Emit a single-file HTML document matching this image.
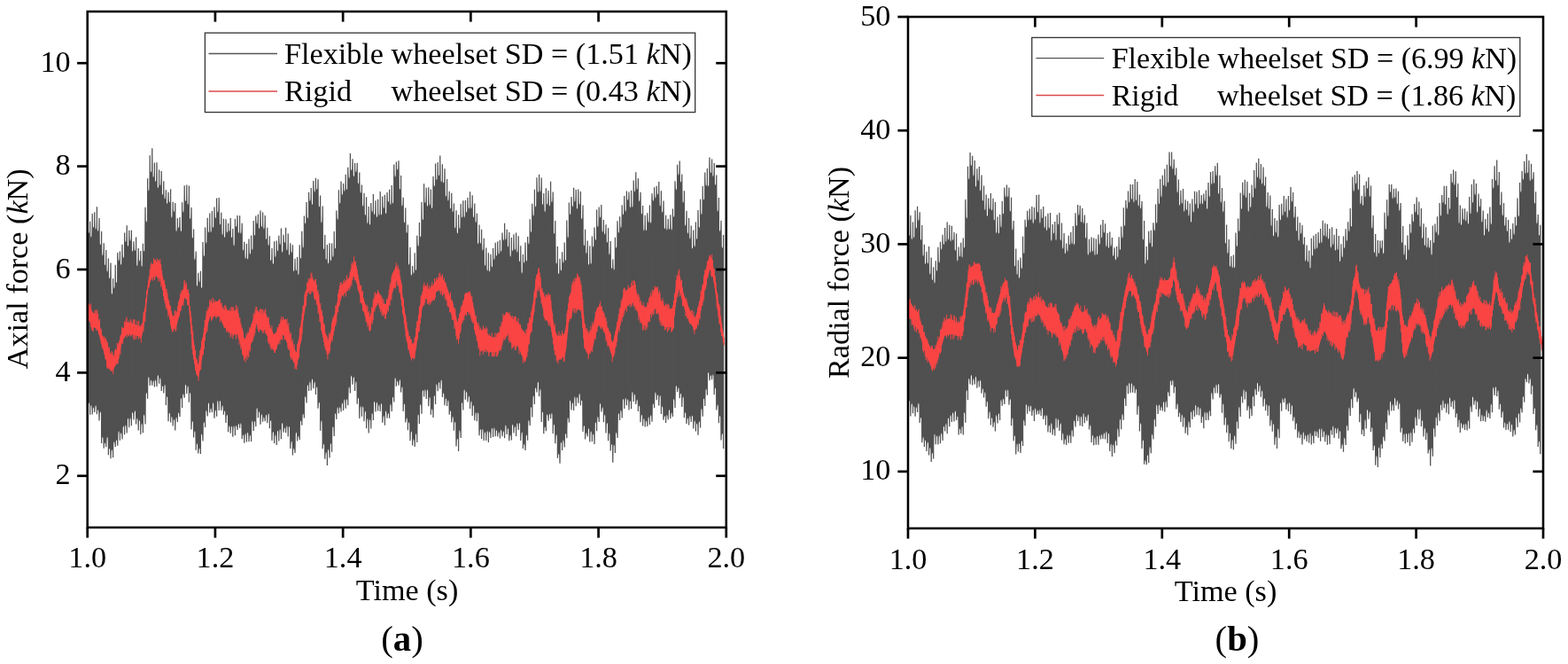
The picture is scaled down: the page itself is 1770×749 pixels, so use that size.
<!DOCTYPE html>
<html><head><meta charset="utf-8"><title>Axial and radial force</title>
<style>html,body{margin:0;padding:0;background:#fff;overflow:hidden;}svg{display:block;}
svg text{font-family:"Liberation Serif", "Times New Roman", serif;font-size:34.2px;}</style></head>
<body><svg width="1770" height="749" viewBox="0 0 1770 749">
<rect width="1770" height="749" fill="#fff"/>
<path d="M99.0,250.4 L99.5,261.3 L100.3,263.3 L101.0,261.3 L101.6,250.3 L102.1,265.9 L102.9,267.9 L103.6,265.9 L104.2,241.5 L104.7,255.0 L105.5,257.0 L106.2,255.0 L106.8,239.8 L107.3,257.1 L108.1,259.1 L108.8,257.1 L109.4,233.8 L109.9,259.0 L110.7,261.0 L111.4,259.0 L112.0,246.5 L112.5,274.6 L113.3,276.6 L114.0,274.6 L114.6,261.6 L115.1,286.7 L115.9,288.7 L116.6,286.7 L117.2,274.8 L117.7,297.6 L118.5,299.6 L119.2,297.6 L119.8,282.6 L120.3,304.9 L121.1,306.9 L121.8,304.9 L122.4,291.9 L122.9,312.4 L123.7,314.4 L124.4,312.4 L125.0,297.0 L125.5,330.2 L126.3,332.2 L127.0,330.2 L127.6,314.8 L128.1,323.8 L128.9,325.8 L129.6,323.8 L130.2,299.3 L130.7,317.3 L131.5,319.3 L132.2,317.3 L132.8,285.5 L133.3,292.8 L134.1,294.8 L134.8,292.8 L135.4,283.9 L135.9,297.1 L136.7,299.1 L137.4,297.1 L138.0,276.3 L138.5,289.3 L139.3,291.3 L140.0,289.3 L140.6,263.1 L141.1,271.6 L141.9,273.6 L142.6,271.6 L143.2,254.8 L143.7,275.9 L144.5,277.9 L145.2,275.9 L145.8,260.2 L146.3,270.2 L147.1,272.2 L147.8,270.2 L148.4,260.3 L148.9,282.0 L149.7,284.0 L150.4,282.0 L151.0,272.7 L151.5,281.2 L152.3,283.2 L153.0,281.2 L153.6,268.0 L154.1,298.4 L154.9,300.4 L155.6,298.4 L156.2,280.6 L156.7,292.8 L157.5,294.8 L158.2,292.8 L158.8,283.6 L159.3,299.2 L160.1,301.2 L160.8,299.2 L161.4,275.3 L161.9,282.0 L162.7,284.0 L163.4,282.0 L164.0,234.2 L164.5,248.7 L165.3,250.7 L166.0,248.7 L166.6,201.7 L167.1,213.7 L167.9,215.7 L168.6,213.7 L169.2,175.8 L169.7,192.5 L170.5,194.5 L171.2,192.5 L171.8,167.8 L172.3,198.6 L173.1,200.6 L173.8,198.6 L174.4,184.0 L174.9,203.2 L175.7,205.2 L176.4,203.2 L177.0,183.8 L177.5,210.4 L178.3,212.4 L179.0,210.4 L179.6,192.0 L180.1,207.7 L180.9,209.7 L181.6,207.7 L182.2,193.4 L182.7,218.1 L183.5,220.1 L184.2,218.1 L184.8,204.8 L185.3,222.9 L186.1,224.9 L186.8,222.9 L187.4,214.8 L187.9,228.2 L188.7,230.2 L189.4,228.2 L190.0,217.2 L190.5,226.7 L191.3,228.7 L192.0,226.7 L192.6,213.8 L193.1,244.0 L193.9,246.0 L194.6,244.0 L195.2,228.2 L195.7,237.3 L196.5,239.3 L197.2,237.3 L197.8,229.6 L198.3,259.6 L199.1,261.6 L199.8,259.6 L200.4,246.8 L200.9,255.6 L201.7,257.6 L202.4,255.6 L203.0,245.4 L203.5,259.6 L204.3,261.6 L205.0,259.6 L205.6,228.7 L206.1,237.9 L206.9,239.9 L207.6,237.9 L208.2,209.7 L208.7,225.3 L209.5,227.3 L210.2,225.3 L210.8,209.0 L211.3,229.2 L212.1,231.2 L212.8,229.2 L213.4,210.1 L213.9,245.2 L214.7,247.2 L215.4,245.2 L216.0,234.4 L216.5,266.9 L217.3,268.9 L218.0,266.9 L218.6,259.0 L219.1,291.6 L219.9,293.6 L220.6,291.6 L221.2,284.1 L221.7,321.0 L222.5,323.0 L223.2,321.0 L223.8,308.2 L224.3,316.7 L225.1,318.7 L225.8,316.7 L226.4,306.2 L226.9,323.3 L227.7,325.3 L228.4,323.3 L229.0,273.6 L229.5,287.6 L230.3,289.6 L231.0,287.6 L231.6,257.1 L232.1,272.9 L232.9,274.9 L233.6,272.9 L234.2,246.3 L234.7,260.5 L235.5,262.5 L236.2,260.5 L236.8,241.0 L237.3,260.5 L238.1,262.5 L238.8,260.5 L239.4,238.5 L239.9,255.3 L240.7,257.3 L241.4,255.3 L242.0,234.0 L242.5,244.5 L243.3,246.5 L244.0,244.5 L244.6,223.9 L245.1,237.9 L245.9,239.9 L246.6,237.9 L247.2,223.6 L247.7,251.8 L248.5,253.8 L249.2,251.8 L249.8,240.2 L250.3,263.6 L251.1,265.6 L251.8,263.6 L252.4,247.2 L252.9,266.2 L253.7,268.2 L254.4,266.2 L255.0,247.8 L255.5,260.7 L256.3,262.7 L257.0,260.7 L257.6,252.5 L258.1,259.6 L258.9,261.6 L259.6,259.6 L260.2,246.5 L260.7,266.4 L261.5,268.4 L262.2,266.4 L262.8,258.4 L263.3,275.8 L264.1,277.8 L264.8,275.8 L265.4,247.5 L265.9,254.3 L266.7,256.3 L267.4,254.3 L268.0,243.5 L268.5,261.2 L269.3,263.2 L270.0,261.2 L270.6,243.8 L271.1,262.1 L271.9,264.1 L272.6,262.1 L273.2,252.2 L273.7,280.8 L274.5,282.8 L275.2,280.8 L275.8,273.3 L276.3,290.2 L277.1,292.2 L277.8,290.2 L278.4,275.5 L278.9,290.8 L279.7,292.8 L280.4,290.8 L281.0,269.9 L281.5,284.9 L282.3,286.9 L283.0,284.9 L283.6,265.9 L284.1,280.5 L284.9,282.5 L285.6,280.5 L286.2,249.4 L286.7,264.1 L287.5,266.1 L288.2,264.1 L288.8,244.0 L289.3,251.1 L290.1,253.1 L290.8,251.1 L291.4,242.2 L291.9,256.3 L292.7,258.3 L293.4,256.3 L294.0,238.0 L294.6,254.3 L295.3,256.3 L296.1,254.3 L296.6,240.0 L297.2,256.7 L297.9,258.7 L298.7,256.7 L299.2,243.5 L299.8,268.2 L300.5,270.2 L301.3,268.2 L301.8,257.3 L302.4,275.6 L303.1,277.6 L303.9,275.6 L304.4,266.7 L305.0,292.5 L305.7,294.5 L306.5,292.5 L307.0,280.6 L307.6,296.3 L308.3,298.3 L309.1,296.3 L309.6,272.7 L310.2,288.5 L310.9,290.5 L311.7,288.5 L312.2,272.0 L312.8,281.6 L313.5,283.6 L314.3,281.6 L314.8,266.3 L315.4,274.6 L316.1,276.6 L316.9,274.6 L317.4,258.0 L318.0,282.9 L318.7,284.9 L319.5,282.9 L320.0,265.3 L320.6,272.3 L321.3,274.3 L322.1,272.3 L322.6,257.2 L323.2,280.9 L323.9,282.9 L324.7,280.9 L325.2,263.9 L325.8,286.0 L326.5,288.0 L327.3,286.0 L327.8,274.8 L328.4,283.6 L329.1,285.6 L329.9,283.6 L330.4,276.8 L331.0,304.4 L331.7,306.4 L332.5,304.4 L333.0,292.2 L333.6,303.8 L334.3,305.8 L335.1,303.8 L335.6,290.4 L336.2,308.4 L336.9,310.4 L337.7,308.4 L338.2,276.8 L338.8,290.0 L339.5,292.0 L340.3,290.0 L340.8,261.3 L341.4,278.1 L342.1,280.1 L342.9,278.1 L343.4,243.9 L344.0,250.7 L344.7,252.7 L345.5,250.7 L346.0,228.4 L346.6,244.4 L347.3,246.4 L348.1,244.4 L348.6,217.4 L349.2,225.4 L349.9,227.4 L350.7,225.4 L351.2,212.4 L351.8,229.3 L352.5,231.3 L353.3,229.3 L353.8,204.6 L354.4,214.9 L355.1,216.9 L355.9,214.9 L356.4,201.3 L357.0,212.3 L357.7,214.3 L358.5,212.3 L359.0,202.8 L359.6,231.7 L360.3,233.7 L361.1,231.7 L361.6,221.0 L362.2,249.7 L362.9,251.7 L363.7,249.7 L364.2,233.0 L364.8,279.5 L365.5,281.5 L366.3,279.5 L366.8,265.5 L367.4,291.4 L368.1,293.4 L368.9,291.4 L369.4,276.5 L370.0,295.8 L370.7,297.8 L371.5,295.8 L372.0,274.7 L372.6,292.4 L373.3,294.4 L374.1,292.4 L374.6,275.1 L375.2,288.4 L375.9,290.4 L376.7,288.4 L377.2,261.5 L377.8,278.8 L378.5,280.8 L379.3,278.8 L379.8,237.9 L380.4,246.2 L381.1,248.2 L381.9,246.2 L382.4,214.8 L383.0,228.0 L383.7,230.0 L384.5,228.0 L385.0,205.1 L385.6,218.3 L386.3,220.3 L387.1,218.3 L387.6,207.4 L388.2,214.3 L388.9,216.3 L389.7,214.3 L390.2,197.3 L390.8,212.2 L391.5,214.2 L392.3,212.2 L392.8,189.2 L393.4,199.5 L394.1,201.5 L394.9,199.5 L395.4,173.6 L396.0,190.4 L396.7,192.4 L397.5,190.4 L398.0,179.8 L398.6,197.4 L399.3,199.4 L400.1,197.4 L400.6,184.5 L401.2,192.8 L401.9,194.8 L402.7,192.8 L403.2,184.3 L403.8,205.5 L404.5,207.5 L405.3,205.5 L405.8,194.9 L406.4,216.2 L407.1,218.2 L407.9,216.2 L408.4,208.9 L409.0,230.9 L409.7,232.9 L410.5,230.9 L411.0,218.2 L411.6,241.2 L412.3,243.2 L413.1,241.2 L413.6,222.7 L414.2,250.5 L414.9,252.5 L415.7,250.5 L416.2,233.4 L416.8,251.9 L417.5,253.9 L418.3,251.9 L418.8,229.6 L419.4,237.7 L420.1,239.7 L420.9,237.7 L421.4,219.4 L422.0,240.6 L422.7,242.6 L423.5,240.6 L424.0,226.7 L424.6,243.4 L425.3,245.4 L426.1,243.4 L426.6,225.3 L427.2,241.5 L427.9,243.5 L428.7,241.5 L429.2,216.6 L429.8,240.8 L430.5,242.8 L431.3,240.8 L431.8,222.0 L432.4,233.6 L433.1,235.6 L433.9,233.6 L434.4,220.2 L435.0,239.5 L435.7,241.5 L436.5,239.5 L437.0,217.6 L437.6,226.2 L438.3,228.2 L439.1,226.2 L439.6,214.2 L440.2,229.5 L440.9,231.5 L441.7,229.5 L442.2,209.6 L442.8,227.8 L443.5,229.8 L444.3,227.8 L444.8,186.1 L445.4,197.9 L446.1,199.9 L446.9,197.9 L447.4,182.9 L448.0,189.9 L448.7,191.9 L449.5,189.9 L450.0,181.8 L450.6,212.0 L451.3,214.0 L452.1,212.0 L452.6,198.5 L453.2,230.9 L453.9,232.9 L454.7,230.9 L455.2,223.2 L455.8,249.5 L456.5,251.5 L457.3,249.5 L457.8,234.9 L458.4,261.4 L459.1,263.4 L459.9,261.4 L460.4,254.1 L461.0,297.1 L461.7,299.1 L462.5,297.1 L463.0,279.6 L463.6,309.1 L464.3,311.1 L465.1,309.1 L465.6,300.5 L466.2,307.1 L466.9,309.1 L467.7,307.1 L468.2,285.8 L468.8,303.3 L469.5,305.3 L470.3,303.3 L470.8,266.3 L471.4,276.3 L472.1,278.3 L472.9,276.3 L473.4,251.6 L474.0,265.8 L474.7,267.8 L475.5,265.8 L476.0,228.6 L476.6,246.6 L477.3,248.6 L478.1,246.6 L478.6,207.7 L479.2,227.4 L479.9,229.4 L480.7,227.4 L481.2,212.2 L481.8,231.0 L482.5,233.0 L483.3,231.0 L483.8,211.7 L484.4,229.9 L485.1,231.9 L485.9,229.9 L486.4,214.0 L487.0,233.5 L487.7,235.5 L488.5,233.5 L489.0,199.4 L489.6,208.4 L490.3,210.4 L491.1,208.4 L491.6,185.0 L492.2,201.5 L492.9,203.5 L493.7,201.5 L494.2,183.6 L494.8,196.4 L495.5,198.4 L496.3,196.4 L496.8,176.1 L497.4,203.8 L498.1,205.8 L498.9,203.8 L499.4,185.8 L500.0,204.7 L500.7,206.7 L501.5,204.7 L502.0,190.7 L502.6,219.9 L503.3,221.9 L504.1,219.9 L504.6,202.4 L505.2,225.1 L505.9,227.1 L506.7,225.1 L507.2,216.3 L507.8,233.7 L508.5,235.7 L509.3,233.7 L509.8,218.3 L510.4,237.8 L511.1,239.8 L511.9,237.8 L512.4,229.9 L513.0,255.7 L513.7,257.7 L514.5,255.7 L515.0,237.7 L515.6,261.8 L516.3,263.8 L517.1,261.8 L517.6,242.7 L518.2,256.6 L518.9,258.6 L519.7,256.6 L520.2,230.6 L520.8,243.8 L521.5,245.8 L522.3,243.8 L522.8,226.7 L523.4,243.8 L524.1,245.8 L524.9,243.8 L525.4,226.4 L526.0,238.1 L526.7,240.1 L527.5,238.1 L528.0,223.5 L528.6,233.8 L529.3,235.8 L530.1,233.8 L530.6,216.7 L531.2,233.7 L531.9,235.7 L532.7,233.7 L533.2,220.7 L533.8,243.5 L534.5,245.5 L535.3,243.5 L535.8,229.9 L536.4,249.6 L537.1,251.6 L537.9,249.6 L538.4,241.2 L539.0,273.4 L539.7,275.4 L540.5,273.4 L541.0,253.9 L541.6,273.0 L542.3,275.0 L543.1,273.0 L543.6,259.2 L544.2,280.9 L544.9,282.9 L545.7,280.9 L546.2,269.3 L546.8,298.1 L547.5,300.1 L548.3,298.1 L548.8,279.9 L549.4,303.9 L550.1,305.9 L550.9,303.9 L551.4,285.7 L552.0,304.7 L552.7,306.7 L553.5,304.7 L554.0,287.3 L554.6,299.7 L555.3,301.7 L556.1,299.7 L556.6,280.4 L557.2,291.6 L557.9,293.6 L558.7,291.6 L559.2,274.2 L559.8,286.9 L560.5,288.9 L561.3,286.9 L561.8,272.8 L562.4,285.1 L563.1,287.1 L563.9,285.1 L564.4,271.2 L565.0,282.2 L565.7,284.2 L566.5,282.2 L567.0,263.0 L567.6,269.5 L568.3,271.5 L569.1,269.5 L569.6,252.3 L570.2,269.0 L570.9,271.0 L571.7,269.0 L572.2,259.3 L572.8,276.7 L573.5,278.7 L574.3,276.7 L574.8,262.6 L575.4,287.9 L576.1,289.9 L576.9,287.9 L577.4,268.5 L578.0,281.6 L578.7,283.6 L579.5,281.6 L580.0,264.7 L580.6,280.2 L581.3,282.2 L582.1,280.2 L582.6,263.1 L583.2,283.3 L583.9,285.3 L584.7,283.3 L585.2,266.7 L585.8,293.5 L586.5,295.5 L587.3,293.5 L587.8,277.7 L588.4,306.7 L589.1,308.7 L589.9,306.7 L590.4,287.6 L591.0,295.1 L591.7,297.1 L592.5,295.1 L593.0,274.1 L593.6,293.1 L594.3,295.1 L595.1,293.1 L595.6,267.4 L596.2,274.1 L596.9,276.1 L597.7,274.1 L598.2,247.7 L598.8,260.3 L599.5,262.3 L600.3,260.3 L600.8,230.3 L601.4,241.9 L602.1,243.9 L602.9,241.9 L603.4,214.3 L604.0,231.7 L604.7,233.7 L605.5,231.7 L606.0,200.8 L606.6,215.2 L607.3,217.2 L608.1,215.2 L608.6,197.2 L609.2,214.7 L609.9,216.7 L610.7,214.7 L611.2,201.1 L611.8,229.3 L612.5,231.3 L613.3,229.3 L613.8,218.5 L614.4,237.6 L615.1,239.6 L615.9,237.6 L616.4,212.8 L617.0,229.1 L617.7,231.1 L618.5,229.1 L619.0,215.5 L619.6,230.7 L620.3,232.7 L621.1,230.7 L621.6,205.2 L622.2,226.8 L622.9,228.8 L623.7,226.8 L624.2,217.0 L624.8,262.0 L625.5,264.0 L626.3,262.0 L626.8,249.4 L627.4,296.0 L628.1,298.0 L628.9,296.0 L629.4,278.4 L630.0,307.5 L630.7,309.5 L631.5,307.5 L632.0,292.3 L632.6,303.7 L633.3,305.7 L634.1,303.7 L634.6,284.8 L635.2,294.9 L635.9,296.9 L636.7,294.9 L637.2,274.1 L637.8,292.3 L638.5,294.3 L639.3,292.3 L639.8,249.1 L640.4,266.7 L641.1,268.7 L641.9,266.7 L642.4,229.0 L643.0,240.4 L643.7,242.4 L644.5,240.4 L645.0,222.4 L645.6,231.4 L646.3,233.4 L647.1,231.4 L647.6,212.2 L648.2,226.3 L648.9,228.3 L649.7,226.3 L650.2,214.5 L650.8,233.9 L651.5,235.9 L652.3,233.9 L652.8,214.1 L653.4,229.3 L654.1,231.3 L654.9,229.3 L655.4,216.5 L656.0,245.4 L656.7,247.4 L657.5,245.4 L658.0,231.9 L658.6,275.5 L659.3,277.5 L660.1,275.5 L660.6,259.2 L661.2,284.6 L661.9,286.6 L662.7,284.6 L663.2,271.9 L663.8,297.1 L664.5,299.1 L665.3,297.1 L665.8,277.8 L666.4,296.3 L667.1,298.3 L667.9,296.3 L668.4,267.1 L669.0,276.9 L669.7,278.9 L670.5,276.9 L671.0,257.1 L671.6,269.3 L672.3,271.3 L673.1,269.3 L673.6,237.1 L674.2,254.5 L674.9,256.5 L675.7,254.5 L676.2,233.9 L676.8,243.8 L677.5,245.8 L678.3,243.8 L678.8,231.5 L679.4,260.3 L680.1,262.3 L680.9,260.3 L681.4,248.6 L682.0,262.7 L682.7,264.7 L683.5,262.7 L684.0,253.8 L684.6,271.9 L685.3,273.9 L686.1,271.9 L686.6,257.7 L687.2,285.8 L687.9,287.8 L688.7,285.8 L689.2,272.4 L689.8,301.2 L690.5,303.2 L691.3,301.2 L691.8,293.0 L692.4,303.0 L693.1,305.0 L693.9,303.0 L694.4,268.2 L695.0,278.0 L695.7,280.0 L696.5,278.0 L697.0,249.8 L697.6,261.0 L698.3,263.0 L699.1,261.0 L699.6,244.7 L700.2,255.5 L700.9,257.5 L701.7,255.5 L702.2,231.8 L702.8,240.5 L703.5,242.5 L704.3,240.5 L704.8,221.4 L705.4,236.9 L706.1,238.9 L706.9,236.9 L707.4,216.0 L708.0,224.2 L708.7,226.2 L709.5,224.2 L710.0,217.1 L710.6,232.5 L711.3,234.5 L712.1,232.5 L712.6,215.2 L713.2,232.2 L713.9,234.2 L714.7,232.2 L715.2,203.9 L715.8,214.4 L716.5,216.4 L717.3,214.4 L717.8,194.8 L718.4,212.3 L719.1,214.3 L719.9,212.3 L720.4,201.7 L721.0,225.4 L721.7,227.4 L722.5,225.4 L723.0,217.2 L723.6,239.9 L724.3,241.9 L725.1,239.9 L725.6,232.4 L726.2,258.8 L726.9,260.8 L727.7,258.8 L728.2,243.2 L728.8,258.6 L729.5,260.6 L730.3,258.6 L730.8,240.7 L731.4,249.6 L732.1,251.6 L732.9,249.6 L733.4,231.9 L734.0,249.9 L734.7,251.9 L735.5,249.9 L736.0,218.7 L736.6,225.0 L737.3,227.0 L738.1,225.0 L738.6,211.8 L739.2,222.1 L739.9,224.1 L740.7,222.1 L741.2,210.3 L741.8,217.7 L742.5,219.7 L743.3,217.7 L743.8,205.4 L744.4,231.1 L745.1,233.1 L745.9,231.1 L746.4,215.8 L747.0,237.9 L747.7,239.9 L748.5,237.9 L749.0,227.1 L749.6,256.5 L750.3,258.5 L751.1,256.5 L751.6,243.3 L752.2,258.1 L752.9,260.1 L753.7,258.1 L754.2,247.4 L754.8,257.1 L755.5,259.1 L756.3,257.1 L756.8,242.8 L757.4,258.1 L758.1,260.1 L758.9,258.1 L759.4,235.9 L760.0,243.3 L760.7,245.3 L761.5,243.3 L762.0,204.8 L762.6,212.5 L763.3,214.5 L764.1,212.5 L764.6,186.3 L765.2,196.1 L765.9,198.1 L766.7,196.1 L767.2,182.0 L767.8,203.7 L768.5,205.7 L769.3,203.7 L769.8,197.0 L770.4,227.3 L771.1,229.3 L771.9,227.3 L772.4,215.8 L773.0,252.9 L773.7,254.9 L774.5,252.9 L775.0,238.2 L775.6,261.7 L776.3,263.7 L777.1,261.7 L777.6,246.5 L778.2,268.0 L778.9,270.0 L779.7,268.0 L780.2,254.9 L780.8,278.7 L781.5,280.7 L782.3,278.7 L782.8,259.9 L783.4,276.8 L784.1,278.8 L784.9,276.8 L785.4,250.9 L786.0,268.3 L786.7,270.3 L787.5,268.3 L788.0,237.4 L788.6,255.2 L789.3,257.2 L790.1,255.2 L790.6,225.2 L791.2,240.4 L791.9,242.4 L792.7,240.4 L793.2,210.6 L793.8,223.8 L794.5,225.8 L795.3,223.8 L795.8,195.0 L796.4,208.3 L797.1,210.3 L797.9,208.3 L798.4,190.4 L799.0,208.5 L799.7,210.5 L800.5,208.5 L801.0,178.0 L801.6,193.5 L802.3,195.5 L803.1,193.5 L803.6,180.0 L804.2,197.5 L804.9,199.5 L805.7,197.5 L806.2,184.5 L806.8,207.1 L807.5,209.1 L808.3,207.1 L808.8,198.0 L809.4,236.9 L810.1,238.9 L810.9,236.9 L811.4,223.4 L812.0,259.2 L812.7,261.2 L813.5,259.2 L814.0,249.3 L814.6,277.9 L815.3,279.9 L816.1,277.9 L816.6,265.4 L816.6,505.6 L816.1,490.8 L815.3,488.8 L814.6,490.8 L814.0,496.0 L813.5,470.6 L812.7,468.6 L812.0,470.6 L811.4,476.7 L810.9,457.9 L810.1,455.9 L809.4,457.9 L808.8,462.0 L808.3,439.3 L807.5,437.3 L806.8,439.3 L806.2,444.8 L805.7,424.0 L804.9,422.0 L804.2,424.0 L803.6,427.6 L803.1,424.9 L802.3,422.9 L801.6,424.9 L801.0,428.7 L800.5,421.8 L799.7,419.8 L799.0,421.8 L798.4,445.3 L797.9,440.2 L797.1,438.2 L796.4,440.2 L795.8,457.6 L795.3,451.2 L794.5,449.2 L793.8,451.2 L793.2,469.2 L792.7,462.5 L791.9,460.5 L791.2,462.5 L790.6,482.1 L790.1,476.9 L789.3,474.9 L788.6,476.9 L788.0,490.2 L787.5,479.3 L786.7,477.3 L786.0,479.3 L785.4,485.9 L784.9,476.1 L784.1,474.1 L783.4,476.1 L782.8,483.0 L782.3,470.5 L781.5,468.5 L780.8,470.5 L780.2,475.4 L779.7,470.8 L778.9,468.8 L778.2,470.8 L777.6,479.0 L777.1,473.2 L776.3,471.2 L775.6,473.2 L775.0,477.4 L774.5,466.7 L773.7,464.7 L773.0,466.7 L772.4,470.7 L771.9,449.3 L771.1,447.3 L770.4,449.3 L769.8,458.4 L769.3,445.5 L768.5,443.5 L767.8,445.5 L767.2,448.8 L766.7,438.7 L765.9,436.7 L765.2,438.7 L764.6,441.4 L764.1,436.8 L763.3,434.8 L762.6,436.8 L762.0,459.4 L761.5,451.8 L760.7,449.8 L760.0,451.8 L759.4,469.5 L758.9,466.9 L758.1,464.9 L757.4,466.9 L756.8,471.7 L756.3,463.9 L755.5,461.9 L754.8,463.9 L754.2,472.9 L753.7,469.6 L752.9,467.6 L752.2,469.6 L751.6,476.5 L751.1,470.8 L750.3,468.8 L749.6,470.8 L749.0,473.3 L748.5,460.0 L747.7,458.0 L747.0,460.0 L746.4,466.6 L745.9,447.6 L745.1,445.6 L744.4,447.6 L743.8,457.0 L743.3,446.9 L742.5,444.9 L741.8,446.9 L741.2,450.8 L740.7,444.0 L739.9,442.0 L739.2,444.0 L738.6,459.4 L738.1,456.9 L737.3,454.9 L736.6,456.9 L736.0,475.2 L735.5,469.9 L734.7,467.9 L734.0,469.9 L733.4,478.4 L732.9,472.0 L732.1,470.0 L731.4,472.0 L730.8,480.4 L730.3,476.5 L729.5,474.5 L728.8,476.5 L728.2,481.0 L727.7,473.6 L726.9,471.6 L726.2,473.6 L725.6,480.0 L725.1,469.5 L724.3,467.5 L723.6,469.5 L723.0,475.7 L722.5,459.3 L721.7,457.3 L721.0,459.3 L720.4,463.4 L719.9,452.3 L719.1,450.3 L718.4,452.3 L717.8,455.5 L717.3,446.5 L716.5,444.5 L715.8,446.5 L715.2,452.4 L714.7,443.6 L713.9,441.6 L713.2,443.6 L712.6,460.7 L712.1,453.8 L711.3,451.8 L710.6,453.8 L710.0,462.1 L709.5,452.1 L708.7,450.1 L708.0,452.1 L707.4,456.7 L706.9,450.6 L706.1,448.6 L705.4,450.6 L704.8,460.5 L704.3,451.8 L703.5,449.8 L702.8,451.8 L702.2,470.9 L701.7,464.3 L700.9,462.3 L700.2,464.3 L699.6,473.6 L699.1,467.9 L698.3,465.9 L697.6,467.9 L697.0,493.4 L696.5,489.5 L695.7,487.5 L695.0,489.5 L694.4,510.5 L693.9,503.2 L693.1,501.2 L692.4,503.2 L691.8,521.2 L691.3,502.7 L690.5,500.7 L689.8,502.7 L689.2,507.9 L688.7,490.0 L687.9,488.0 L687.2,490.0 L686.6,496.7 L686.1,478.8 L685.3,476.8 L684.6,478.8 L684.0,488.0 L683.5,469.5 L682.7,467.5 L682.0,469.5 L681.4,475.8 L680.9,460.9 L680.1,458.9 L679.4,460.9 L678.8,464.1 L678.3,456.7 L677.5,454.7 L676.8,456.7 L676.2,475.4 L675.7,471.5 L674.9,469.5 L674.2,471.5 L673.6,485.8 L673.1,478.0 L672.3,476.0 L671.6,478.0 L671.0,500.6 L670.5,491.2 L669.7,489.2 L669.0,491.2 L668.4,497.4 L667.9,488.1 L667.1,486.1 L666.4,488.1 L665.8,498.0 L665.3,485.0 L664.5,483.0 L663.8,485.0 L663.2,492.0 L662.7,489.7 L661.9,487.7 L661.2,489.7 L660.6,495.1 L660.1,481.7 L659.3,479.7 L658.6,481.7 L658.0,486.4 L657.5,453.0 L656.7,451.0 L656.0,453.0 L655.4,456.8 L654.9,445.4 L654.1,443.4 L653.4,445.4 L652.8,454.2 L652.3,449.8 L651.5,447.8 L650.8,449.8 L650.2,457.8 L649.7,449.1 L648.9,447.1 L648.2,449.1 L647.6,462.6 L647.1,456.1 L646.3,454.1 L645.6,456.1 L645.0,462.1 L644.5,453.3 L643.7,451.3 L643.0,453.3 L642.4,475.9 L641.9,472.8 L641.1,470.8 L640.4,472.8 L639.8,493.8 L639.3,490.7 L638.5,488.7 L637.8,490.7 L637.2,504.1 L636.7,498.1 L635.9,496.1 L635.2,498.1 L634.6,507.5 L634.1,500.4 L633.3,498.4 L632.6,500.4 L632.0,522.3 L631.5,513.4 L630.7,511.4 L630.0,513.4 L629.4,516.3 L628.9,491.8 L628.1,489.8 L627.4,491.8 L626.8,499.7 L626.3,480.4 L625.5,478.4 L624.8,480.4 L624.2,488.4 L623.7,467.4 L622.9,465.4 L622.2,467.4 L621.6,471.7 L621.1,468.5 L620.3,466.5 L619.6,468.5 L619.0,474.2 L618.5,468.9 L617.7,466.9 L617.0,468.9 L616.4,485.7 L615.9,482.7 L615.1,480.7 L614.4,482.7 L613.8,488.8 L613.3,466.3 L612.5,464.3 L611.8,466.3 L611.2,475.4 L610.7,440.6 L609.9,438.6 L609.2,440.6 L608.6,446.7 L608.1,432.4 L607.3,430.4 L606.6,432.4 L606.0,441.9 L605.5,438.9 L604.7,436.9 L604.0,438.9 L603.4,455.6 L602.9,448.1 L602.1,446.1 L601.4,448.1 L600.8,470.0 L600.3,460.8 L599.5,458.8 L598.8,460.8 L598.2,479.5 L597.7,475.4 L596.9,473.4 L596.2,475.4 L595.6,496.2 L595.1,492.3 L594.3,490.3 L593.6,492.3 L593.0,507.6 L592.5,502.4 L591.7,500.4 L591.0,502.4 L590.4,505.6 L589.9,488.9 L589.1,486.9 L588.4,488.9 L587.8,496.4 L587.3,478.8 L586.5,476.8 L585.8,478.8 L585.2,484.6 L584.7,478.8 L583.9,476.8 L583.2,478.8 L582.6,491.5 L582.1,482.7 L581.3,480.7 L580.6,482.7 L580.0,488.1 L579.5,480.5 L578.7,478.5 L578.0,480.5 L577.4,496.0 L576.9,491.9 L576.1,489.9 L575.4,491.9 L574.8,496.7 L574.3,485.0 L573.5,483.0 L572.8,485.0 L572.2,489.4 L571.7,480.9 L570.9,478.9 L570.2,480.9 L569.6,493.7 L569.1,488.1 L568.3,486.1 L567.6,488.1 L567.0,491.7 L566.5,486.4 L565.7,484.4 L565.0,486.4 L564.4,494.1 L563.9,488.8 L563.1,486.8 L562.4,488.8 L561.8,492.0 L561.3,486.9 L560.5,484.9 L559.8,486.9 L559.2,491.7 L558.7,484.0 L557.9,482.0 L557.2,484.0 L556.6,492.5 L556.1,484.4 L555.3,482.4 L554.6,484.4 L554.0,493.5 L553.5,488.4 L552.7,486.4 L552.0,488.4 L551.4,498.5 L550.9,487.5 L550.1,485.5 L549.4,487.5 L548.8,496.5 L548.3,489.3 L547.5,487.3 L546.8,489.3 L546.2,496.4 L545.7,485.4 L544.9,483.4 L544.2,485.4 L543.6,494.4 L543.1,485.8 L542.3,483.8 L541.6,485.8 L541.0,490.7 L540.5,467.1 L539.7,465.1 L539.0,467.1 L538.4,474.7 L537.9,466.8 L537.1,464.8 L536.4,466.8 L535.8,473.7 L535.3,459.0 L534.5,457.0 L533.8,459.0 L533.2,468.4 L532.7,454.0 L531.9,452.0 L531.2,454.0 L530.6,460.5 L530.1,448.4 L529.3,446.4 L528.6,448.4 L528.0,452.9 L527.5,443.4 L526.7,441.4 L526.0,443.4 L525.4,450.2 L524.9,441.1 L524.1,439.1 L523.4,441.1 L522.8,462.0 L522.3,455.8 L521.5,453.8 L520.8,455.8 L520.2,493.4 L519.7,487.1 L518.9,485.1 L518.2,487.1 L517.6,508.4 L517.1,496.6 L516.3,494.6 L515.6,496.6 L515.0,502.9 L514.5,477.6 L513.7,475.6 L513.0,477.6 L512.4,485.3 L511.9,471.5 L511.1,469.5 L510.4,471.5 L509.8,476.0 L509.3,465.0 L508.5,463.0 L507.8,465.0 L507.2,467.3 L506.7,453.1 L505.9,451.1 L505.2,453.1 L504.6,457.5 L504.1,451.1 L503.3,449.1 L502.6,451.1 L502.0,456.7 L501.5,444.9 L500.7,442.9 L500.0,444.9 L499.4,447.5 L498.9,429.9 L498.1,427.9 L497.4,429.9 L496.8,437.9 L496.3,432.7 L495.5,430.7 L494.8,432.7 L494.2,440.7 L493.7,434.7 L492.9,432.7 L492.2,434.7 L491.6,455.5 L491.1,447.8 L490.3,445.8 L489.6,447.8 L489.0,470.6 L488.5,463.1 L487.7,461.1 L487.0,463.1 L486.4,467.2 L485.9,449.6 L485.1,447.6 L484.4,449.6 L483.8,457.7 L483.3,441.3 L482.5,439.3 L481.8,441.3 L481.2,449.4 L480.7,440.9 L479.9,438.9 L479.2,440.9 L478.6,447.1 L478.1,441.7 L477.3,439.7 L476.6,441.7 L476.0,466.2 L475.5,457.7 L474.7,455.7 L474.0,457.7 L473.4,477.6 L472.9,468.9 L472.1,466.9 L471.4,468.9 L470.8,498.4 L470.3,491.0 L469.5,489.0 L468.8,491.0 L468.2,503.4 L467.7,496.9 L466.9,494.9 L466.2,496.9 L465.6,501.9 L465.1,488.3 L464.3,486.3 L463.6,488.3 L463.0,496.8 L462.5,477.9 L461.7,475.9 L461.0,477.9 L460.4,484.8 L459.9,473.0 L459.1,471.0 L458.4,473.0 L457.8,475.9 L457.3,457.3 L456.5,455.3 L455.8,457.3 L455.2,463.4 L454.7,437.8 L453.9,435.8 L453.2,437.8 L452.6,442.0 L452.1,430.0 L451.3,428.0 L450.6,430.0 L450.0,434.2 L449.5,431.2 L448.7,429.2 L448.0,431.2 L447.4,435.2 L446.9,427.7 L446.1,425.7 L445.4,427.7 L444.8,453.0 L444.3,449.4 L443.5,447.4 L442.8,449.4 L442.2,463.6 L441.7,457.2 L440.9,455.2 L440.2,457.2 L439.6,471.2 L439.1,467.8 L438.3,465.8 L437.6,467.8 L437.0,471.3 L436.5,465.2 L435.7,463.2 L435.0,465.2 L434.4,479.3 L433.9,470.5 L433.1,468.5 L432.4,470.5 L431.8,476.2 L431.3,456.7 L430.5,454.7 L429.8,456.7 L429.2,463.6 L428.7,458.1 L427.9,456.1 L427.2,458.1 L426.6,463.0 L426.1,455.6 L425.3,453.6 L424.6,455.6 L424.0,464.0 L423.5,454.6 L422.7,452.6 L422.0,454.6 L421.4,473.5 L420.9,467.5 L420.1,465.5 L419.4,467.5 L418.8,482.9 L418.3,474.9 L417.5,472.9 L416.8,474.9 L416.2,487.9 L415.7,473.8 L414.9,471.8 L414.2,473.8 L413.6,482.8 L413.1,465.4 L412.3,463.4 L411.6,465.4 L411.0,474.7 L410.5,460.3 L409.7,458.3 L409.0,460.3 L408.4,469.2 L407.9,459.8 L407.1,457.8 L406.4,459.8 L405.8,471.4 L405.3,450.6 L404.5,448.6 L403.8,450.6 L403.2,455.3 L402.7,431.8 L401.9,429.8 L401.2,431.8 L400.6,440.6 L400.1,427.1 L399.3,425.1 L398.6,427.1 L398.0,433.2 L397.5,425.5 L396.7,423.5 L396.0,425.5 L395.4,442.9 L394.9,438.1 L394.1,436.1 L393.4,438.1 L392.8,456.4 L392.3,451.9 L391.5,449.9 L390.8,451.9 L390.2,460.2 L389.7,452.1 L388.9,450.1 L388.2,452.1 L387.6,462.6 L387.1,456.2 L386.3,454.2 L385.6,456.2 L385.0,464.0 L384.5,461.0 L383.7,459.0 L383.0,461.0 L382.4,465.8 L381.9,460.9 L381.1,458.9 L380.4,460.9 L379.8,472.4 L379.3,468.0 L378.5,466.0 L377.8,468.0 L377.2,491.5 L376.7,482.8 L375.9,480.8 L375.2,482.8 L374.6,509.2 L374.1,501.8 L373.3,499.8 L372.6,501.8 L372.0,516.0 L371.5,508.5 L370.7,506.5 L370.0,508.5 L369.4,524.5 L368.9,511.6 L368.1,509.6 L367.4,511.6 L366.8,517.2 L366.3,502.6 L365.5,500.6 L364.8,502.6 L364.2,505.7 L363.7,476.1 L362.9,474.1 L362.2,476.1 L361.6,485.3 L361.1,455.6 L360.3,453.6 L359.6,455.6 L359.0,460.3 L358.5,438.0 L357.7,436.0 L357.0,438.0 L356.4,444.4 L355.9,432.3 L355.1,430.3 L354.4,432.3 L353.8,437.7 L353.3,429.2 L352.5,427.2 L351.8,429.2 L351.2,439.9 L350.7,431.9 L349.9,429.9 L349.2,431.9 L348.6,440.5 L348.1,435.9 L347.3,433.9 L346.6,435.9 L346.0,453.9 L345.5,448.8 L344.7,446.8 L344.0,448.8 L343.4,471.1 L342.9,468.2 L342.1,466.2 L341.4,468.2 L340.8,479.3 L340.3,476.3 L339.5,474.3 L338.8,476.3 L338.2,495.7 L337.7,493.2 L336.9,491.2 L336.2,493.2 L335.6,496.9 L335.1,489.5 L334.3,487.5 L333.6,489.5 L333.0,510.6 L332.5,507.4 L331.7,505.4 L331.0,507.4 L330.4,513.1 L329.9,499.3 L329.1,497.3 L328.4,499.3 L327.8,505.4 L327.3,482.7 L326.5,480.7 L325.8,482.7 L325.2,492.1 L324.7,482.1 L323.9,480.1 L323.2,482.1 L322.6,487.8 L322.1,484.3 L321.3,482.3 L320.6,484.3 L320.0,487.3 L319.5,478.8 L318.7,476.8 L318.0,478.8 L317.4,494.7 L316.9,485.8 L316.1,483.8 L315.4,485.8 L314.8,496.9 L314.3,487.6 L313.5,485.6 L312.8,487.6 L312.2,501.4 L311.7,491.9 L310.9,489.9 L310.2,491.9 L309.6,499.6 L309.1,488.7 L308.3,486.7 L307.6,488.7 L307.0,496.4 L306.5,475.7 L305.7,473.7 L305.0,475.7 L304.4,482.8 L303.9,468.0 L303.1,466.0 L302.4,468.0 L301.8,476.7 L301.3,469.4 L300.5,467.4 L299.8,469.4 L299.2,474.7 L298.7,472.0 L297.9,470.0 L297.2,472.0 L296.6,475.2 L296.1,468.9 L295.3,466.9 L294.6,468.9 L294.0,478.3 L293.4,466.0 L292.7,464.0 L291.9,466.0 L291.4,470.8 L290.8,461.8 L290.1,459.8 L289.3,461.8 L288.8,480.8 L288.2,476.8 L287.5,474.8 L286.7,476.8 L286.2,485.5 L285.6,476.2 L284.9,474.2 L284.1,476.2 L283.6,497.6 L283.0,492.5 L282.3,490.5 L281.5,492.5 L281.0,497.8 L280.4,489.4 L279.7,487.4 L278.9,489.4 L278.4,498.1 L277.8,490.4 L277.1,488.4 L276.3,490.4 L275.8,499.3 L275.2,492.3 L274.5,490.3 L273.7,492.3 L273.2,494.8 L272.6,479.1 L271.9,477.1 L271.1,479.1 L270.6,482.2 L270.0,479.6 L269.3,477.6 L268.5,479.6 L268.0,484.5 L267.4,481.8 L266.7,479.8 L265.9,481.8 L265.4,490.8 L264.8,482.0 L264.1,480.0 L263.3,482.0 L262.8,492.2 L262.2,482.6 L261.5,480.6 L260.7,482.6 L260.2,488.2 L259.6,481.8 L258.9,479.8 L258.1,481.8 L257.6,486.8 L257.0,469.5 L256.3,467.5 L255.5,469.5 L255.0,476.6 L254.4,464.9 L253.7,462.9 L252.9,464.9 L252.4,467.3 L251.8,459.1 L251.1,457.1 L250.3,459.1 L249.8,462.5 L249.2,453.7 L248.5,451.7 L247.7,453.7 L247.2,462.4 L246.6,453.5 L245.9,451.5 L245.1,453.5 L244.6,469.2 L244.0,464.2 L243.3,462.2 L242.5,464.2 L242.0,471.3 L241.4,456.1 L240.7,454.1 L239.9,456.1 L239.4,464.6 L238.8,461.9 L238.1,459.9 L237.3,461.9 L236.8,465.1 L236.2,456.2 L235.5,454.2 L234.7,456.2 L234.2,469.1 L233.6,464.5 L232.9,462.5 L232.1,464.5 L231.6,481.6 L231.0,477.8 L230.3,475.8 L229.5,477.8 L229.0,497.0 L228.4,491.3 L227.7,489.3 L226.9,491.3 L226.4,511.6 L225.8,506.9 L225.1,504.9 L224.3,506.9 L223.8,510.9 L223.2,502.1 L222.5,500.1 L221.7,502.1 L221.2,507.2 L220.6,487.8 L219.9,485.8 L219.1,487.8 L218.6,493.0 L218.0,476.8 L217.3,474.8 L216.5,476.8 L216.0,484.1 L215.4,444.8 L214.7,442.8 L213.9,444.8 L213.4,453.2 L212.8,436.9 L212.1,434.9 L211.3,436.9 L210.8,443.7 L210.2,435.5 L209.5,433.5 L208.7,435.5 L208.2,448.3 L207.6,445.8 L206.9,443.8 L206.1,445.8 L205.6,459.4 L205.0,450.7 L204.3,448.7 L203.5,450.7 L203.0,469.7 L202.4,467.0 L201.7,465.0 L200.9,467.0 L200.4,475.4 L199.8,472.3 L199.1,470.3 L198.3,472.3 L197.8,485.0 L197.2,474.8 L196.5,472.8 L195.7,474.8 L195.2,480.0 L194.6,471.6 L193.9,469.6 L193.1,471.6 L192.6,476.1 L192.0,467.2 L191.3,465.2 L190.5,467.2 L190.0,474.7 L189.4,448.9 L188.7,446.9 L187.9,448.9 L187.4,456.6 L186.8,435.5 L186.1,433.5 L185.3,435.5 L184.8,442.9 L184.2,437.1 L183.5,435.1 L182.7,437.1 L182.2,440.4 L181.6,428.1 L180.9,426.1 L180.1,428.1 L179.6,432.3 L179.0,424.7 L178.3,422.7 L177.5,424.7 L177.0,435.7 L176.4,430.2 L175.7,428.2 L174.9,430.2 L174.4,436.1 L173.8,430.7 L173.1,428.7 L172.3,430.7 L171.8,434.2 L171.2,430.5 L170.5,428.5 L169.7,430.5 L169.2,434.5 L168.6,426.7 L167.9,424.7 L167.1,426.7 L166.6,449.3 L166.0,444.7 L165.3,442.7 L164.5,444.7 L164.0,478.1 L163.4,469.4 L162.7,467.4 L161.9,469.4 L161.4,487.7 L160.8,479.3 L160.1,477.3 L159.3,479.3 L158.8,489.6 L158.2,475.8 L157.5,473.8 L156.7,475.8 L156.2,485.1 L155.6,473.2 L154.9,471.2 L154.1,473.2 L153.6,477.9 L153.0,465.1 L152.3,463.1 L151.5,465.1 L151.0,473.1 L150.4,466.7 L149.7,464.7 L148.9,466.7 L148.4,479.8 L147.8,473.1 L147.1,471.1 L146.3,473.1 L145.8,481.8 L145.2,473.6 L144.5,471.6 L143.7,473.6 L143.2,488.1 L142.6,481.1 L141.9,479.1 L141.1,481.1 L140.6,489.8 L140.0,482.2 L139.3,480.2 L138.5,482.2 L138.0,495.0 L137.4,490.0 L136.7,488.0 L135.9,490.0 L135.4,496.3 L134.8,488.0 L134.1,486.0 L133.3,488.0 L132.8,502.3 L132.2,498.0 L131.5,496.0 L130.7,498.0 L130.2,503.6 L129.6,499.8 L128.9,497.8 L128.1,499.8 L127.6,515.5 L127.0,508.9 L126.3,506.9 L125.5,508.9 L125.0,516.7 L124.4,507.6 L123.7,505.6 L122.9,507.6 L122.4,512.8 L121.8,494.6 L121.1,492.6 L120.3,494.6 L119.8,503.7 L119.2,501.3 L118.5,499.3 L117.7,501.3 L117.2,505.2 L116.6,494.6 L115.9,492.6 L115.1,494.6 L114.6,499.5 L114.0,466.3 L113.3,464.3 L112.5,466.3 L112.0,474.0 L111.4,464.1 L110.7,462.1 L109.9,464.1 L109.4,466.7 L108.8,458.8 L108.1,456.8 L107.3,458.8 L106.8,464.6 L106.2,461.2 L105.5,459.2 L104.7,461.2 L104.2,467.0 L103.6,458.4 L102.9,456.4 L102.1,458.4 L101.6,467.3 L101.0,456.1 L100.3,454.1 L99.5,456.1 L99.0,460.3Z" fill="#505050"/>
<path d="M99.0,249.9V460.8M101.6,249.8V467.8M104.2,241.0V467.5M106.8,239.3V465.1M109.4,233.3V467.2M112.0,246.0V474.5M114.6,261.1V500.0M117.2,274.3V505.7M119.8,282.1V504.2M122.4,291.4V513.3M125.0,296.5V517.2M127.6,314.3V516.0M130.2,298.8V504.1M132.8,285.0V502.8M135.4,283.4V496.8M138.0,275.8V495.5M140.6,262.6V490.3M143.2,254.3V488.6M145.8,259.7V482.3M148.4,259.8V480.3M151.0,272.2V473.6M153.6,267.5V478.4M156.2,280.1V485.6M158.8,283.1V490.1M161.4,274.8V488.2M164.0,233.7V478.6M166.6,201.2V449.8M169.2,175.3V435.0M171.8,167.3V434.7M174.4,183.5V436.6M177.0,183.3V436.2M179.6,191.5V432.8M182.2,192.9V440.9M184.8,204.3V443.4M187.4,214.3V457.1M190.0,216.7V475.2M192.6,213.3V476.6M195.2,227.7V480.5M197.8,229.1V485.5M200.4,246.3V475.9M203.0,244.9V470.2M205.6,228.2V459.9M208.2,209.2V448.8M210.8,208.5V444.2M213.4,209.6V453.7M216.0,233.9V484.6M218.6,258.5V493.5M221.2,283.6V507.7M223.8,307.7V511.4M226.4,305.7V512.1M229.0,273.1V497.5M231.6,256.6V482.1M234.2,245.8V469.6M236.8,240.5V465.6M239.4,238.0V465.1M242.0,233.5V471.8M244.6,223.4V469.7M247.2,223.1V462.9M249.8,239.7V463.0M252.4,246.7V467.8M255.0,247.3V477.1M257.6,252.0V487.3M260.2,246.0V488.7M262.8,257.9V492.7M265.4,247.0V491.3M268.0,243.0V485.0M270.6,243.3V482.7M273.2,251.7V495.3M275.8,272.8V499.8M278.4,275.0V498.6M281.0,269.4V498.3M283.6,265.4V498.1M286.2,248.9V486.0M288.8,243.5V481.3M291.4,241.7V471.3M294.0,237.5V478.8M296.6,239.5V475.7M299.2,243.0V475.2M301.8,256.8V477.2M304.4,266.2V483.3M307.0,280.1V496.9M309.6,272.2V500.1M312.2,271.5V501.9M314.8,265.8V497.4M317.4,257.5V495.2M320.0,264.8V487.8M322.6,256.7V488.3M325.2,263.4V492.6M327.8,274.3V505.9M330.4,276.3V513.6M333.0,291.7V511.1M335.6,289.9V497.4M338.2,276.3V496.2M340.8,260.8V479.8M343.4,243.4V471.6M346.0,227.9V454.4M348.6,216.9V441.0M351.2,211.9V440.4M353.8,204.1V438.2M356.4,200.8V444.9M359.0,202.3V460.8M361.6,220.5V485.8M364.2,232.5V506.2M366.8,265.0V517.7M369.4,276.0V525.0M372.0,274.2V516.5M374.6,274.6V509.7M377.2,261.0V492.0M379.8,237.4V472.9M382.4,214.3V466.3M385.0,204.6V464.5M387.6,206.9V463.1M390.2,196.8V460.7M392.8,188.7V456.9M395.4,173.1V443.4M398.0,179.3V433.7M400.6,184.0V441.1M403.2,183.8V455.8M405.8,194.4V471.9M408.4,208.4V469.7M411.0,217.7V475.2M413.6,222.2V483.3M416.2,232.9V488.4M418.8,229.1V483.4M421.4,218.9V474.0M424.0,226.2V464.5M426.6,224.8V463.5M429.2,216.1V464.1M431.8,221.5V476.7M434.4,219.7V479.8M437.0,217.1V471.8M439.6,213.7V471.7M442.2,209.1V464.1M444.8,185.6V453.5M447.4,182.4V435.7M450.0,181.3V434.7M452.6,198.0V442.5M455.2,222.7V463.9M457.8,234.4V476.4M460.4,253.6V485.3M463.0,279.1V497.3M465.6,300.0V502.4M468.2,285.3V503.9M470.8,265.8V498.9M473.4,251.1V478.1M476.0,228.1V466.7M478.6,207.2V447.6M481.2,211.7V449.9M483.8,211.2V458.2M486.4,213.5V467.7M489.0,198.9V471.1M491.6,184.5V456.0M494.2,183.1V441.2M496.8,175.6V438.4M499.4,185.3V448.0M502.0,190.2V457.2M504.6,201.9V458.0M507.2,215.8V467.8M509.8,217.8V476.5M512.4,229.4V485.8M515.0,237.2V503.4M517.6,242.2V508.9M520.2,230.1V493.9M522.8,226.2V462.5M525.4,225.9V450.7M528.0,223.0V453.4M530.6,216.2V461.0M533.2,220.2V468.9M535.8,229.4V474.2M538.4,240.7V475.2M541.0,253.4V491.2M543.6,258.7V494.9M546.2,268.8V496.9M548.8,279.4V497.0M551.4,285.2V499.0M554.0,286.8V494.0M556.6,279.9V493.0M559.2,273.7V492.2M561.8,272.3V492.5M564.4,270.7V494.6M567.0,262.5V492.2M569.6,251.8V494.2M572.2,258.8V489.9M574.8,262.1V497.2M577.4,268.0V496.5M580.0,264.2V488.6M582.6,262.6V492.0M585.2,266.2V485.1M587.8,277.2V496.9M590.4,287.1V506.1M593.0,273.6V508.1M595.6,266.9V496.7M598.2,247.2V480.0M600.8,229.8V470.5M603.4,213.8V456.1M606.0,200.3V442.4M608.6,196.7V447.2M611.2,200.6V475.9M613.8,218.0V489.3M616.4,212.3V486.2M619.0,215.0V474.7M621.6,204.7V472.2M624.2,216.5V488.9M626.8,248.9V500.2M629.4,277.9V516.8M632.0,291.8V522.8M634.6,284.3V508.0M637.2,273.6V504.6M639.8,248.6V494.3M642.4,228.5V476.4M645.0,221.9V462.6M647.6,211.7V463.1M650.2,214.0V458.3M652.8,213.6V454.7M655.4,216.0V457.3M658.0,231.4V486.9M660.6,258.7V495.6M663.2,271.4V492.5M665.8,277.3V498.5M668.4,266.6V497.9M671.0,256.6V501.1M673.6,236.6V486.3M676.2,233.4V475.9M678.8,231.0V464.6M681.4,248.1V476.3M684.0,253.3V488.5M686.6,257.2V497.2M689.2,271.9V508.4M691.8,292.5V521.7M694.4,267.7V511.0M697.0,249.3V493.9M699.6,244.2V474.1M702.2,231.3V471.4M704.8,220.9V461.0M707.4,215.5V457.2M710.0,216.6V462.6M712.6,214.7V461.2M715.2,203.4V452.9M717.8,194.3V456.0M720.4,201.2V463.9M723.0,216.7V476.2M725.6,231.9V480.5M728.2,242.7V481.5M730.8,240.2V480.9M733.4,231.4V478.9M736.0,218.2V475.7M738.6,211.3V459.9M741.2,209.8V451.3M743.8,204.9V457.5M746.4,215.3V467.1M749.0,226.6V473.8M751.6,242.8V477.0M754.2,246.9V473.4M756.8,242.3V472.2M759.4,235.4V470.0M762.0,204.3V459.9M764.6,185.8V441.9M767.2,181.5V449.3M769.8,196.5V458.9M772.4,215.3V471.2M775.0,237.7V477.9M777.6,246.0V479.5M780.2,254.4V475.9M782.8,259.4V483.5M785.4,250.4V486.4M788.0,236.9V490.7M790.6,224.7V482.6M793.2,210.1V469.7M795.8,194.5V458.1M798.4,189.9V445.8M801.0,177.5V429.2M803.6,179.5V428.1M806.2,184.0V445.3M808.8,197.5V462.5M811.4,222.9V477.2M814.0,248.8V496.5M816.6,264.9V506.1" stroke="#505050" stroke-width="1.25" fill="none"/>
<path d="M99.0,341.0 L99.9,342.8 L100.8,344.6 L101.7,346.4 L102.6,348.2 L103.5,350.0 L104.4,351.8 L105.3,353.1 L106.2,353.5 L107.1,353.8 L108.0,354.2 L108.9,354.6 L109.8,354.9 L110.7,358.1 L111.6,362.0 L112.5,366.0 L113.4,370.0 L114.3,373.9 L115.2,377.5 L116.1,379.6 L117.0,381.8 L117.9,384.0 L118.8,386.1 L119.7,388.3 L120.6,390.2 L121.5,392.0 L122.4,393.8 L123.3,395.6 L124.2,397.4 L125.1,399.1 L126.0,400.3 L126.9,401.5 L127.8,402.7 L128.7,401.3 L129.6,399.2 L130.5,397.0 L131.4,394.8 L132.3,392.7 L133.2,390.3 L134.1,387.0 L135.0,383.8 L135.9,380.6 L136.8,377.3 L137.7,374.1 L138.6,371.8 L139.5,370.0 L140.4,368.2 L141.3,366.4 L142.2,364.6 L143.1,363.0 L144.0,363.3 L144.9,363.6 L145.8,363.9 L146.7,364.2 L147.6,364.5 L148.5,364.8 L149.4,365.1 L150.3,365.4 L151.2,365.7 L152.1,366.0 L153.0,366.3 L153.9,366.6 L154.8,366.9 L155.7,367.3 L156.6,367.6 L157.5,368.0 L158.4,368.4 L159.3,368.7 L160.2,367.7 L161.1,361.8 L162.0,356.0 L162.9,350.1 L163.8,344.3 L164.7,337.4 L165.6,330.2 L166.5,323.0 L167.4,317.0 L168.3,312.5 L169.2,308.0 L170.1,303.5 L171.0,299.0 L171.9,298.4 L172.8,297.8 L173.7,297.2 L174.6,296.6 L175.5,296.0 L176.4,295.4 L177.3,295.2 L178.2,295.6 L179.1,296.1 L180.0,296.5 L180.9,297.0 L181.8,301.4 L182.7,306.4 L183.6,311.3 L184.5,316.3 L185.4,320.6 L186.3,324.2 L187.2,327.8 L188.1,331.4 L189.0,335.0 L189.9,338.6 L190.8,341.9 L191.7,345.1 L192.6,348.4 L193.5,351.6 L194.4,354.8 L195.3,356.8 L196.2,356.4 L197.1,355.9 L198.0,355.5 L198.9,355.0 L199.8,351.8 L200.7,348.2 L201.6,344.6 L202.5,341.0 L203.4,337.4 L204.3,334.0 L205.2,331.2 L206.1,328.3 L207.0,325.4 L207.9,322.5 L208.8,319.6 L209.7,321.5 L210.6,324.6 L211.5,327.8 L212.4,330.9 L213.3,336.0 L214.2,345.0 L215.1,354.0 L216.0,363.0 L216.9,372.0 L217.8,379.0 L218.7,385.8 L219.6,392.5 L220.5,399.3 L221.4,404.3 L222.3,407.3 L223.2,410.3 L224.1,412.3 L225.0,406.5 L225.9,400.6 L226.8,394.8 L227.7,388.9 L228.6,382.8 L229.5,376.5 L230.4,370.2 L231.3,363.9 L232.2,358.4 L233.1,355.5 L234.0,352.6 L234.9,349.7 L235.8,346.8 L236.7,344.0 L237.6,342.8 L238.5,342.4 L239.4,342.0 L240.3,341.7 L241.2,341.3 L242.1,341.0 L243.0,340.6 L243.9,340.2 L244.8,339.9 L245.7,339.5 L246.6,339.2 L247.5,340.0 L248.4,341.8 L249.3,343.6 L250.2,345.4 L251.1,347.2 L252.0,349.0 L252.9,349.4 L253.8,349.7 L254.7,350.1 L255.6,350.4 L256.5,350.8 L257.4,351.0 L258.3,351.0 L259.2,351.0 L260.1,351.0 L261.0,351.0 L261.9,351.0 L262.8,351.0 L263.7,350.7 L264.6,350.4 L265.5,350.0 L266.4,349.6 L267.3,349.3 L268.2,350.0 L269.1,354.5 L270.0,359.0 L270.9,363.5 L271.8,368.0 L272.7,371.5 L273.6,374.6 L274.5,377.8 L275.4,380.9 L276.3,382.5 L277.2,381.1 L278.1,379.6 L279.0,378.2 L279.9,376.8 L280.8,375.3 L281.7,372.8 L282.6,369.9 L283.5,367.0 L284.4,364.1 L285.3,361.2 L286.2,358.5 L287.1,356.2 L288.0,354.0 L288.9,351.7 L289.8,349.5 L290.7,349.8 L291.6,350.9 L292.5,352.0 L293.4,353.1 L294.3,354.2 L295.2,354.9 L296.1,354.6 L297.0,354.2 L297.9,353.8 L298.8,353.5 L299.7,353.1 L300.6,354.9 L301.5,357.8 L302.4,360.7 L303.3,363.6 L304.2,366.4 L305.1,369.2 L306.0,371.0 L306.9,372.8 L307.8,374.6 L308.7,376.4 L309.6,378.2 L310.5,377.8 L311.4,375.6 L312.3,373.5 L313.2,371.3 L314.1,369.2 L315.0,367.0 L315.9,365.6 L316.8,364.1 L317.7,362.7 L318.6,361.2 L319.5,359.8 L320.4,359.6 L321.3,361.1 L322.2,362.5 L323.1,364.0 L324.0,365.4 L324.9,366.8 L325.8,370.2 L326.7,373.8 L327.6,377.4 L328.5,381.0 L329.4,384.6 L330.3,387.8 L331.2,390.1 L332.1,392.5 L333.0,394.8 L333.9,397.2 L334.8,397.7 L335.7,392.0 L336.6,386.3 L337.5,380.5 L338.4,374.8 L339.3,368.9 L340.2,362.6 L341.1,356.3 L342.0,350.0 L342.9,343.7 L343.8,338.2 L344.7,332.8 L345.6,327.4 L346.5,322.0 L347.4,318.5 L348.3,317.4 L349.2,316.4 L350.1,315.3 L351.0,314.2 L351.9,313.1 L352.8,314.3 L353.7,315.7 L354.6,317.2 L355.5,318.6 L356.4,320.0 L357.3,322.7 L358.2,327.7 L359.1,332.8 L360.0,337.8 L360.9,342.8 L361.8,347.9 L362.7,352.5 L363.6,357.0 L364.5,361.5 L365.4,366.0 L366.3,370.4 L367.2,374.4 L368.1,378.5 L369.0,382.5 L369.9,386.6 L370.8,383.8 L371.7,380.2 L372.6,376.6 L373.5,373.0 L374.4,369.2 L375.3,365.3 L376.2,361.3 L377.1,357.4 L378.0,353.4 L378.9,349.4 L379.8,344.8 L380.7,340.2 L381.6,335.5 L382.5,330.8 L383.4,326.1 L384.3,322.8 L385.2,322.0 L386.1,321.3 L387.0,320.6 L387.9,319.9 L388.8,319.2 L389.7,318.2 L390.6,317.1 L391.5,316.0 L392.4,314.9 L393.3,313.8 L394.2,312.3 L395.1,309.3 L396.0,306.3 L396.9,303.3 L397.8,300.3 L398.7,297.3 L399.6,294.3 L400.5,295.5 L401.4,300.0 L402.3,304.5 L403.2,309.0 L404.1,313.4 L405.0,316.6 L405.9,319.8 L406.8,323.1 L407.7,326.3 L408.6,329.6 L409.5,332.8 L410.4,336.0 L411.3,339.3 L412.2,342.5 L413.1,345.8 L414.0,349.0 L414.9,351.3 L415.8,353.5 L416.7,355.8 L417.6,358.0 L418.5,356.6 L419.4,352.3 L420.3,348.0 L421.2,343.6 L422.1,339.3 L423.0,335.0 L423.9,333.6 L424.8,332.3 L425.7,330.9 L426.6,329.6 L427.5,330.4 L428.4,332.9 L429.3,335.4 L430.2,338.0 L431.1,340.5 L432.0,343.0 L432.9,343.0 L433.8,343.0 L434.7,343.0 L435.6,343.0 L436.5,341.0 L437.4,337.4 L438.3,333.8 L439.2,330.2 L440.1,326.5 L441.0,322.0 L441.9,317.5 L442.8,313.0 L443.7,308.5 L444.6,306.1 L445.5,304.7 L446.4,303.4 L447.3,302.0 L448.2,301.5 L449.1,303.9 L450.0,306.3 L450.9,308.7 L451.8,314.3 L452.7,320.3 L453.6,326.3 L454.5,333.0 L455.4,340.2 L456.3,347.4 L457.2,354.3 L458.1,360.3 L459.0,366.3 L459.9,372.3 L460.8,376.2 L461.7,379.8 L462.6,383.4 L463.5,387.0 L464.4,388.8 L465.3,388.3 L466.2,387.9 L467.1,387.4 L468.0,387.0 L468.9,380.7 L469.8,374.4 L470.7,368.1 L471.6,361.8 L472.5,355.7 L473.4,349.9 L474.3,344.0 L475.2,338.2 L476.1,332.7 L477.0,330.0 L477.9,327.3 L478.8,324.6 L479.7,321.9 L480.6,321.9 L481.5,323.3 L482.4,324.6 L483.3,326.0 L484.2,326.8 L485.1,325.9 L486.0,325.0 L486.9,324.1 L487.8,323.2 L488.7,321.9 L489.6,320.6 L490.5,319.2 L491.4,317.9 L492.3,316.8 L493.2,316.0 L494.1,315.3 L495.0,314.6 L495.9,313.9 L496.8,313.2 L497.7,313.6 L498.6,314.3 L499.5,315.0 L500.4,315.7 L501.3,316.4 L502.2,317.6 L503.1,320.1 L504.0,322.6 L504.9,325.1 L505.8,327.6 L506.7,330.2 L507.6,332.7 L508.5,335.2 L509.4,337.7 L510.3,340.2 L511.2,342.8 L512.1,345.4 L513.0,349.4 L513.9,353.4 L514.8,357.3 L515.7,361.3 L516.6,365.2 L517.5,364.5 L518.4,360.0 L519.3,355.5 L520.2,351.0 L521.1,346.6 L522.0,343.5 L522.9,340.3 L523.8,337.2 L524.7,334.0 L525.6,332.5 L526.5,331.8 L527.4,331.1 L528.3,330.4 L529.2,329.6 L530.1,329.4 L531.0,332.5 L531.9,335.7 L532.8,338.8 L533.7,342.0 L534.6,346.0 L535.5,350.5 L536.4,355.0 L537.3,359.5 L538.2,363.5 L539.1,365.8 L540.0,368.0 L540.9,370.3 L541.8,372.5 L542.7,372.7 L543.6,372.4 L544.5,372.0 L545.4,371.6 L546.3,371.3 L547.2,371.3 L548.1,372.8 L549.0,374.2 L549.9,375.6 L550.8,377.1 L551.7,378.5 L552.6,379.2 L553.5,379.5 L554.4,379.8 L555.3,380.1 L556.2,380.4 L557.1,380.7 L558.0,381.0 L558.9,380.6 L559.8,380.3 L560.7,379.9 L561.6,379.6 L562.5,379.2 L563.4,377.4 L564.3,373.8 L565.2,370.2 L566.1,366.6 L567.0,363.0 L567.9,359.4 L568.8,357.4 L569.7,355.6 L570.6,353.8 L571.5,352.0 L572.4,351.5 L573.3,352.7 L574.2,353.9 L575.1,355.1 L576.0,356.3 L576.9,357.5 L577.8,358.7 L578.7,359.5 L579.6,360.1 L580.5,360.7 L581.4,361.3 L582.3,361.9 L583.2,362.5 L584.1,363.2 L585.0,364.6 L585.9,366.0 L586.8,367.5 L587.7,368.9 L588.6,370.4 L589.5,372.0 L590.4,373.8 L591.3,375.6 L592.2,377.4 L593.1,378.7 L594.0,376.0 L594.9,373.3 L595.8,370.6 L596.7,367.9 L597.6,364.0 L598.5,359.5 L599.4,355.0 L600.3,350.5 L601.2,345.4 L602.1,338.2 L603.0,331.0 L603.9,323.8 L604.8,316.6 L605.7,312.7 L606.6,309.7 L607.5,306.7 L608.4,307.4 L609.3,312.8 L610.2,318.2 L611.1,323.6 L612.0,329.0 L612.9,330.8 L613.8,332.6 L614.7,334.4 L615.6,336.2 L616.5,336.6 L617.4,335.9 L618.3,335.2 L619.2,334.4 L620.1,333.7 L621.0,333.0 L621.9,340.7 L622.8,348.3 L623.7,356.0 L624.6,363.6 L625.5,368.5 L626.4,371.2 L627.3,373.9 L628.2,376.6 L629.1,379.0 L630.0,379.0 L630.9,379.0 L631.8,379.0 L632.7,379.0 L633.6,378.8 L634.5,378.4 L635.4,378.0 L636.3,377.7 L637.2,377.3 L638.1,376.0 L639.0,367.5 L639.9,358.9 L640.8,350.4 L641.7,341.8 L642.6,336.8 L643.5,333.6 L644.4,330.4 L645.3,327.1 L646.2,323.9 L647.1,320.8 L648.0,319.4 L648.9,318.0 L649.8,316.5 L650.7,315.1 L651.6,313.6 L652.5,314.3 L653.4,316.5 L654.3,318.8 L655.2,321.0 L656.1,324.1 L657.0,334.0 L657.9,343.9 L658.8,353.8 L659.7,363.7 L660.6,368.8 L661.5,371.5 L662.4,374.2 L663.3,376.9 L664.2,378.6 L665.1,376.8 L666.0,375.0 L666.9,373.2 L667.8,371.4 L668.7,369.6 L669.6,366.4 L670.5,362.4 L671.4,358.4 L672.3,354.5 L673.2,350.5 L674.1,346.9 L675.0,346.5 L675.9,346.0 L676.8,345.6 L677.7,345.1 L678.6,346.7 L679.5,349.2 L680.4,351.7 L681.3,354.2 L682.2,356.8 L683.1,359.4 L684.0,363.0 L684.9,366.6 L685.8,370.2 L686.7,373.8 L687.6,377.4 L688.5,380.0 L689.4,381.8 L690.3,383.6 L691.2,385.4 L692.1,386.5 L693.0,382.0 L693.9,377.5 L694.8,373.0 L695.7,368.5 L696.6,364.3 L697.5,360.2 L698.4,356.2 L699.3,352.1 L700.2,348.1 L701.1,344.0 L702.0,340.0 L702.9,335.9 L703.8,331.9 L704.7,330.3 L705.6,329.4 L706.5,328.5 L707.4,327.6 L708.3,326.7 L709.2,325.8 L710.1,324.9 L711.0,324.3 L711.9,323.7 L712.8,323.1 L713.7,322.5 L714.6,321.9 L715.5,321.3 L716.4,322.4 L717.3,325.6 L718.2,328.7 L719.1,331.9 L720.0,335.0 L720.9,337.2 L721.8,339.3 L722.7,341.5 L723.6,343.6 L724.5,345.8 L725.4,347.0 L726.3,347.0 L727.2,347.0 L728.1,347.0 L729.0,347.0 L729.9,347.0 L730.8,345.1 L731.7,342.9 L732.6,340.8 L733.5,338.6 L734.4,336.4 L735.3,334.4 L736.2,332.6 L737.1,330.8 L738.0,329.0 L738.9,327.2 L739.8,325.4 L740.7,323.6 L741.6,324.9 L742.5,327.8 L743.4,330.7 L744.3,333.6 L745.2,336.4 L746.1,339.2 L747.0,340.6 L747.9,342.0 L748.8,343.5 L749.7,344.9 L750.6,346.4 L751.5,347.2 L752.4,347.6 L753.3,347.9 L754.2,348.3 L755.1,348.6 L756.0,349.0 L756.9,348.5 L757.8,348.1 L758.7,347.6 L759.6,347.2 L760.5,343.0 L761.4,335.8 L762.3,328.6 L763.2,321.4 L764.1,314.8 L765.0,313.0 L765.9,311.2 L766.8,309.4 L767.7,312.5 L768.6,317.0 L769.5,321.5 L770.4,326.0 L771.3,329.8 L772.2,332.4 L773.1,334.9 L774.0,337.4 L774.9,339.9 L775.8,342.4 L776.7,344.7 L777.6,346.8 L778.5,349.0 L779.4,351.2 L780.3,353.3 L781.2,355.2 L782.1,356.1 L783.0,357.0 L783.9,357.9 L784.8,358.8 L785.7,356.2 L786.6,352.6 L787.5,349.0 L788.4,345.4 L789.3,341.5 L790.2,337.0 L791.1,332.5 L792.0,328.0 L792.9,323.5 L793.8,319.0 L794.7,314.5 L795.6,310.0 L796.5,305.5 L797.4,301.5 L798.3,298.1 L799.2,294.7 L800.1,291.4 L801.0,288.0 L801.9,289.5 L802.8,291.0 L803.7,292.5 L804.6,297.2 L805.5,303.5 L806.4,309.8 L807.3,316.1 L808.2,322.3 L809.1,328.2 L810.0,334.0 L810.9,339.9 L811.8,345.7 L812.7,351.7 L813.6,357.7 L814.5,363.7 L815.4,369.1 L816.3,373.9 L817.2,378.7 L817.2,388.7 L816.3,383.9 L815.4,379.1 L814.5,374.3 L813.6,369.5 L812.7,364.7 L811.8,359.6 L810.9,353.3 L810.0,347.0 L809.1,340.7 L808.2,334.4 L807.3,328.5 L806.4,322.6 L805.5,316.8 L804.6,310.9 L803.7,306.6 L802.8,305.4 L801.9,304.2 L801.0,303.0 L800.1,306.6 L799.2,310.2 L798.3,313.8 L797.4,317.4 L796.5,321.7 L795.6,326.7 L794.7,331.6 L793.8,336.6 L792.9,341.5 L792.0,346.0 L791.1,350.5 L790.2,355.0 L789.3,359.5 L788.4,362.8 L787.5,365.5 L786.6,368.2 L785.7,370.9 L784.8,372.7 L783.9,371.4 L783.0,370.0 L782.1,368.7 L781.2,367.3 L780.3,365.6 L779.4,363.8 L778.5,362.0 L777.6,360.2 L776.7,358.4 L775.8,356.4 L774.9,353.9 L774.0,351.4 L773.1,348.9 L772.2,346.4 L771.3,343.8 L770.4,340.3 L769.5,336.3 L768.6,332.2 L767.7,328.2 L766.8,325.5 L765.9,327.9 L765.0,330.3 L764.1,332.7 L763.2,340.2 L762.3,348.3 L761.4,356.4 L760.5,364.5 L759.6,369.0 L758.7,369.0 L757.8,369.0 L756.9,369.0 L756.0,369.0 L755.1,369.0 L754.2,369.0 L753.3,369.0 L752.4,369.0 L751.5,369.0 L750.6,368.4 L749.7,366.9 L748.8,365.5 L747.9,364.0 L747.0,362.6 L746.1,361.2 L745.2,358.8 L744.3,356.2 L743.4,353.7 L742.5,351.2 L741.6,348.7 L740.7,347.3 L739.8,348.2 L738.9,349.1 L738.0,350.0 L737.1,350.9 L736.2,351.8 L735.3,352.7 L734.4,354.7 L733.5,357.2 L732.6,359.7 L731.7,362.2 L730.8,364.8 L729.9,367.0 L729.0,367.0 L728.1,367.0 L727.2,367.0 L726.3,367.0 L725.4,367.0 L724.5,365.6 L723.6,363.1 L722.7,360.6 L721.8,358.0 L720.9,355.5 L720.0,353.0 L719.1,350.3 L718.2,347.6 L717.3,344.9 L716.4,342.2 L715.5,341.2 L714.6,341.5 L713.7,341.8 L712.8,342.1 L711.9,342.4 L711.0,342.7 L710.1,343.0 L709.2,344.1 L708.3,345.3 L707.4,346.5 L706.5,347.7 L705.6,348.9 L704.7,350.1 L703.8,351.7 L702.9,354.8 L702.0,358.0 L701.1,361.1 L700.2,364.3 L699.3,368.1 L698.4,372.2 L697.5,376.2 L696.6,380.3 L695.7,384.6 L694.8,389.6 L693.9,394.5 L693.0,399.5 L692.1,404.4 L691.2,402.6 L690.3,399.9 L689.4,397.2 L688.5,394.5 L687.6,391.7 L686.7,388.8 L685.8,386.0 L684.9,383.1 L684.0,380.2 L683.1,377.3 L682.2,375.1 L681.3,372.9 L680.4,370.8 L679.5,368.6 L678.6,366.4 L677.7,365.3 L676.8,366.2 L675.9,367.1 L675.0,368.0 L674.1,368.9 L673.2,372.8 L672.3,377.2 L671.4,381.5 L670.5,385.8 L669.6,390.1 L668.7,393.5 L667.8,394.9 L666.9,396.4 L666.0,397.8 L665.1,399.2 L664.2,400.7 L663.3,399.6 L662.4,397.8 L661.5,396.0 L660.6,394.2 L659.7,389.7 L658.8,379.8 L657.9,369.9 L657.0,360.0 L656.1,350.1 L655.2,349.0 L654.3,349.0 L653.4,349.0 L652.5,349.0 L651.6,348.8 L650.7,348.5 L649.8,348.1 L648.9,347.8 L648.0,347.4 L647.1,347.0 L646.2,349.6 L645.3,352.4 L644.4,355.3 L643.5,358.2 L642.6,361.1 L641.7,365.8 L640.8,374.4 L639.9,382.9 L639.0,391.5 L638.1,400.0 L637.2,401.6 L636.3,402.4 L635.4,403.1 L634.5,403.8 L633.6,404.5 L632.7,405.1 L631.8,405.6 L630.9,406.0 L630.0,406.5 L629.1,406.9 L628.2,403.4 L627.3,399.4 L626.4,395.3 L625.5,391.3 L624.6,386.4 L623.7,380.6 L622.8,374.7 L621.9,368.9 L621.0,363.0 L620.1,362.6 L619.2,362.3 L618.3,361.9 L617.4,361.6 L616.5,361.2 L615.6,359.2 L614.7,355.2 L613.8,351.1 L612.9,347.1 L612.0,343.0 L611.1,338.1 L610.2,333.1 L609.3,328.2 L608.4,323.2 L607.5,323.0 L606.6,326.6 L605.7,330.2 L604.8,334.6 L603.9,341.8 L603.0,349.0 L602.1,356.2 L601.2,363.4 L600.3,368.5 L599.4,373.0 L598.5,377.5 L597.6,382.0 L596.7,386.8 L595.8,392.2 L594.9,397.6 L594.0,403.0 L593.1,408.4 L592.2,407.4 L591.3,405.6 L590.4,403.8 L589.5,402.0 L588.6,400.0 L587.7,397.9 L586.8,395.7 L585.9,393.6 L585.0,391.4 L584.1,389.2 L583.2,389.0 L582.3,389.0 L581.4,389.0 L580.5,389.0 L579.6,389.0 L578.7,389.0 L577.8,388.5 L576.9,386.1 L576.0,383.7 L575.1,381.3 L574.2,378.9 L573.3,376.5 L572.4,374.1 L571.5,374.2 L570.6,376.5 L569.7,378.7 L568.8,381.0 L567.9,383.3 L567.0,385.8 L566.1,388.3 L565.2,390.8 L564.3,393.4 L563.4,395.9 L562.5,397.0 L561.6,397.0 L560.7,397.0 L559.8,397.0 L558.9,397.0 L558.0,397.0 L557.1,397.0 L556.2,397.0 L555.3,397.0 L554.4,397.0 L553.5,397.0 L552.6,397.0 L551.7,396.8 L550.8,396.0 L549.9,395.3 L549.0,394.6 L548.1,393.9 L547.2,393.2 L546.3,393.6 L545.4,394.3 L544.5,395.0 L543.6,395.7 L542.7,396.4 L541.8,396.2 L540.9,392.6 L540.0,389.0 L539.1,385.4 L538.2,381.8 L537.3,377.5 L536.4,373.0 L535.5,368.5 L534.6,364.0 L533.7,360.3 L532.8,358.0 L531.9,355.8 L531.0,353.5 L530.1,351.3 L529.2,351.3 L528.3,351.7 L527.4,352.0 L526.5,352.4 L525.6,352.8 L524.7,353.7 L523.8,356.0 L522.9,358.2 L522.0,360.5 L521.1,362.7 L520.2,367.4 L519.3,372.3 L518.4,377.3 L517.5,382.2 L516.6,383.1 L515.7,378.8 L514.8,374.4 L513.9,370.1 L513.0,365.8 L512.1,361.5 L511.2,358.4 L510.3,355.6 L509.4,352.7 L508.5,349.8 L507.6,346.9 L506.7,344.2 L505.8,341.6 L504.9,339.1 L504.0,336.6 L503.1,334.1 L502.2,331.6 L501.3,330.4 L500.4,329.7 L499.5,329.0 L498.6,328.3 L497.7,327.6 L496.8,327.1 L495.9,327.4 L495.0,327.8 L494.1,328.2 L493.2,328.5 L492.3,328.9 L491.4,330.5 L490.5,332.7 L489.6,335.0 L488.7,337.2 L487.8,339.1 L486.9,339.5 L486.0,340.0 L485.1,340.4 L484.2,340.9 L483.3,340.0 L482.4,338.6 L481.5,337.3 L480.6,335.9 L479.7,336.2 L478.8,339.8 L477.9,343.4 L477.0,347.0 L476.1,350.6 L475.2,356.2 L474.3,362.0 L473.4,367.9 L472.5,373.7 L471.6,379.6 L470.7,385.4 L469.8,391.3 L468.9,397.1 L468.0,403.0 L467.1,403.4 L466.2,403.9 L465.3,404.3 L464.4,404.8 L463.5,403.0 L462.6,399.4 L461.7,395.8 L460.8,392.2 L459.9,388.3 L459.0,382.3 L458.1,376.3 L457.2,370.3 L456.3,363.4 L455.4,356.2 L454.5,349.0 L453.6,342.6 L452.7,337.2 L451.8,331.8 L450.9,326.6 L450.0,323.0 L449.1,319.4 L448.2,315.8 L447.3,317.1 L446.4,319.8 L445.5,322.5 L444.6,325.2 L443.7,327.9 L442.8,330.6 L441.9,333.3 L441.0,336.0 L440.1,338.7 L439.2,342.2 L438.3,345.8 L437.4,349.4 L436.5,353.0 L435.6,354.8 L434.7,354.4 L433.8,353.9 L432.9,353.5 L432.0,353.0 L431.1,350.8 L430.2,348.7 L429.3,346.5 L428.4,344.4 L427.5,342.2 L426.6,341.6 L425.7,342.9 L424.8,344.3 L423.9,345.6 L423.0,347.0 L422.1,351.3 L421.2,355.6 L420.3,360.0 L419.4,364.3 L418.5,368.6 L417.6,370.2 L416.7,368.4 L415.8,366.6 L414.9,364.8 L414.0,363.0 L413.1,359.8 L412.2,356.5 L411.3,353.3 L410.4,350.0 L409.5,346.8 L408.6,343.4 L407.7,339.8 L406.8,336.2 L405.9,332.6 L405.0,329.0 L404.1,325.4 L403.2,321.8 L402.3,318.2 L401.4,314.6 L400.5,311.0 L399.6,310.1 L398.7,312.5 L397.8,314.9 L396.9,317.3 L396.0,319.7 L395.1,322.1 L394.2,324.5 L393.3,325.8 L392.4,326.9 L391.5,328.0 L390.6,329.1 L389.7,330.2 L388.8,331.2 L387.9,331.9 L387.0,332.6 L386.1,333.3 L385.2,334.0 L384.3,334.8 L383.4,338.4 L382.5,343.4 L381.6,348.4 L380.7,353.5 L379.8,358.5 L378.9,363.4 L378.0,367.4 L377.1,371.4 L376.2,375.3 L375.3,379.3 L374.4,383.2 L373.5,387.0 L372.6,390.6 L371.7,394.2 L370.8,397.8 L369.9,400.6 L369.0,397.0 L368.1,393.4 L367.2,389.8 L366.3,386.2 L365.4,381.7 L364.5,376.8 L363.6,371.8 L362.7,366.9 L361.8,362.0 L360.9,357.3 L360.0,352.6 L359.1,347.9 L358.2,343.2 L357.3,338.6 L356.4,335.8 L355.5,334.0 L354.6,332.2 L353.7,330.4 L352.8,328.6 L351.9,327.0 L351.0,327.4 L350.1,327.8 L349.2,328.1 L348.3,328.5 L347.4,328.8 L346.5,332.5 L345.6,338.8 L344.7,345.1 L343.8,351.4 L342.9,357.8 L342.0,365.0 L341.1,372.2 L340.2,379.4 L339.3,386.6 L338.4,392.5 L337.5,397.9 L336.6,403.2 L335.7,408.5 L334.8,413.8 L333.9,413.5 L333.0,411.5 L332.1,409.6 L331.2,407.6 L330.3,405.7 L329.4,403.1 L328.5,400.2 L327.6,397.3 L326.7,394.4 L325.8,391.6 L324.9,388.8 L324.0,386.6 L323.1,384.4 L322.2,382.3 L321.3,380.1 L320.4,378.0 L319.5,377.8 L318.6,379.2 L317.7,380.7 L316.8,382.1 L315.9,383.6 L315.0,385.0 L314.1,387.2 L313.2,389.3 L312.3,391.5 L311.4,393.6 L310.5,395.8 L309.6,396.4 L308.7,394.9 L307.8,393.5 L306.9,392.0 L306.0,390.6 L305.1,389.2 L304.2,386.1 L303.3,382.9 L302.4,379.6 L301.5,376.4 L300.6,373.2 L299.7,371.1 L298.8,371.5 L297.9,371.8 L297.0,372.2 L296.1,372.6 L295.2,372.9 L294.3,371.9 L293.4,370.4 L292.5,369.0 L291.6,367.6 L290.7,366.1 L289.8,365.6 L288.9,368.3 L288.0,371.0 L287.1,373.7 L286.2,376.4 L285.3,379.8 L284.4,383.4 L283.5,387.0 L282.6,390.6 L281.7,394.2 L280.8,397.3 L279.9,398.8 L279.0,400.2 L278.1,401.6 L277.2,403.1 L276.3,404.5 L275.4,402.6 L274.5,399.0 L273.6,395.4 L272.7,391.8 L271.8,388.4 L270.9,385.7 L270.0,383.0 L269.1,380.3 L268.2,377.6 L267.3,377.0 L266.4,377.0 L265.5,377.0 L264.6,377.0 L263.7,377.0 L262.8,376.9 L261.9,376.3 L261.0,375.7 L260.1,375.1 L259.2,374.5 L258.3,373.9 L257.4,373.3 L256.5,372.4 L255.6,371.3 L254.7,370.2 L253.8,369.2 L252.9,368.1 L252.0,367.0 L251.1,364.8 L250.2,362.7 L249.3,360.5 L248.4,358.4 L247.5,356.2 L246.6,355.2 L245.7,355.5 L244.8,355.9 L243.9,356.2 L243.0,356.6 L242.1,357.0 L241.2,357.0 L240.3,357.0 L239.4,357.0 L238.5,357.0 L237.6,357.0 L236.7,358.2 L235.8,361.8 L234.9,365.4 L234.0,369.0 L233.1,372.6 L232.2,376.2 L231.3,381.9 L230.4,388.2 L229.5,394.5 L228.6,400.8 L227.7,406.6 L226.8,411.3 L225.9,416.0 L225.0,420.7 L224.1,425.5 L223.2,424.7 L222.3,423.2 L221.4,421.7 L220.5,417.0 L219.6,409.8 L218.7,402.6 L217.8,395.4 L216.9,387.9 L216.0,377.5 L215.1,367.2 L214.2,356.8 L213.3,346.5 L212.4,341.8 L211.5,340.0 L210.6,338.2 L209.7,336.4 L208.8,335.6 L207.9,338.1 L207.0,340.6 L206.1,343.1 L205.2,345.6 L204.3,348.2 L203.4,351.4 L202.5,355.0 L201.6,358.6 L200.7,362.2 L199.8,365.8 L198.9,369.0 L198.0,369.5 L197.1,369.9 L196.2,370.4 L195.3,370.8 L194.4,368.8 L193.5,365.6 L192.6,362.4 L191.7,359.1 L190.8,355.9 L189.9,352.6 L189.0,349.0 L188.1,345.4 L187.2,341.8 L186.3,338.2 L185.4,334.6 L184.5,330.8 L183.6,326.7 L182.7,322.7 L181.8,318.6 L180.9,314.9 L180.0,314.0 L179.1,313.1 L178.2,312.2 L177.3,311.3 L176.4,311.2 L175.5,311.5 L174.6,311.8 L173.7,312.1 L172.8,312.4 L171.9,312.7 L171.0,313.0 L170.1,316.1 L169.2,319.3 L168.3,322.4 L167.4,325.6 L166.5,332.0 L165.6,341.0 L164.7,350.0 L163.8,358.2 L162.9,363.6 L162.0,369.0 L161.1,374.4 L160.2,379.8 L159.3,380.7 L158.4,380.4 L157.5,380.0 L156.6,379.6 L155.7,379.3 L154.8,378.9 L153.9,378.6 L153.0,378.3 L152.1,378.0 L151.2,377.7 L150.3,377.4 L149.4,377.1 L148.5,377.0 L147.6,377.0 L146.7,377.0 L145.8,377.0 L144.9,377.0 L144.0,377.0 L143.1,377.0 L142.2,378.3 L141.3,379.7 L140.4,381.2 L139.5,382.6 L138.6,384.0 L137.7,386.3 L136.8,390.3 L135.9,394.2 L135.0,398.2 L134.1,402.2 L133.2,406.1 L132.3,408.4 L131.4,410.2 L130.5,412.0 L129.6,413.8 L128.7,415.6 L127.8,417.1 L126.9,417.7 L126.0,418.3 L125.1,418.9 L124.2,417.1 L123.3,414.9 L122.4,412.8 L121.5,410.6 L120.6,408.4 L119.7,405.9 L118.8,402.7 L117.9,399.4 L117.0,396.2 L116.1,393.0 L115.2,389.7 L114.3,386.5 L113.4,383.2 L112.5,380.0 L111.6,376.8 L110.7,373.5 L109.8,370.9 L108.9,370.6 L108.0,370.2 L107.1,369.8 L106.2,369.5 L105.3,369.1 L104.4,368.0 L103.5,366.6 L102.6,365.2 L101.7,363.7 L100.8,362.3 L99.9,360.8 L99.0,359.0Z" fill="#fa4545"/>
<path d="M99.0,335.5V362.2M99.9,342.6V362.3M100.8,343.1V360.3M101.7,347.0V363.6M102.6,342.3V369.0M103.5,350.1V371.7M104.4,354.7V373.2M105.3,355.6V373.8M106.2,355.5V367.4M107.1,350.3V367.3M108.0,349.1V368.1M108.9,351.4V373.1M109.8,349.5V371.8M110.7,353.9V373.6M111.6,363.5V377.6M112.5,360.0V376.6M113.4,372.9V383.6M114.3,370.8V387.8M115.2,380.0V392.1M116.1,380.9V393.8M117.0,379.1V393.1M117.9,381.1V400.2M118.8,380.3V404.9M119.7,382.4V405.6M120.6,384.2V414.3M121.5,386.6V415.8M122.4,391.9V416.1M123.3,391.4V411.1M124.2,400.2V417.3M125.1,400.6V417.2M126.0,395.9V416.8M126.9,397.1V419.0M127.8,399.4V422.2M128.7,402.5V412.7M129.6,395.4V411.3M130.5,393.5V412.2M131.4,398.8V409.1M132.3,386.9V411.0M133.2,387.1V410.1M134.1,388.7V404.7M135.0,384.1V398.7M135.9,378.8V400.0M136.8,377.3V387.7M137.7,369.1V386.7M138.6,369.7V387.6M139.5,370.4V378.9M140.4,362.3V378.5M141.3,363.3V377.8M142.2,359.6V377.8M143.1,357.5V380.6M144.0,366.9V377.2M144.9,364.9V379.3M145.8,361.7V379.0M146.7,365.4V376.4M147.6,359.7V379.6M148.5,363.3V378.2M149.4,368.2V375.2M150.3,360.3V380.6M151.2,360.3V383.6M152.1,360.4V382.9M153.0,367.4V378.4M153.9,368.1V382.6M154.8,361.8V375.3M155.7,369.1V376.0M156.6,361.7V382.6M157.5,367.5V379.3M158.4,371.2V381.9M159.3,365.7V386.7M160.2,369.2V376.0M161.1,364.7V374.5M162.0,352.5V373.4M162.9,351.3V360.4M163.8,347.8V363.2M164.7,336.4V351.8M165.6,327.5V339.6M166.5,326.2V331.4M167.4,317.3V325.4M168.3,312.3V324.0M169.2,303.6V318.1M170.1,298.1V316.5M171.0,295.9V314.3M171.9,298.0V314.9M172.8,301.5V316.8M173.7,291.2V308.7M174.6,292.8V315.9M175.5,293.2V312.4M176.4,299.2V310.8M177.3,291.4V312.9M178.2,293.1V314.1M179.1,293.3V318.1M180.0,293.5V317.1M180.9,292.2V313.2M181.8,298.0V323.7M182.7,305.1V320.6M183.6,312.5V327.3M184.5,316.9V334.3M185.4,315.4V338.9M186.3,320.7V342.3M187.2,325.5V347.0M188.1,326.1V349.7M189.0,330.2V347.5M189.9,337.1V357.4M190.8,339.2V353.5M191.7,344.0V360.5M192.6,345.3V367.2M193.5,351.0V371.2M194.4,356.2V374.6M195.3,357.7V374.0M196.2,356.5V371.4M197.1,350.6V371.5M198.0,349.8V373.9M198.9,351.9V373.1M199.8,351.6V362.0M200.7,344.8V360.2M201.6,340.0V358.2M202.5,337.5V356.6M203.4,331.8V349.6M204.3,329.3V350.5M205.2,327.2V344.0M206.1,327.3V343.8M207.0,326.3V344.9M207.9,316.8V336.2M208.8,315.9V333.9M209.7,324.9V336.9M210.6,319.1V336.1M211.5,327.3V344.4M212.4,326.2V343.7M213.3,330.6V343.7M214.2,345.4V355.1M215.1,350.9V364.1M216.0,357.7V377.0M216.9,367.7V393.8M217.8,373.6V400.2M218.7,386.8V405.8M219.6,390.4V410.5M220.5,395.1V417.4M221.4,404.3V418.7M222.3,405.4V421.0M223.2,413.9V423.6M224.1,409.6V429.6M225.0,401.0V418.9M225.9,395.4V417.3M226.8,392.4V417.1M227.7,384.3V404.8M228.6,381.3V397.8M229.5,379.3V400.0M230.4,370.2V394.0M231.3,361.2V384.4M232.2,361.8V377.1M233.1,350.6V374.4M234.0,350.9V373.8M234.9,346.4V363.0M235.8,350.6V360.6M236.7,338.2V355.4M237.6,340.4V355.1M238.5,337.5V362.2M239.4,344.8V361.0M240.3,335.8V358.9M241.2,345.2V355.1M242.1,338.0V353.0M243.0,342.0V354.6M243.9,339.9V359.3M244.8,342.7V358.1M245.7,342.7V356.9M246.6,342.0V357.3M247.5,337.3V357.2M248.4,338.0V363.5M249.3,342.6V358.4M250.2,341.3V360.4M251.1,348.5V363.7M252.0,346.2V363.0M252.9,350.7V369.2M253.8,344.3V370.3M254.7,344.1V367.5M255.6,346.9V374.6M256.5,349.4V372.8M257.4,350.0V375.4M258.3,350.5V371.8M259.2,348.5V376.4M260.1,352.6V381.1M261.0,345.9V379.3M261.9,346.3V373.6M262.8,345.8V382.3M263.7,347.0V378.8M264.6,352.1V373.1M265.5,352.1V377.8M266.4,343.8V382.7M267.3,348.8V375.3M268.2,345.8V374.0M269.1,353.1V381.4M270.0,358.4V388.7M270.9,358.5V382.5M271.8,363.8V394.0M272.7,367.4V391.2M273.6,370.4V400.1M274.5,373.6V401.1M275.4,381.6V406.5M276.3,384.9V400.8M277.2,382.8V408.7M278.1,375.9V398.6M279.0,380.4V405.5M279.9,374.2V402.1M280.8,376.2V403.2M281.7,369.0V393.3M282.6,372.4V396.4M283.5,366.0V387.1M284.4,366.5V386.1M285.3,364.9V384.6M286.2,353.1V381.7M287.1,355.2V379.0M288.0,349.8V375.8M288.9,346.0V364.8M289.8,345.9V362.1M290.7,350.4V370.7M291.6,354.1V373.5M292.5,355.8V374.9M293.4,348.8V371.8M294.3,348.2V370.8M295.2,349.3V371.2M296.1,348.7V374.2M297.0,349.5V376.2M297.9,351.8V375.1M298.8,350.4V371.7M299.7,348.3V376.0M300.6,355.0V377.1M301.5,360.9V379.1M302.4,358.5V385.6M303.3,357.6V388.3M304.2,365.9V386.2M305.1,372.6V391.8M306.0,371.4V394.1M306.9,367.1V394.8M307.8,374.9V391.9M308.7,379.8V393.0M309.6,376.9V397.8M310.5,375.9V398.0M311.4,375.7V394.8M312.3,375.7V393.9M313.2,369.1V387.4M314.1,369.2V388.8M315.0,365.7V383.4M315.9,364.8V387.8M316.8,360.3V382.9M317.7,356.9V383.1M318.6,363.9V383.7M319.5,357.3V377.5M320.4,362.7V377.7M321.3,360.5V383.2M322.2,359.9V382.7M323.1,360.6V383.1M324.0,359.4V385.7M324.9,367.6V392.6M325.8,364.2V395.1M326.7,372.8V393.1M327.6,379.7V402.0M328.5,375.4V405.6M329.4,388.5V403.4M330.3,382.5V405.5M331.2,393.6V408.4M332.1,388.0V406.1M333.0,395.1V416.4M333.9,398.2V415.4M334.8,396.6V417.1M335.7,388.0V411.3M336.6,384.6V405.5M337.5,382.8V403.5M338.4,370.0V389.4M339.3,368.1V387.3M340.2,362.1V383.8M341.1,353.3V376.9M342.0,344.9V361.1M342.9,344.5V355.3M343.8,332.2V351.1M344.7,329.0V347.1M345.6,327.4V344.7M346.5,318.8V333.9M347.4,320.9V330.6M348.3,313.7V329.3M349.2,315.3V332.1M350.1,313.9V331.9M351.0,308.2V331.2M351.9,307.5V329.1M352.8,312.4V326.3M353.7,316.6V329.5M354.6,321.0V336.4M355.5,315.4V338.5M356.4,314.6V337.6M357.3,320.9V343.9M358.2,330.7V339.5M359.1,327.1V353.9M360.0,332.1V351.9M360.9,345.0V363.0M361.8,341.9V363.5M362.7,348.9V372.8M363.6,351.0V376.5M364.5,356.7V380.7M365.4,364.6V386.0M366.3,365.9V390.9M367.2,377.0V394.2M368.1,377.1V395.8M369.0,378.9V399.9M369.9,380.6V405.5M370.8,383.4V396.8M371.7,375.6V399.2M372.6,379.4V396.1M373.5,374.4V384.6M374.4,364.1V381.4M375.3,360.1V385.1M376.2,357.3V378.8M377.1,356.4V373.9M378.0,354.8V367.5M378.9,344.1V368.2M379.8,345.7V363.9M380.7,343.5V351.9M381.6,330.9V352.5M382.5,326.5V346.1M383.4,321.8V344.2M384.3,318.4V339.6M385.2,318.6V336.5M386.1,323.7V333.5M387.0,319.9V330.3M387.9,316.8V334.6M388.8,314.8V329.3M389.7,320.6V327.3M390.6,316.3V334.5M391.5,310.3V326.5M392.4,317.5V328.5M393.3,316.8V322.7M394.2,313.3V327.7M395.1,306.9V325.5M396.0,303.3V321.9M396.9,297.4V322.6M397.8,295.3V316.1M398.7,299.7V312.0M399.6,289.2V312.4M400.5,295.0V316.3M401.4,294.4V315.3M402.3,300.0V318.5M403.2,304.0V319.6M404.1,309.5V328.1M405.0,315.2V326.5M405.9,322.8V330.6M406.8,323.2V341.9M407.7,321.4V341.4M408.6,333.4V342.8M409.5,328.0V350.2M410.4,339.6V351.9M411.3,341.6V351.1M412.2,343.8V357.1M413.1,345.7V363.3M414.0,343.6V359.7M414.9,345.4V369.0M415.8,352.8V363.1M416.7,351.1V372.8M417.6,360.1V373.9M418.5,353.7V372.0M419.4,346.5V361.0M420.3,348.2V365.9M421.2,338.1V360.9M422.1,336.1V348.7M423.0,329.8V351.5M423.9,329.8V347.5M424.8,335.0V345.8M425.7,333.7V344.4M426.6,327.0V339.2M427.5,329.3V344.4M428.4,331.1V347.8M429.3,332.8V352.2M430.2,333.2V347.6M431.1,335.2V355.5M432.0,338.0V356.3M432.9,337.2V356.8M433.8,342.3V353.9M434.7,345.3V359.9M435.6,342.6V359.6M436.5,337.5V354.1M437.4,339.3V349.5M438.3,337.6V351.7M439.2,326.4V344.3M440.1,320.6V344.5M441.0,318.7V337.3M441.9,312.2V339.0M442.8,309.3V329.8M443.7,307.3V323.9M444.6,305.3V322.6M445.5,303.6V324.6M446.4,300.6V325.5M447.3,296.3V317.3M448.2,303.7V321.7M449.1,299.0V323.1M450.0,302.5V321.1M450.9,304.4V330.5M451.8,312.3V328.4M452.7,316.4V337.7M453.6,320.5V345.2M454.5,336.1V353.6M455.4,336.8V356.4M456.3,346.2V364.5M457.2,353.6V370.3M458.1,356.6V379.8M459.0,363.3V384.0M459.9,371.1V385.9M460.8,373.2V394.7M461.7,381.7V392.2M462.6,379.0V398.8M463.5,382.6V402.2M464.4,382.9V406.7M465.3,387.2V404.1M466.2,390.8V402.5M467.1,386.2V405.4M468.0,381.0V404.4M468.9,379.4V396.4M469.8,369.4V392.3M470.7,362.3V384.9M471.6,363.5V382.2M472.5,355.9V373.9M473.4,346.0V373.5M474.3,345.0V365.4M475.2,333.1V358.7M476.1,334.6V347.2M477.0,328.8V343.4M477.9,322.3V345.4M478.8,318.6V344.3M479.7,324.3V341.9M480.6,321.7V337.7M481.5,327.1V333.3M482.4,319.3V342.8M483.3,329.8V343.6M484.2,321.9V338.0M485.1,325.2V344.3M486.0,323.6V342.7M486.9,321.7V340.9M487.8,318.2V339.8M488.7,325.4V338.2M489.6,321.9V339.1M490.5,314.1V338.7M491.4,321.7V335.9M492.3,313.6V329.1M493.2,316.7V329.2M494.1,312.8V326.5M495.0,312.1V325.9M495.9,308.1V326.9M496.8,307.6V330.2M497.7,311.0V332.5M498.6,311.8V326.1M499.5,309.1V333.8M500.4,319.4V332.2M501.3,313.4V327.6M502.2,318.7V336.5M503.1,319.2V339.0M504.0,323.8V337.9M504.9,326.6V344.8M505.8,330.7V346.2M506.7,332.3V346.7M507.6,335.3V352.4M508.5,329.4V352.1M509.4,340.8V355.0M510.3,338.4V360.6M511.2,341.3V361.1M512.1,348.0V360.7M513.0,347.2V371.0M513.9,348.2V366.5M514.8,356.6V379.0M515.7,362.9V383.4M516.6,362.8V380.6M517.5,359.0V387.7M518.4,354.2V382.4M519.3,352.3V376.1M520.2,346.9V373.4M521.1,344.6V365.3M522.0,344.3V364.4M522.9,339.3V362.0M523.8,338.1V361.0M524.7,332.0V356.3M525.6,330.2V354.3M526.5,330.2V356.2M527.4,332.9V348.7M528.3,329.1V352.1M529.2,330.2V355.0M530.1,328.4V353.6M531.0,330.4V356.5M531.9,334.1V360.4M532.8,334.4V362.8M533.7,341.0V364.6M534.6,347.2V361.2M535.5,351.5V372.1M536.4,358.3V376.5M537.3,356.2V378.4M538.2,363.3V384.7M539.1,367.1V383.3M540.0,364.0V393.6M540.9,367.3V392.3M541.8,372.4V401.2M542.7,369.6V393.7M543.6,375.8V396.5M544.5,373.2V393.0M545.4,367.1V400.0M546.3,370.6V396.7M547.2,371.7V397.1M548.1,370.1V392.3M549.0,368.7V397.5M549.9,370.5V396.9M550.8,377.8V392.2M551.7,379.4V402.0M552.6,376.6V398.5M553.5,379.1V396.7M554.4,383.5V393.7M555.3,375.4V402.1M556.2,384.0V402.1M557.1,384.3V402.4M558.0,380.0V402.3M558.9,375.4V400.6M559.8,381.7V396.7M560.7,376.2V402.2M561.6,376.2V402.0M562.5,374.7V399.0M563.4,375.3V392.9M564.3,368.2V394.9M565.2,369.0V396.0M566.1,363.3V393.6M567.0,365.6V389.3M567.9,353.7V385.5M568.8,355.8V378.4M569.7,356.1V383.5M570.6,356.6V382.5M571.5,352.3V380.1M572.4,353.3V378.9M573.3,354.2V374.8M574.2,355.1V384.3M575.1,352.2V386.7M576.0,356.8V379.7M576.9,355.8V386.3M577.8,358.6V393.7M578.7,356.2V392.5M579.6,361.0V391.8M580.5,357.4V390.4M581.4,356.5V394.7M582.3,357.4V394.9M583.2,362.4V391.4M584.1,362.5V390.4M585.0,358.8V389.7M585.9,367.8V399.5M586.8,364.8V394.4M587.7,366.1V395.7M588.6,370.6V400.2M589.5,374.8V400.8M590.4,372.8V409.6M591.3,373.2V405.4M592.2,375.7V408.4M593.1,375.2V406.4M594.0,371.6V403.4M594.9,370.7V402.8M595.8,364.7V397.5M596.7,363.9V389.0M597.6,358.1V387.7M598.5,360.9V373.8M599.4,352.3V375.3M600.3,349.7V374.0M601.2,343.9V363.4M602.1,341.5V356.6M603.0,329.5V351.9M603.9,326.7V343.5M604.8,314.4V333.9M605.7,310.1V335.9M606.6,308.7V324.3M607.5,303.4V328.5M608.4,301.9V320.4M609.3,307.4V328.4M610.2,312.6V334.9M611.1,326.5V342.5M612.0,325.2V343.7M612.9,329.7V348.3M613.8,329.6V356.9M614.7,333.5V359.3M615.6,335.6V361.8M616.5,332.4V357.3M617.4,332.2V357.9M618.3,333.0V363.5M619.2,330.3V367.3M620.1,334.1V365.0M621.0,332.0V367.9M621.9,338.8V369.0M622.8,349.3V374.8M623.7,353.1V380.4M624.6,362.7V388.6M625.5,368.0V395.1M626.4,365.5V400.5M627.3,377.5V396.7M628.2,378.4V407.7M629.1,381.0V405.6M630.0,377.5V410.4M630.9,373.5V402.1M631.8,383.0V403.5M632.7,376.5V404.5M633.6,381.6V406.0M634.5,373.1V400.1M635.4,376.5V402.0M636.3,377.1V408.1M637.2,375.0V407.6M638.1,371.8V396.5M639.0,367.7V392.7M639.9,353.5V382.8M640.8,349.6V374.8M641.7,342.0V362.8M642.6,334.4V361.8M643.5,332.0V359.2M644.4,330.4V360.2M645.3,321.4V357.8M646.2,318.0V350.9M647.1,317.0V345.7M648.0,314.3V352.5M648.9,320.2V353.3M649.8,313.1V347.9M650.7,313.8V352.7M651.6,308.4V349.9M652.5,309.9V346.8M653.4,312.3V345.9M654.3,312.8V349.7M655.2,316.9V351.2M656.1,321.5V348.5M657.0,329.1V358.9M657.9,338.0V370.3M658.8,355.6V382.5M659.7,365.8V393.1M660.6,365.4V391.3M661.5,375.4V394.6M662.4,369.7V394.5M663.3,373.6V397.3M664.2,374.9V405.3M665.1,372.5V399.1M666.0,378.7V399.5M666.9,367.7V396.2M667.8,374.1V393.7M668.7,363.6V397.3M669.6,367.6V389.8M670.5,366.3V383.1M671.4,359.9V381.3M672.3,351.3V383.0M673.2,351.6V375.2M674.1,349.2V374.2M675.0,348.7V368.3M675.9,348.6V366.8M676.8,343.0V368.0M677.7,339.6V369.7M678.6,345.5V371.4M679.5,345.8V369.0M680.4,350.8V368.1M681.3,351.6V374.3M682.2,354.0V374.1M683.1,358.8V374.0M684.0,357.8V385.5M684.9,362.6V383.8M685.8,369.8V390.7M686.7,369.6V389.7M687.6,373.2V389.9M688.5,374.5V393.2M689.4,376.7V396.7M690.3,384.9V396.6M691.2,388.1V408.5M692.1,386.3V401.6M693.0,383.1V401.9M693.9,378.4V398.6M694.8,374.5V392.5M695.7,372.1V390.6M696.6,363.3V385.6M697.5,361.3V372.6M698.4,354.2V370.2M699.3,347.7V374.1M700.2,349.6V367.2M701.1,338.4V361.2M702.0,342.7V363.6M702.9,335.2V358.3M703.8,326.1V357.4M704.7,324.5V353.9M705.6,325.6V350.4M706.5,327.9V345.6M707.4,329.8V351.5M708.3,326.2V342.8M709.2,321.4V344.9M710.1,328.8V343.4M711.0,324.6V346.5M711.9,327.6V340.5M712.8,319.4V346.0M713.7,316.5V343.9M714.6,324.3V340.2M715.5,316.2V345.6M716.4,317.3V346.5M717.3,320.8V349.9M718.2,327.3V344.7M719.1,334.0V350.9M720.0,331.2V350.2M720.9,332.5V361.4M721.8,334.7V356.7M722.7,341.8V364.4M723.6,339.0V363.5M724.5,344.0V364.2M725.4,344.5V372.6M726.3,341.3V371.5M727.2,345.3V366.5M728.1,345.7V373.0M729.0,350.4V369.4M729.9,345.5V371.8M730.8,340.7V369.4M731.7,342.1V359.4M732.6,336.5V363.2M733.5,334.6V363.1M734.4,330.5V353.4M735.3,338.1V358.5M736.2,327.0V354.2M737.1,326.9V355.3M738.0,331.3V354.8M738.9,322.4V346.3M739.8,324.8V348.1M740.7,323.5V353.2M741.6,328.6V354.6M742.5,323.3V353.4M743.4,332.6V350.4M744.3,327.6V361.5M745.2,330.5V364.0M746.1,342.1V366.8M747.0,339.1V367.4M747.9,336.1V368.1M748.8,339.2V367.0M749.7,347.3V368.5M750.6,344.8V372.5M751.5,342.3V371.2M752.4,344.5V366.3M753.3,343.2V374.9M754.2,342.5V372.8M755.1,344.0V372.0M756.0,351.5V368.4M756.9,347.6V367.1M757.8,350.6V374.7M758.7,347.8V374.3M759.6,344.3V372.1M760.5,338.8V370.3M761.4,331.0V356.0M762.3,332.0V345.5M763.2,315.5V341.4M764.1,310.0V334.5M765.0,311.4V335.4M765.9,305.6V330.1M766.8,303.6V323.5M767.7,315.1V334.1M768.6,318.5V330.2M769.5,315.7V337.2M770.4,323.8V345.3M771.3,331.6V345.1M772.2,334.0V343.2M773.1,338.5V349.0M774.0,339.8V357.1M774.9,336.4V356.1M775.8,340.6V359.7M776.7,346.4V359.4M777.6,348.9V362.7M778.5,352.2V365.4M779.4,355.1V365.0M780.3,350.1V366.2M781.2,349.7V367.2M782.1,355.2V367.1M783.0,351.3V372.8M783.9,356.9V377.1M784.8,359.8V370.0M785.7,355.6V369.9M786.6,355.9V370.6M787.5,347.2V362.9M788.4,345.4V366.9M789.3,340.5V358.4M790.2,339.0V360.3M791.1,327.5V350.4M792.0,328.5V345.4M792.9,321.4V344.6M793.8,322.5V340.9M794.7,310.5V337.6M795.6,304.4V327.3M796.5,305.4V326.4M797.4,302.3V322.4M798.3,294.9V314.2M799.2,296.0V312.6M800.1,293.0V308.8M801.0,287.9V301.1M801.9,288.2V305.5M802.8,294.1V311.3M803.7,286.6V312.5M804.6,293.4V312.4M805.5,302.8V316.7M806.4,303.9V320.2M807.3,311.6V324.9M808.2,318.8V332.4M809.1,328.6V346.6M810.0,332.2V350.0M810.9,343.8V357.8M811.8,342.7V364.6M812.7,345.7V366.3M813.6,357.0V374.6M814.5,365.6V378.9M815.4,372.3V379.2M816.3,377.6V386.5M817.2,380.7V389.5" stroke="#fa4545" stroke-width="1.0" fill="none"/>
<path d="M1025.3,252.8 L1025.8,264.2 L1026.6,266.2 L1027.3,264.2 L1027.9,243.6 L1028.4,268.6 L1029.2,270.6 L1029.9,268.6 L1030.5,251.0 L1031.0,266.8 L1031.8,268.8 L1032.5,266.8 L1033.1,237.7 L1033.6,256.1 L1034.3,258.1 L1035.1,256.1 L1035.6,233.3 L1036.2,247.5 L1036.9,249.5 L1037.7,247.5 L1038.2,239.8 L1038.8,269.0 L1039.5,271.0 L1040.3,269.0 L1040.8,254.4 L1041.4,287.4 L1042.1,289.4 L1042.8,287.4 L1043.4,276.2 L1043.9,296.3 L1044.7,298.3 L1045.4,296.3 L1046.0,284.3 L1046.5,295.8 L1047.3,297.8 L1048.0,295.8 L1048.6,278.5 L1049.1,308.0 L1049.9,310.0 L1050.6,308.0 L1051.2,291.0 L1051.7,314.3 L1052.4,316.3 L1053.2,314.3 L1053.7,301.7 L1054.3,318.1 L1055.0,320.1 L1055.8,318.1 L1056.3,294.7 L1056.9,304.1 L1057.6,306.1 L1058.4,304.1 L1058.9,279.2 L1059.5,294.7 L1060.2,296.7 L1060.9,294.7 L1061.5,273.2 L1062.0,279.9 L1062.8,281.9 L1063.5,279.9 L1064.1,265.2 L1064.6,274.2 L1065.4,276.2 L1066.1,274.2 L1066.7,257.4 L1067.2,271.4 L1068.0,273.4 L1068.7,271.4 L1069.2,251.1 L1069.8,268.8 L1070.5,270.8 L1071.3,268.8 L1071.8,254.3 L1072.4,270.8 L1073.1,272.8 L1073.9,270.8 L1074.4,255.3 L1075.0,269.4 L1075.7,271.4 L1076.5,269.4 L1077.0,262.5 L1077.5,281.3 L1078.3,283.3 L1079.0,281.3 L1079.6,264.1 L1080.1,293.1 L1080.9,295.1 L1081.6,293.1 L1082.2,278.9 L1082.7,287.8 L1083.5,289.8 L1084.2,287.8 L1084.8,274.2 L1085.3,288.9 L1086.1,290.9 L1086.8,288.9 L1087.3,269.1 L1087.9,277.9 L1088.6,279.9 L1089.4,277.9 L1089.9,225.5 L1090.5,244.7 L1091.2,246.7 L1092.0,244.7 L1092.5,188.3 L1093.1,200.8 L1093.8,202.8 L1094.6,200.8 L1095.1,172.6 L1095.6,185.3 L1096.4,187.3 L1097.1,185.3 L1097.7,176.2 L1098.2,197.0 L1099.0,199.0 L1099.7,197.0 L1100.3,181.4 L1100.8,208.9 L1101.6,210.9 L1102.3,208.9 L1102.9,190.7 L1103.4,202.4 L1104.1,204.4 L1104.9,202.4 L1105.4,188.5 L1106.0,213.7 L1106.7,215.7 L1107.5,213.7 L1108.0,197.9 L1108.6,225.0 L1109.3,227.0 L1110.1,225.0 L1110.6,210.0 L1111.2,235.6 L1111.9,237.6 L1112.6,235.6 L1113.2,220.0 L1113.7,242.2 L1114.5,244.2 L1115.2,242.2 L1115.8,223.9 L1116.3,234.6 L1117.1,236.6 L1117.8,234.6 L1118.4,218.5 L1118.9,235.7 L1119.7,237.7 L1120.4,235.7 L1121.0,224.2 L1121.5,247.0 L1122.2,249.0 L1123.0,247.0 L1123.5,228.5 L1124.1,261.5 L1124.8,263.5 L1125.6,261.5 L1126.1,245.0 L1126.7,261.7 L1127.4,263.7 L1128.2,261.7 L1128.7,242.6 L1129.3,254.9 L1130.0,256.9 L1130.7,254.9 L1131.3,227.3 L1131.8,239.8 L1132.6,241.8 L1133.3,239.8 L1133.9,211.9 L1134.4,220.8 L1135.2,222.8 L1135.9,220.8 L1136.5,209.0 L1137.0,220.8 L1137.8,222.8 L1138.5,220.8 L1139.0,211.9 L1139.6,237.0 L1140.3,239.0 L1141.1,237.0 L1141.6,223.2 L1142.2,258.1 L1142.9,260.1 L1143.7,258.1 L1144.2,249.6 L1144.8,298.8 L1145.5,300.8 L1146.3,298.8 L1146.8,281.1 L1147.4,308.6 L1148.1,310.6 L1148.8,308.6 L1149.4,294.1 L1149.9,312.1 L1150.7,314.1 L1151.4,312.1 L1152.0,291.1 L1152.5,301.5 L1153.3,303.5 L1154.0,301.5 L1154.6,267.2 L1155.1,284.5 L1155.9,286.5 L1156.6,284.5 L1157.1,248.3 L1157.7,254.8 L1158.4,256.8 L1159.2,254.8 L1159.7,238.2 L1160.3,247.2 L1161.0,249.2 L1161.8,247.2 L1162.3,236.0 L1162.9,246.5 L1163.6,248.5 L1164.4,246.5 L1164.9,233.5 L1165.4,250.4 L1166.2,252.4 L1166.9,250.4 L1167.5,234.5 L1168.0,246.6 L1168.8,248.6 L1169.5,246.6 L1170.1,220.6 L1170.6,237.9 L1171.4,239.9 L1172.1,237.9 L1172.7,220.0 L1173.2,250.2 L1173.9,252.2 L1174.7,250.2 L1175.2,236.3 L1175.8,244.6 L1176.5,246.6 L1177.3,244.6 L1177.8,233.6 L1178.4,255.7 L1179.1,257.7 L1179.9,255.7 L1180.4,244.4 L1181.0,258.5 L1181.7,260.5 L1182.4,258.5 L1183.0,241.2 L1183.5,256.0 L1184.3,258.0 L1185.0,256.0 L1185.6,240.6 L1186.1,270.3 L1186.9,272.3 L1187.6,270.3 L1188.2,253.4 L1188.7,261.7 L1189.5,263.7 L1190.2,261.7 L1190.8,250.6 L1191.3,269.6 L1192.0,271.6 L1192.8,269.6 L1193.3,242.8 L1193.9,251.8 L1194.6,253.8 L1195.4,251.8 L1195.9,240.5 L1196.5,269.8 L1197.2,271.8 L1198.0,269.8 L1198.5,252.0 L1199.1,279.1 L1199.8,281.1 L1200.5,279.1 L1201.1,263.5 L1201.6,284.5 L1202.4,286.5 L1203.1,284.5 L1203.7,275.1 L1204.2,282.3 L1205.0,284.3 L1205.7,282.3 L1206.3,266.3 L1206.8,274.4 L1207.6,276.4 L1208.3,274.4 L1208.8,262.2 L1209.4,273.7 L1210.1,275.7 L1210.9,273.7 L1211.4,255.5 L1212.0,274.6 L1212.7,276.6 L1213.5,274.6 L1214.0,240.7 L1214.6,253.3 L1215.3,255.3 L1216.1,253.3 L1216.6,231.6 L1217.2,241.6 L1217.9,243.6 L1218.6,241.6 L1219.2,232.4 L1219.7,248.9 L1220.5,250.9 L1221.2,248.9 L1221.8,235.6 L1222.3,250.6 L1223.1,252.6 L1223.8,250.6 L1224.4,243.1 L1224.9,267.1 L1225.7,269.1 L1226.4,267.1 L1226.9,251.9 L1227.5,285.9 L1228.2,287.9 L1229.0,285.9 L1229.5,270.3 L1230.1,283.4 L1230.8,285.4 L1231.6,283.4 L1232.1,268.1 L1232.7,281.9 L1233.4,283.9 L1234.2,281.9 L1234.7,268.9 L1235.2,286.5 L1236.0,288.5 L1236.7,286.5 L1237.3,269.9 L1237.8,285.5 L1238.6,287.5 L1239.3,285.5 L1239.9,265.0 L1240.4,274.2 L1241.2,276.2 L1241.9,274.2 L1242.5,254.1 L1243.0,266.7 L1243.7,268.7 L1244.5,266.7 L1245.0,248.6 L1245.6,260.9 L1246.3,262.9 L1247.1,260.9 L1247.6,252.8 L1248.2,276.8 L1248.9,278.8 L1249.7,276.8 L1250.2,263.4 L1250.8,278.2 L1251.5,280.2 L1252.3,278.2 L1252.8,262.0 L1253.3,276.2 L1254.1,278.2 L1254.8,276.2 L1255.4,268.6 L1255.9,287.2 L1256.7,289.2 L1257.4,287.2 L1258.0,279.7 L1258.5,291.8 L1259.3,293.8 L1260.0,291.8 L1260.6,278.6 L1261.1,289.0 L1261.8,291.0 L1262.6,289.0 L1263.1,267.8 L1263.7,280.3 L1264.4,282.3 L1265.2,280.3 L1265.7,256.1 L1266.3,267.1 L1267.0,269.1 L1267.8,267.1 L1268.3,234.7 L1268.9,253.2 L1269.6,255.2 L1270.3,253.2 L1270.9,226.4 L1271.4,234.1 L1272.2,236.1 L1272.9,234.1 L1273.5,216.0 L1274.0,227.1 L1274.8,229.1 L1275.5,227.1 L1276.1,208.4 L1276.6,223.3 L1277.4,225.3 L1278.1,223.3 L1278.6,208.6 L1279.2,226.7 L1279.9,228.7 L1280.7,226.7 L1281.2,202.4 L1281.8,224.4 L1282.5,226.4 L1283.3,224.4 L1283.8,205.4 L1284.4,230.9 L1285.1,232.9 L1285.9,230.9 L1286.4,220.1 L1287.0,233.8 L1287.7,235.8 L1288.4,233.8 L1289.0,227.4 L1289.5,269.0 L1290.3,271.0 L1291.0,269.0 L1291.6,249.5 L1292.1,296.3 L1292.9,298.3 L1293.6,296.3 L1294.2,278.6 L1294.7,292.1 L1295.5,294.1 L1296.2,292.1 L1296.7,261.2 L1297.3,273.3 L1298.0,275.3 L1298.8,273.3 L1299.3,260.2 L1299.9,276.9 L1300.6,278.9 L1301.4,276.9 L1301.9,251.8 L1302.5,258.7 L1303.2,260.7 L1304.0,258.7 L1304.5,231.1 L1305.0,250.2 L1305.8,252.2 L1306.5,250.2 L1307.1,213.3 L1307.6,228.5 L1308.4,230.5 L1309.1,228.5 L1309.7,202.5 L1310.2,220.7 L1311.0,222.7 L1311.7,220.7 L1312.3,198.2 L1312.8,207.8 L1313.5,209.8 L1314.3,207.8 L1314.8,191.0 L1315.4,209.2 L1316.1,211.2 L1316.9,209.2 L1317.4,186.3 L1318.0,204.6 L1318.7,206.6 L1319.5,204.6 L1320.0,172.0 L1320.6,186.2 L1321.3,188.2 L1322.1,186.2 L1322.6,172.0 L1323.1,189.6 L1323.9,191.6 L1324.6,189.6 L1325.2,180.3 L1325.7,196.3 L1326.5,198.3 L1327.2,196.3 L1327.8,190.0 L1328.3,215.8 L1329.1,217.8 L1329.8,215.8 L1330.4,202.9 L1330.9,230.1 L1331.6,232.1 L1332.4,230.1 L1332.9,215.2 L1333.5,228.3 L1334.2,230.3 L1335.0,228.3 L1335.5,213.4 L1336.1,237.3 L1336.8,239.3 L1337.6,237.3 L1338.1,225.7 L1338.7,235.3 L1339.4,237.3 L1340.1,235.3 L1340.7,227.3 L1341.2,242.3 L1342.0,244.3 L1342.7,242.3 L1343.3,229.9 L1343.8,249.1 L1344.6,251.1 L1345.3,249.1 L1345.9,225.0 L1346.4,238.1 L1347.2,240.1 L1347.9,238.1 L1348.5,216.3 L1349.0,228.9 L1349.7,230.9 L1350.5,228.9 L1351.0,216.8 L1351.6,233.7 L1352.3,235.7 L1353.1,233.7 L1353.6,215.1 L1354.2,228.9 L1354.9,230.9 L1355.7,228.9 L1356.2,220.5 L1356.8,228.4 L1357.5,230.4 L1358.2,228.4 L1358.8,218.9 L1359.3,225.5 L1360.1,227.5 L1360.8,225.5 L1361.4,215.0 L1361.9,234.2 L1362.7,236.2 L1363.4,234.2 L1364.0,206.6 L1364.5,220.4 L1365.3,222.4 L1366.0,220.4 L1366.5,194.4 L1367.1,206.5 L1367.8,208.5 L1368.6,206.5 L1369.1,193.4 L1369.7,205.3 L1370.4,207.3 L1371.2,205.3 L1371.7,187.7 L1372.3,196.9 L1373.0,198.9 L1373.8,196.9 L1374.3,184.3 L1374.8,217.1 L1375.6,219.1 L1376.3,217.1 L1376.9,198.2 L1377.4,226.9 L1378.2,228.9 L1378.9,226.9 L1379.5,212.4 L1380.0,237.6 L1380.8,239.6 L1381.5,237.6 L1382.1,227.3 L1382.6,273.1 L1383.4,275.1 L1384.1,273.1 L1384.6,254.0 L1385.2,284.5 L1385.9,286.5 L1386.7,284.5 L1387.2,270.6 L1387.8,299.1 L1388.5,301.1 L1389.3,299.1 L1389.8,289.5 L1390.4,300.7 L1391.1,302.7 L1391.9,300.7 L1392.4,288.1 L1392.9,300.5 L1393.7,302.5 L1394.4,300.5 L1395.0,263.0 L1395.5,276.6 L1396.3,278.6 L1397.0,276.6 L1397.6,247.1 L1398.1,259.5 L1398.9,261.5 L1399.6,259.5 L1400.2,218.1 L1400.7,234.3 L1401.4,236.3 L1402.2,234.3 L1402.7,206.2 L1403.3,219.2 L1404.0,221.2 L1404.8,219.2 L1405.3,203.2 L1405.9,221.4 L1406.6,223.4 L1407.4,221.4 L1407.9,205.2 L1408.5,237.3 L1409.2,239.3 L1409.9,237.3 L1410.5,218.3 L1411.0,232.5 L1411.8,234.5 L1412.5,232.5 L1413.1,209.0 L1413.6,221.3 L1414.4,223.3 L1415.1,221.3 L1415.7,192.4 L1416.2,211.4 L1417.0,213.4 L1417.7,211.4 L1418.3,184.1 L1418.8,198.5 L1419.5,200.5 L1420.3,198.5 L1420.8,179.2 L1421.4,201.1 L1422.1,203.1 L1422.9,201.1 L1423.4,185.6 L1424.0,205.9 L1424.7,207.9 L1425.5,205.9 L1426.0,189.0 L1426.6,208.3 L1427.3,210.3 L1428.0,208.3 L1428.6,200.1 L1429.1,232.3 L1429.9,234.3 L1430.6,232.3 L1431.2,217.4 L1431.7,234.0 L1432.5,236.0 L1433.2,234.0 L1433.8,221.1 L1434.3,253.4 L1435.1,255.4 L1435.8,253.4 L1436.3,236.4 L1436.9,264.7 L1437.6,266.7 L1438.4,264.7 L1438.9,246.4 L1439.5,260.9 L1440.2,262.9 L1441.0,260.9 L1441.5,249.2 L1442.1,265.9 L1442.8,267.9 L1443.6,265.9 L1444.1,231.6 L1444.7,246.7 L1445.4,248.7 L1446.1,246.7 L1446.7,230.2 L1447.2,241.8 L1448.0,243.8 L1448.7,241.8 L1449.3,221.5 L1449.8,237.4 L1450.6,239.4 L1451.3,237.4 L1451.9,225.1 L1452.4,243.9 L1453.2,245.9 L1453.9,243.9 L1454.4,221.6 L1455.0,235.9 L1455.7,237.9 L1456.5,235.9 L1457.0,211.4 L1457.6,226.1 L1458.3,228.1 L1459.1,226.1 L1459.6,217.5 L1460.2,244.2 L1460.9,246.2 L1461.7,244.2 L1462.2,233.6 L1462.7,259.1 L1463.5,261.1 L1464.2,259.1 L1464.8,244.9 L1465.3,270.2 L1466.1,272.2 L1466.8,270.2 L1467.4,251.8 L1467.9,261.9 L1468.7,263.9 L1469.4,261.9 L1470.0,254.4 L1470.5,274.6 L1471.2,276.6 L1472.0,274.6 L1472.5,267.9 L1473.1,292.9 L1473.8,294.9 L1474.6,292.9 L1475.1,277.1 L1475.7,293.7 L1476.4,295.7 L1477.2,293.7 L1477.7,283.0 L1478.3,301.2 L1479.0,303.2 L1479.7,301.2 L1480.3,269.3 L1480.8,287.1 L1481.6,289.1 L1482.3,287.1 L1482.9,266.2 L1483.4,280.1 L1484.2,282.1 L1484.9,280.1 L1485.5,264.3 L1486.0,278.7 L1486.8,280.7 L1487.5,278.7 L1488.1,262.6 L1488.6,272.9 L1489.3,274.9 L1490.1,272.9 L1490.6,258.6 L1491.2,272.4 L1491.9,274.4 L1492.7,272.4 L1493.2,249.2 L1493.8,264.6 L1494.5,266.6 L1495.3,264.6 L1495.8,252.2 L1496.4,266.1 L1497.1,268.1 L1497.8,266.1 L1498.4,253.2 L1498.9,268.1 L1499.7,270.1 L1500.4,268.1 L1501.0,258.6 L1501.5,277.8 L1502.3,279.8 L1503.0,277.8 L1503.6,256.8 L1504.1,274.7 L1504.9,276.7 L1505.6,274.7 L1506.1,265.2 L1506.7,281.0 L1507.4,283.0 L1508.2,281.0 L1508.7,258.6 L1509.3,280.6 L1510.0,282.6 L1510.8,280.6 L1511.3,266.5 L1511.9,293.5 L1512.6,295.5 L1513.4,293.5 L1513.9,275.8 L1514.5,288.8 L1515.2,290.8 L1515.9,288.8 L1516.5,266.9 L1517.0,278.5 L1517.8,280.5 L1518.5,278.5 L1519.1,258.8 L1519.6,269.9 L1520.4,271.9 L1521.1,269.9 L1521.7,250.8 L1522.2,259.7 L1523.0,261.7 L1523.7,259.7 L1524.2,235.4 L1524.8,253.9 L1525.5,255.9 L1526.3,253.9 L1526.8,199.9 L1527.4,214.3 L1528.1,216.3 L1528.9,214.3 L1529.4,197.7 L1530.0,205.7 L1530.7,207.7 L1531.5,205.7 L1532.0,193.6 L1532.5,212.7 L1533.3,214.7 L1534.0,212.7 L1534.6,197.1 L1535.1,228.8 L1535.9,230.8 L1536.6,228.8 L1537.2,221.4 L1537.7,230.3 L1538.5,232.3 L1539.2,230.3 L1539.8,209.4 L1540.3,221.0 L1541.0,223.0 L1541.8,221.0 L1542.3,204.9 L1542.9,211.3 L1543.6,213.3 L1544.4,211.3 L1544.9,200.4 L1545.5,220.4 L1546.2,222.4 L1547.0,220.4 L1547.5,210.0 L1548.1,256.0 L1548.8,258.0 L1549.6,256.0 L1550.1,243.4 L1550.6,283.5 L1551.4,285.5 L1552.1,283.5 L1552.7,264.5 L1553.2,288.5 L1554.0,290.5 L1554.7,288.5 L1555.3,271.6 L1555.8,284.2 L1556.6,286.2 L1557.3,284.2 L1557.9,271.9 L1558.4,279.1 L1559.1,281.1 L1559.9,279.1 L1560.4,271.7 L1561.0,284.4 L1561.7,286.4 L1562.5,284.4 L1563.0,240.3 L1563.6,257.3 L1564.3,259.3 L1565.1,257.3 L1565.6,225.7 L1566.2,242.5 L1566.9,244.5 L1567.6,242.5 L1568.2,208.5 L1568.7,215.2 L1569.5,217.2 L1570.2,215.2 L1570.8,208.4 L1571.3,222.7 L1572.1,224.7 L1572.8,222.7 L1573.4,213.6 L1573.9,221.6 L1574.7,223.6 L1575.4,221.6 L1575.9,213.0 L1576.5,228.7 L1577.2,230.7 L1578.0,228.7 L1578.5,216.2 L1579.1,236.2 L1579.8,238.2 L1580.6,236.2 L1581.1,229.4 L1581.7,272.2 L1582.4,274.2 L1583.2,272.2 L1583.7,255.5 L1584.3,286.2 L1585.0,288.2 L1585.7,286.2 L1586.3,276.9 L1586.8,291.6 L1587.6,293.6 L1588.3,291.6 L1588.9,265.9 L1589.4,280.7 L1590.2,282.7 L1590.9,280.7 L1591.5,253.3 L1592.0,261.6 L1592.8,263.6 L1593.5,261.6 L1594.0,242.0 L1594.6,248.7 L1595.3,250.7 L1596.1,248.7 L1596.6,230.5 L1597.2,238.2 L1597.9,240.2 L1598.7,238.2 L1599.2,223.1 L1599.8,240.9 L1600.5,242.9 L1601.3,240.9 L1601.8,227.9 L1602.3,254.6 L1603.1,256.6 L1603.8,254.6 L1604.4,235.5 L1604.9,267.2 L1605.7,269.2 L1606.4,267.2 L1607.0,252.8 L1607.5,275.6 L1608.3,277.6 L1609.0,275.6 L1609.6,256.7 L1610.1,277.7 L1610.8,279.7 L1611.6,277.7 L1612.1,268.8 L1612.7,278.0 L1613.4,280.0 L1614.2,278.0 L1614.7,271.4 L1615.3,286.2 L1616.0,288.2 L1616.8,286.2 L1617.3,254.9 L1617.9,272.6 L1618.6,274.6 L1619.4,272.6 L1619.9,253.0 L1620.4,261.1 L1621.2,263.1 L1621.9,261.1 L1622.5,244.8 L1623.0,264.1 L1623.8,266.1 L1624.5,264.1 L1625.1,229.4 L1625.6,242.1 L1626.4,244.1 L1627.1,242.1 L1627.7,220.4 L1628.2,227.6 L1628.9,229.6 L1629.7,227.6 L1630.2,210.2 L1630.8,229.2 L1631.5,231.2 L1632.3,229.2 L1632.8,210.2 L1633.4,240.5 L1634.1,242.5 L1634.9,240.5 L1635.4,223.4 L1636.0,234.4 L1636.7,236.4 L1637.4,234.4 L1638.0,196.4 L1638.5,204.7 L1639.3,206.7 L1640.0,204.7 L1640.6,191.9 L1641.1,207.5 L1641.9,209.5 L1642.6,207.5 L1643.2,193.7 L1643.7,221.0 L1644.5,223.0 L1645.2,221.0 L1645.8,207.6 L1646.3,250.4 L1647.0,252.4 L1647.8,250.4 L1648.3,231.9 L1648.9,252.3 L1649.6,254.3 L1650.4,252.3 L1650.9,235.7 L1651.5,246.5 L1652.2,248.5 L1653.0,246.5 L1653.5,235.8 L1654.1,247.9 L1654.8,249.9 L1655.5,247.9 L1656.1,239.1 L1656.6,250.9 L1657.4,252.9 L1658.1,250.9 L1658.7,222.4 L1659.2,239.7 L1660.0,241.7 L1660.7,239.7 L1661.3,208.5 L1661.8,227.1 L1662.6,229.1 L1663.3,227.1 L1663.8,202.7 L1664.4,218.4 L1665.1,220.4 L1665.9,218.4 L1666.4,207.6 L1667.0,237.9 L1667.7,239.9 L1668.5,237.9 L1669.0,219.0 L1669.6,231.7 L1670.3,233.7 L1671.1,231.7 L1671.6,224.8 L1672.1,249.2 L1672.9,251.2 L1673.6,249.2 L1674.2,237.9 L1674.7,263.9 L1675.5,265.9 L1676.2,263.9 L1676.8,247.5 L1677.3,257.3 L1678.1,259.3 L1678.8,257.3 L1679.4,241.6 L1679.9,259.9 L1680.7,261.9 L1681.4,259.9 L1681.9,234.1 L1682.5,251.4 L1683.2,253.4 L1684.0,251.4 L1684.5,202.4 L1685.1,211.0 L1685.8,213.0 L1686.6,211.0 L1687.1,187.7 L1687.7,202.2 L1688.4,204.2 L1689.2,202.2 L1689.7,180.9 L1690.2,208.0 L1691.0,210.0 L1691.7,208.0 L1692.3,194.6 L1692.8,230.0 L1693.6,232.0 L1694.3,230.0 L1694.9,217.0 L1695.4,241.7 L1696.2,243.7 L1696.9,241.7 L1697.5,229.4 L1698.0,253.2 L1698.7,255.2 L1699.5,253.2 L1700.0,245.4 L1700.6,259.4 L1701.3,261.4 L1702.1,259.4 L1702.6,248.6 L1703.2,272.4 L1703.9,274.4 L1704.7,272.4 L1705.2,258.7 L1705.8,268.4 L1706.5,270.4 L1707.2,268.4 L1707.8,252.4 L1708.3,263.2 L1709.1,265.2 L1709.8,263.2 L1710.4,245.2 L1710.9,253.3 L1711.7,255.3 L1712.4,253.3 L1713.0,223.9 L1713.5,242.5 L1714.3,244.5 L1715.0,242.5 L1715.6,206.6 L1716.1,215.2 L1716.8,217.2 L1717.6,215.2 L1718.1,193.3 L1718.7,201.0 L1719.4,203.0 L1720.2,201.0 L1720.7,182.5 L1721.3,194.4 L1722.0,196.4 L1722.8,194.4 L1723.3,174.4 L1723.9,193.5 L1724.6,195.5 L1725.3,193.5 L1725.9,181.6 L1726.4,202.5 L1727.2,204.5 L1727.9,202.5 L1728.5,185.2 L1729.0,201.0 L1729.8,203.0 L1730.5,201.0 L1731.1,194.7 L1731.6,228.1 L1732.4,230.1 L1733.1,228.1 L1733.6,216.7 L1734.2,250.8 L1734.9,252.8 L1735.7,250.8 L1736.2,242.4 L1736.8,264.0 L1737.5,266.0 L1738.3,264.0 L1738.8,254.2 L1738.8,511.7 L1738.3,499.4 L1737.5,497.4 L1736.8,499.4 L1736.2,503.5 L1735.7,480.6 L1734.9,478.6 L1734.2,480.6 L1733.6,484.8 L1733.1,462.0 L1732.4,460.0 L1731.6,462.0 L1731.1,466.6 L1730.5,436.3 L1729.8,434.3 L1729.0,436.3 L1728.5,444.3 L1727.9,428.4 L1727.2,426.4 L1726.4,428.4 L1725.9,432.1 L1725.3,423.2 L1724.6,421.2 L1723.9,423.2 L1723.3,430.5 L1722.8,428.2 L1722.0,426.2 L1721.3,428.2 L1720.7,453.2 L1720.2,448.8 L1719.4,446.8 L1718.7,448.8 L1718.1,465.1 L1717.6,461.8 L1716.8,459.8 L1716.1,461.8 L1715.6,476.0 L1715.0,467.7 L1714.3,465.7 L1713.5,467.7 L1713.0,481.6 L1712.4,472.4 L1711.7,470.4 L1710.9,472.4 L1710.4,490.0 L1709.8,486.1 L1709.1,484.1 L1708.3,486.1 L1707.8,492.0 L1707.2,480.3 L1706.5,478.3 L1705.8,480.3 L1705.2,486.6 L1704.7,476.6 L1703.9,474.6 L1703.2,476.6 L1702.6,484.3 L1702.1,479.2 L1701.3,477.2 L1700.6,479.2 L1700.0,484.4 L1699.5,478.0 L1698.7,476.0 L1698.0,478.0 L1697.5,481.9 L1696.9,465.4 L1696.2,463.4 L1695.4,465.4 L1694.9,470.6 L1694.3,457.3 L1693.6,455.3 L1692.8,457.3 L1692.3,461.3 L1691.7,441.8 L1691.0,439.8 L1690.2,441.8 L1689.7,446.4 L1689.2,438.0 L1688.4,436.0 L1687.7,438.0 L1687.1,445.4 L1686.6,438.4 L1685.8,436.4 L1685.1,438.4 L1684.5,464.7 L1684.0,457.2 L1683.2,455.2 L1682.5,457.2 L1681.9,471.6 L1681.4,467.2 L1680.7,465.2 L1679.9,467.2 L1679.4,470.2 L1678.8,464.0 L1678.1,462.0 L1677.3,464.0 L1676.8,475.3 L1676.2,470.7 L1675.5,468.7 L1674.7,470.7 L1674.2,474.6 L1673.6,469.3 L1672.9,467.3 L1672.1,469.3 L1671.6,474.8 L1671.1,462.4 L1670.3,460.4 L1669.6,462.4 L1669.0,469.6 L1668.5,454.2 L1667.7,452.2 L1667.0,454.2 L1666.4,461.3 L1665.9,452.7 L1665.1,450.7 L1664.4,452.7 L1663.8,456.3 L1663.3,449.3 L1662.6,447.3 L1661.8,449.3 L1661.3,464.1 L1660.7,459.4 L1660.0,457.4 L1659.2,459.4 L1658.7,482.9 L1658.1,475.9 L1657.4,473.9 L1656.6,475.9 L1656.1,485.0 L1655.5,479.2 L1654.8,477.2 L1654.1,479.2 L1653.5,484.6 L1653.0,479.8 L1652.2,477.8 L1651.5,479.8 L1650.9,482.8 L1650.4,478.8 L1649.6,476.8 L1648.9,478.8 L1648.3,487.6 L1647.8,474.8 L1647.0,472.8 L1646.3,474.8 L1645.8,481.2 L1645.2,467.7 L1644.5,465.7 L1643.7,467.7 L1643.2,470.6 L1642.6,452.5 L1641.9,450.5 L1641.1,452.5 L1640.6,461.1 L1640.0,453.9 L1639.3,451.9 L1638.5,453.9 L1638.0,458.4 L1637.4,450.0 L1636.7,448.0 L1636.0,450.0 L1635.4,466.8 L1634.9,456.2 L1634.1,454.2 L1633.4,456.2 L1632.8,465.0 L1632.3,456.8 L1631.5,454.8 L1630.8,456.8 L1630.2,459.9 L1629.7,453.1 L1628.9,451.1 L1628.2,453.1 L1627.7,462.3 L1627.1,457.9 L1626.4,455.9 L1625.6,457.9 L1625.1,474.2 L1624.5,467.0 L1623.8,465.0 L1623.0,467.0 L1622.5,479.6 L1621.9,472.0 L1621.2,470.0 L1620.4,472.0 L1619.9,492.2 L1619.4,484.5 L1618.6,482.5 L1617.9,484.5 L1617.3,514.3 L1616.8,506.8 L1616.0,504.8 L1615.3,506.8 L1614.7,525.0 L1614.2,508.5 L1613.4,506.5 L1612.7,508.5 L1612.1,510.9 L1611.6,489.3 L1610.8,487.3 L1610.1,489.3 L1609.6,495.6 L1609.0,484.5 L1608.3,482.5 L1607.5,484.5 L1607.0,492.0 L1606.4,475.7 L1605.7,473.7 L1604.9,475.7 L1604.4,480.5 L1603.8,463.1 L1603.1,461.1 L1602.3,463.1 L1601.8,472.3 L1601.3,463.3 L1600.5,461.3 L1599.8,463.3 L1599.2,479.6 L1598.7,471.7 L1597.9,469.7 L1597.2,471.7 L1596.6,487.9 L1596.1,484.7 L1595.3,482.7 L1594.6,484.7 L1594.0,498.2 L1593.5,489.2 L1592.8,487.2 L1592.0,489.2 L1591.5,502.4 L1590.9,490.1 L1590.2,488.1 L1589.4,490.1 L1588.9,498.5 L1588.3,490.4 L1587.6,488.4 L1586.8,490.4 L1586.3,499.8 L1585.7,490.5 L1585.0,488.5 L1584.3,490.5 L1583.7,497.2 L1583.2,483.9 L1582.4,481.9 L1581.7,483.9 L1581.1,487.3 L1580.6,456.3 L1579.8,454.3 L1579.1,456.3 L1578.5,461.1 L1578.0,453.2 L1577.2,451.2 L1576.5,453.2 L1575.9,457.0 L1575.4,450.4 L1574.7,448.4 L1573.9,450.4 L1573.4,462.8 L1572.8,457.5 L1572.1,455.5 L1571.3,457.5 L1570.8,463.1 L1570.2,454.4 L1569.5,452.4 L1568.7,454.4 L1568.2,467.9 L1567.6,463.5 L1566.9,461.5 L1566.2,463.5 L1565.6,484.0 L1565.1,477.9 L1564.3,475.9 L1563.6,477.9 L1563.0,496.9 L1562.5,494.1 L1561.7,492.1 L1561.0,494.1 L1560.4,505.5 L1559.9,502.1 L1559.1,500.1 L1558.4,502.1 L1557.9,515.4 L1557.3,506.2 L1556.6,504.2 L1555.8,506.2 L1555.3,526.5 L1554.7,515.7 L1554.0,513.7 L1553.2,515.7 L1552.7,524.3 L1552.1,503.9 L1551.4,501.9 L1550.6,503.9 L1550.1,507.5 L1549.6,483.6 L1548.8,481.6 L1548.1,483.6 L1547.5,486.8 L1547.0,465.9 L1546.2,463.9 L1545.5,465.9 L1544.9,472.3 L1544.4,463.7 L1543.6,461.7 L1542.9,463.7 L1542.3,483.1 L1541.8,474.7 L1541.0,472.7 L1540.3,474.7 L1539.8,491.4 L1539.2,485.9 L1538.5,483.9 L1537.7,485.9 L1537.2,489.5 L1536.6,467.9 L1535.9,465.9 L1535.1,467.9 L1534.6,475.8 L1534.0,450.6 L1533.3,448.6 L1532.5,450.6 L1532.0,452.9 L1531.5,443.4 L1530.7,441.4 L1530.0,443.4 L1529.4,447.2 L1528.9,439.2 L1528.1,437.2 L1527.4,439.2 L1526.8,459.8 L1526.3,451.4 L1525.5,449.4 L1524.8,451.4 L1524.2,468.5 L1523.7,461.2 L1523.0,459.2 L1522.2,461.2 L1521.7,485.2 L1521.1,481.6 L1520.4,479.6 L1519.6,481.6 L1519.1,501.4 L1518.5,495.6 L1517.8,493.6 L1517.0,495.6 L1516.5,509.2 L1515.9,502.4 L1515.2,500.4 L1514.5,502.4 L1513.9,505.8 L1513.4,487.8 L1512.6,485.8 L1511.9,487.8 L1511.3,494.3 L1510.8,484.3 L1510.0,482.3 L1509.3,484.3 L1508.7,488.3 L1508.2,484.4 L1507.4,482.4 L1506.7,484.4 L1506.1,493.4 L1505.6,481.9 L1504.9,479.9 L1504.1,481.9 L1503.6,490.1 L1503.0,486.5 L1502.3,484.5 L1501.5,486.5 L1501.0,500.5 L1500.4,492.2 L1499.7,490.2 L1498.9,492.2 L1498.4,501.3 L1497.8,491.2 L1497.1,489.2 L1496.4,491.2 L1495.8,497.7 L1495.3,488.1 L1494.5,486.1 L1493.8,488.1 L1493.2,492.4 L1492.7,484.9 L1491.9,482.9 L1491.2,484.9 L1490.6,497.2 L1490.1,485.2 L1489.3,483.2 L1488.6,485.2 L1488.1,493.5 L1487.5,487.9 L1486.8,485.9 L1486.0,487.9 L1485.5,491.4 L1484.9,487.5 L1484.2,485.5 L1483.4,487.5 L1482.9,499.6 L1482.3,492.7 L1481.6,490.7 L1480.8,492.7 L1480.3,501.0 L1479.7,489.8 L1479.0,487.8 L1478.3,489.8 L1477.7,499.1 L1477.2,491.7 L1476.4,489.7 L1475.7,491.7 L1475.1,497.4 L1474.6,492.3 L1473.8,490.3 L1473.1,492.3 L1472.5,495.0 L1472.0,489.1 L1471.2,487.1 L1470.5,489.1 L1470.0,501.0 L1469.4,491.4 L1468.7,489.4 L1467.9,491.4 L1467.4,493.8 L1466.8,487.8 L1466.1,485.8 L1465.3,487.8 L1464.8,493.3 L1464.2,478.9 L1463.5,476.9 L1462.7,478.9 L1462.2,484.1 L1461.7,471.4 L1460.9,469.4 L1460.2,471.4 L1459.6,474.3 L1459.1,458.7 L1458.3,456.7 L1457.6,458.7 L1457.0,467.0 L1456.5,455.8 L1455.7,453.8 L1455.0,455.8 L1454.4,463.4 L1453.9,456.5 L1453.2,454.5 L1452.4,456.5 L1451.9,461.4 L1451.3,450.4 L1450.6,448.4 L1449.8,450.4 L1449.3,453.5 L1448.7,450.9 L1448.0,448.9 L1447.2,450.9 L1446.7,463.2 L1446.1,456.1 L1445.4,454.1 L1444.7,456.1 L1444.1,493.7 L1443.6,484.9 L1442.8,482.9 L1442.1,484.9 L1441.5,505.6 L1441.0,494.3 L1440.2,492.3 L1439.5,494.3 L1438.9,501.2 L1438.4,479.8 L1437.6,477.8 L1436.9,479.8 L1436.3,486.2 L1435.8,474.9 L1435.1,472.9 L1434.3,474.9 L1433.8,480.1 L1433.2,459.0 L1432.5,457.0 L1431.7,459.0 L1431.2,468.5 L1430.6,457.4 L1429.9,455.4 L1429.1,457.4 L1428.6,462.7 L1428.0,451.0 L1427.3,449.0 L1426.6,451.0 L1426.0,458.1 L1425.5,442.3 L1424.7,440.3 L1424.0,442.3 L1423.4,447.2 L1422.9,436.3 L1422.1,434.3 L1421.4,436.3 L1420.8,441.3 L1420.3,433.4 L1419.5,431.4 L1418.8,433.4 L1418.3,445.0 L1417.7,439.9 L1417.0,437.9 L1416.2,439.9 L1415.7,457.7 L1415.1,448.5 L1414.4,446.5 L1413.6,448.5 L1413.1,468.7 L1412.5,461.9 L1411.8,459.9 L1411.0,461.9 L1410.5,471.7 L1409.9,459.3 L1409.2,457.3 L1408.5,459.3 L1407.9,462.4 L1407.4,442.9 L1406.6,440.9 L1405.9,442.9 L1405.3,449.9 L1404.8,441.1 L1404.0,439.1 L1403.3,441.1 L1402.7,454.0 L1402.2,448.6 L1401.4,446.6 L1400.7,448.6 L1400.2,469.6 L1399.6,460.5 L1398.9,458.5 L1398.1,460.5 L1397.6,483.0 L1397.0,476.8 L1396.3,474.8 L1395.5,476.8 L1395.0,500.2 L1394.4,493.1 L1393.7,491.1 L1392.9,493.1 L1392.4,506.8 L1391.9,497.2 L1391.1,495.2 L1390.4,497.2 L1389.8,505.6 L1389.3,490.3 L1388.5,488.3 L1387.8,490.3 L1387.2,497.7 L1386.7,480.2 L1385.9,478.2 L1385.2,480.2 L1384.6,487.4 L1384.1,472.6 L1383.4,470.6 L1382.6,472.6 L1382.1,478.9 L1381.5,457.0 L1380.8,455.0 L1380.0,457.0 L1379.5,465.3 L1378.9,445.7 L1378.2,443.7 L1377.4,445.7 L1376.9,448.2 L1376.3,434.8 L1375.6,432.8 L1374.8,434.8 L1374.3,443.1 L1373.8,435.2 L1373.0,433.2 L1372.3,435.2 L1371.7,442.9 L1371.2,438.6 L1370.4,436.6 L1369.7,438.6 L1369.1,450.1 L1368.6,444.5 L1367.8,442.5 L1367.1,444.5 L1366.5,468.8 L1366.0,464.7 L1365.3,462.7 L1364.5,464.7 L1364.0,473.6 L1363.4,466.7 L1362.7,464.7 L1361.9,466.7 L1361.4,473.6 L1360.8,466.3 L1360.1,464.3 L1359.3,466.3 L1358.8,482.7 L1358.2,471.6 L1357.5,469.6 L1356.8,471.6 L1356.2,476.4 L1355.7,461.4 L1354.9,459.4 L1354.2,461.4 L1353.6,467.9 L1353.1,460.6 L1352.3,458.6 L1351.6,460.6 L1351.0,467.5 L1350.5,458.4 L1349.7,456.4 L1349.0,458.4 L1348.5,469.5 L1347.9,464.0 L1347.2,462.0 L1346.4,464.0 L1345.9,472.4 L1345.3,465.9 L1344.6,463.9 L1343.8,465.9 L1343.3,481.8 L1342.7,476.8 L1342.0,474.8 L1341.2,476.8 L1340.7,490.3 L1340.1,483.0 L1339.4,481.0 L1338.7,483.0 L1338.1,488.3 L1337.6,472.1 L1336.8,470.1 L1336.1,472.1 L1335.5,480.9 L1335.0,469.3 L1334.2,467.3 L1333.5,469.3 L1332.9,475.4 L1332.4,467.1 L1331.6,465.1 L1330.9,467.1 L1330.4,469.7 L1329.8,456.8 L1329.1,454.8 L1328.3,456.8 L1327.8,461.1 L1327.2,437.7 L1326.5,435.7 L1325.7,437.7 L1325.2,442.9 L1324.6,430.3 L1323.9,428.3 L1323.1,430.3 L1322.6,433.9 L1322.1,431.1 L1321.3,429.1 L1320.6,431.1 L1320.0,446.5 L1319.5,443.5 L1318.7,441.5 L1318.0,443.5 L1317.4,459.1 L1316.9,453.9 L1316.1,451.9 L1315.4,453.9 L1314.8,464.1 L1314.3,455.1 L1313.5,453.1 L1312.8,455.1 L1312.3,463.1 L1311.7,460.0 L1311.0,458.0 L1310.2,460.0 L1309.7,462.6 L1309.1,458.2 L1308.4,456.2 L1307.6,458.2 L1307.1,466.5 L1306.5,458.2 L1305.8,456.2 L1305.0,458.2 L1304.5,480.8 L1304.0,474.3 L1303.2,472.3 L1302.5,474.3 L1301.9,494.9 L1301.4,491.5 L1300.6,489.5 L1299.9,491.5 L1299.3,510.8 L1298.8,505.4 L1298.0,503.4 L1297.3,505.4 L1296.7,521.7 L1296.2,515.0 L1295.5,513.0 L1294.7,515.0 L1294.2,523.8 L1293.6,520.4 L1292.9,518.4 L1292.1,520.4 L1291.6,523.3 L1291.0,498.0 L1290.3,496.0 L1289.5,498.0 L1289.0,505.5 L1288.4,478.9 L1287.7,476.9 L1287.0,478.9 L1286.4,486.1 L1285.9,459.0 L1285.1,457.0 L1284.4,459.0 L1283.8,467.3 L1283.3,440.5 L1282.5,438.5 L1281.8,440.5 L1281.2,443.0 L1280.7,436.3 L1279.9,434.3 L1279.2,436.3 L1278.6,442.2 L1278.1,434.1 L1277.4,432.1 L1276.6,434.1 L1276.1,442.5 L1275.5,433.4 L1274.8,431.4 L1274.0,433.4 L1273.5,443.8 L1272.9,435.9 L1272.2,433.9 L1271.4,435.9 L1270.9,457.4 L1270.3,450.7 L1269.6,448.7 L1268.9,450.7 L1268.3,473.2 L1267.8,468.5 L1267.0,466.5 L1266.3,468.5 L1265.7,483.7 L1265.2,474.6 L1264.4,472.6 L1263.7,474.6 L1263.1,492.2 L1262.6,485.1 L1261.8,483.1 L1261.1,485.1 L1260.6,501.9 L1260.0,498.6 L1259.3,496.6 L1258.5,498.6 L1258.0,510.4 L1257.4,503.2 L1256.7,501.2 L1255.9,503.2 L1255.4,514.4 L1254.8,502.3 L1254.1,500.3 L1253.3,502.3 L1252.8,508.6 L1252.3,490.5 L1251.5,488.5 L1250.8,490.5 L1250.2,499.6 L1249.7,488.2 L1248.9,486.2 L1248.2,488.2 L1247.6,494.9 L1247.1,490.1 L1246.3,488.1 L1245.6,490.1 L1245.0,494.7 L1244.5,491.5 L1243.7,489.5 L1243.0,491.5 L1242.5,494.9 L1241.9,492.4 L1241.2,490.4 L1240.4,492.4 L1239.9,501.2 L1239.3,493.6 L1238.6,491.6 L1237.8,493.6 L1237.3,501.2 L1236.7,494.7 L1236.0,492.7 L1235.2,494.7 L1234.7,501.7 L1234.2,492.5 L1233.4,490.5 L1232.7,492.5 L1232.1,498.5 L1231.6,481.1 L1230.8,479.1 L1230.1,481.1 L1229.5,484.1 L1229.0,469.0 L1228.2,467.0 L1227.5,469.0 L1226.9,474.2 L1226.4,471.5 L1225.7,469.5 L1224.9,471.5 L1224.4,476.8 L1223.8,467.7 L1223.1,465.7 L1222.3,467.7 L1221.8,480.5 L1221.2,471.5 L1220.5,469.5 L1219.7,471.5 L1219.2,479.7 L1218.6,470.7 L1217.9,468.7 L1217.2,470.7 L1216.6,474.6 L1216.1,469.5 L1215.3,467.5 L1214.6,469.5 L1214.0,481.1 L1213.5,475.9 L1212.7,473.9 L1212.0,475.9 L1211.4,492.0 L1210.9,486.6 L1210.1,484.6 L1209.4,486.6 L1208.8,499.2 L1208.3,492.5 L1207.6,490.5 L1206.8,492.5 L1206.3,499.2 L1205.7,492.1 L1205.0,490.1 L1204.2,492.1 L1203.7,501.5 L1203.1,496.9 L1202.4,494.9 L1201.6,496.9 L1201.1,500.8 L1200.5,489.9 L1199.8,487.9 L1199.1,489.9 L1198.5,495.9 L1198.0,479.0 L1197.2,477.0 L1196.5,479.0 L1195.9,485.6 L1195.4,474.6 L1194.6,472.6 L1193.9,474.6 L1193.3,481.9 L1192.8,472.9 L1192.0,470.9 L1191.3,472.9 L1190.8,491.1 L1190.2,485.6 L1189.5,483.6 L1188.7,485.6 L1188.2,490.1 L1187.6,478.7 L1186.9,476.7 L1186.1,478.7 L1185.6,487.6 L1185.0,481.2 L1184.3,479.2 L1183.5,481.2 L1183.0,487.0 L1182.4,470.0 L1181.7,468.0 L1181.0,470.0 L1180.4,478.9 L1179.9,469.7 L1179.1,467.7 L1178.4,469.7 L1177.8,472.5 L1177.3,461.8 L1176.5,459.8 L1175.8,461.8 L1175.2,468.5 L1174.7,463.6 L1173.9,461.6 L1173.2,463.6 L1172.7,466.8 L1172.1,464.4 L1171.4,462.4 L1170.6,464.4 L1170.1,467.3 L1169.5,462.0 L1168.8,460.0 L1168.0,462.0 L1167.5,474.4 L1166.9,463.7 L1166.2,461.7 L1165.4,463.7 L1164.9,468.4 L1164.4,459.3 L1163.6,457.3 L1162.9,459.3 L1162.3,463.5 L1161.8,458.9 L1161.0,456.9 L1160.3,458.9 L1159.7,466.3 L1159.2,457.7 L1158.4,455.7 L1157.7,457.7 L1157.1,479.7 L1156.6,475.3 L1155.9,473.3 L1155.1,475.3 L1154.6,502.4 L1154.0,498.7 L1153.3,496.7 L1152.5,498.7 L1152.0,510.6 L1151.4,501.8 L1150.7,499.8 L1149.9,501.8 L1149.4,509.0 L1148.8,502.0 L1148.1,500.0 L1147.4,502.0 L1146.8,512.1 L1146.3,492.9 L1145.5,490.9 L1144.8,492.9 L1144.2,496.8 L1143.7,473.0 L1142.9,471.0 L1142.2,473.0 L1141.6,479.7 L1141.1,451.8 L1140.3,449.8 L1139.6,451.8 L1139.0,456.3 L1138.5,441.3 L1137.8,439.3 L1137.0,441.3 L1136.5,447.0 L1135.9,441.3 L1135.2,439.3 L1134.4,441.3 L1133.9,455.5 L1133.3,451.4 L1132.6,449.4 L1131.8,451.4 L1131.3,457.2 L1130.7,452.4 L1130.0,450.4 L1129.3,452.4 L1128.7,473.6 L1128.2,468.1 L1127.4,466.1 L1126.7,468.1 L1126.1,477.1 L1125.6,469.8 L1124.8,467.8 L1124.1,469.8 L1123.5,486.1 L1123.0,477.5 L1122.2,475.5 L1121.5,477.5 L1121.0,481.3 L1120.4,472.8 L1119.7,470.8 L1118.9,472.8 L1118.4,478.9 L1117.8,465.7 L1117.1,463.7 L1116.3,465.7 L1115.8,471.8 L1115.2,454.5 L1114.5,452.5 L1113.7,454.5 L1113.2,458.3 L1112.6,443.7 L1111.9,441.7 L1111.2,443.7 L1110.6,448.0 L1110.1,440.0 L1109.3,438.0 L1108.6,440.0 L1108.0,443.2 L1107.5,430.5 L1106.7,428.5 L1106.0,430.5 L1105.4,436.1 L1104.9,430.8 L1104.1,428.8 L1103.4,430.8 L1102.9,437.3 L1102.3,426.5 L1101.6,424.5 L1100.8,426.5 L1100.3,432.9 L1099.7,428.6 L1099.0,426.6 L1098.2,428.6 L1097.7,434.0 L1097.1,424.8 L1096.4,422.8 L1095.6,424.8 L1095.1,433.0 L1094.6,428.6 L1093.8,426.6 L1093.1,428.6 L1092.5,450.6 L1092.0,441.8 L1091.2,439.8 L1090.5,441.8 L1089.9,476.2 L1089.4,467.0 L1088.6,465.0 L1087.9,467.0 L1087.3,490.0 L1086.8,482.2 L1086.1,480.2 L1085.3,482.2 L1084.8,488.4 L1084.2,485.3 L1083.5,483.3 L1082.7,485.3 L1082.2,489.9 L1081.6,471.0 L1080.9,469.0 L1080.1,471.0 L1079.6,473.6 L1079.0,465.3 L1078.3,463.3 L1077.5,465.3 L1077.0,474.9 L1076.5,467.0 L1075.7,465.0 L1075.0,467.0 L1074.4,475.4 L1073.9,469.7 L1073.1,467.7 L1072.4,469.7 L1071.8,480.8 L1071.3,473.2 L1070.5,471.2 L1069.8,473.2 L1069.2,488.7 L1068.7,479.2 L1068.0,477.2 L1067.2,479.2 L1066.7,486.1 L1066.1,482.4 L1065.4,480.4 L1064.6,482.4 L1064.1,496.5 L1063.5,490.2 L1062.8,488.2 L1062.0,490.2 L1061.5,499.8 L1060.9,492.8 L1060.2,490.8 L1059.5,492.8 L1058.9,501.1 L1058.4,493.3 L1057.6,491.3 L1056.9,493.3 L1056.3,500.7 L1055.8,491.3 L1055.0,489.3 L1054.3,491.3 L1053.7,517.0 L1053.2,512.6 L1052.4,510.6 L1051.7,512.6 L1051.2,520.5 L1050.6,506.6 L1049.9,504.6 L1049.1,506.6 L1048.6,512.9 L1048.0,500.4 L1047.3,498.4 L1046.5,500.4 L1046.0,508.4 L1045.4,498.2 L1044.7,496.2 L1043.9,498.2 L1043.4,503.6 L1042.8,494.4 L1042.1,492.4 L1041.4,494.4 L1040.8,498.8 L1040.3,472.8 L1039.5,470.8 L1038.8,472.8 L1038.2,476.6 L1037.7,456.2 L1036.9,454.2 L1036.2,456.2 L1035.6,464.4 L1035.1,461.0 L1034.3,459.0 L1033.6,461.0 L1033.1,469.3 L1032.5,459.7 L1031.8,457.7 L1031.0,459.7 L1030.5,465.7 L1029.9,456.8 L1029.2,454.8 L1028.4,456.8 L1027.9,469.1 L1027.3,453.5 L1026.6,451.5 L1025.8,453.5 L1025.3,460.3Z" fill="#505050"/>
<path d="M1025.3,252.3V460.8M1027.9,243.1V469.6M1030.5,250.5V466.2M1033.1,237.2V469.8M1035.6,232.8V464.9M1038.2,239.3V477.1M1040.8,253.9V499.3M1043.4,275.7V504.1M1046.0,283.8V508.9M1048.6,278.0V513.4M1051.2,290.5V521.0M1053.7,301.2V517.5M1056.3,294.2V501.2M1058.9,278.7V501.6M1061.5,272.7V500.3M1064.1,264.7V497.0M1066.7,256.9V486.6M1069.2,250.6V489.2M1071.8,253.8V481.3M1074.4,254.8V475.9M1077.0,262.0V475.4M1079.6,263.6V474.1M1082.2,278.4V490.4M1084.8,273.7V488.9M1087.3,268.6V490.5M1089.9,225.0V476.7M1092.5,187.8V451.1M1095.1,172.1V433.5M1097.7,175.7V434.5M1100.3,180.9V433.4M1102.9,190.2V437.8M1105.4,188.0V436.6M1108.0,197.4V443.7M1110.6,209.5V448.5M1113.2,219.5V458.8M1115.8,223.4V472.3M1118.4,218.0V479.4M1121.0,223.7V481.8M1123.5,228.0V486.6M1126.1,244.5V477.6M1128.7,242.1V474.1M1131.3,226.8V457.7M1133.9,211.4V456.0M1136.5,208.5V447.5M1139.0,211.4V456.8M1141.6,222.7V480.2M1144.2,249.1V497.3M1146.8,280.6V512.6M1149.4,293.6V509.5M1152.0,290.6V511.1M1154.6,266.7V502.9M1157.1,247.8V480.2M1159.7,237.7V466.8M1162.3,235.5V464.0M1164.9,233.0V468.9M1167.5,234.0V474.9M1170.1,220.1V467.8M1172.7,219.5V467.3M1175.2,235.8V469.0M1177.8,233.1V473.0M1180.4,243.9V479.4M1183.0,240.7V487.5M1185.6,240.1V488.1M1188.2,252.9V490.6M1190.8,250.1V491.6M1193.3,242.3V482.4M1195.9,240.0V486.1M1198.5,251.5V496.4M1201.1,263.0V501.3M1203.7,274.6V502.0M1206.3,265.8V499.7M1208.8,261.7V499.7M1211.4,255.0V492.5M1214.0,240.2V481.6M1216.6,231.1V475.1M1219.2,231.9V480.2M1221.8,235.1V481.0M1224.4,242.6V477.3M1226.9,251.4V474.7M1229.5,269.8V484.6M1232.1,267.6V499.0M1234.7,268.4V502.2M1237.3,269.4V501.7M1239.9,264.5V501.7M1242.5,253.6V495.4M1245.0,248.1V495.2M1247.6,252.3V495.4M1250.2,262.9V500.1M1252.8,261.5V509.1M1255.4,268.1V514.9M1258.0,279.2V510.9M1260.6,278.1V502.4M1263.1,267.3V492.7M1265.7,255.6V484.2M1268.3,234.2V473.7M1270.9,225.9V457.9M1273.5,215.5V444.3M1276.1,207.9V443.0M1278.6,208.1V442.7M1281.2,201.9V443.5M1283.8,204.9V467.8M1286.4,219.6V486.6M1289.0,226.9V506.0M1291.6,249.0V523.8M1294.2,278.1V524.3M1296.7,260.7V522.2M1299.3,259.7V511.3M1301.9,251.3V495.4M1304.5,230.6V481.3M1307.1,212.8V467.0M1309.7,202.0V463.1M1312.3,197.7V463.6M1314.8,190.5V464.6M1317.4,185.8V459.6M1320.0,171.5V447.0M1322.6,171.5V434.4M1325.2,179.8V443.4M1327.8,189.5V461.6M1330.4,202.4V470.2M1332.9,214.7V475.9M1335.5,212.9V481.4M1338.1,225.2V488.8M1340.7,226.8V490.8M1343.3,229.4V482.3M1345.9,224.5V472.9M1348.5,215.8V470.0M1351.0,216.3V468.0M1353.6,214.6V468.4M1356.2,220.0V476.9M1358.8,218.4V483.2M1361.4,214.5V474.1M1364.0,206.1V474.1M1366.5,193.9V469.3M1369.1,192.9V450.6M1371.7,187.2V443.4M1374.3,183.8V443.6M1376.9,197.7V448.7M1379.5,211.9V465.8M1382.1,226.8V479.4M1384.6,253.5V487.9M1387.2,270.1V498.2M1389.8,289.0V506.1M1392.4,287.6V507.3M1395.0,262.5V500.7M1397.6,246.6V483.5M1400.2,217.6V470.1M1402.7,205.7V454.5M1405.3,202.7V450.4M1407.9,204.7V462.9M1410.5,217.8V472.2M1413.1,208.5V469.2M1415.7,191.9V458.2M1418.3,183.6V445.5M1420.8,178.7V441.8M1423.4,185.1V447.7M1426.0,188.5V458.6M1428.6,199.6V463.2M1431.2,216.9V469.0M1433.8,220.6V480.6M1436.3,235.9V486.7M1438.9,245.9V501.7M1441.5,248.7V506.1M1444.1,231.1V494.2M1446.7,229.7V463.7M1449.3,221.0V454.0M1451.9,224.6V461.9M1454.4,221.1V463.9M1457.0,210.9V467.5M1459.6,217.0V474.8M1462.2,233.1V484.6M1464.8,244.4V493.8M1467.4,251.3V494.3M1470.0,253.9V501.5M1472.5,267.4V495.5M1475.1,276.6V497.9M1477.7,282.5V499.6M1480.3,268.8V501.5M1482.9,265.7V500.1M1485.5,263.8V491.9M1488.1,262.1V494.0M1490.6,258.1V497.7M1493.2,248.7V492.9M1495.8,251.7V498.2M1498.4,252.7V501.8M1501.0,258.1V501.0M1503.6,256.3V490.6M1506.1,264.7V493.9M1508.7,258.1V488.8M1511.3,266.0V494.8M1513.9,275.3V506.3M1516.5,266.4V509.7M1519.1,258.3V501.9M1521.7,250.3V485.7M1524.2,234.9V469.0M1526.8,199.4V460.3M1529.4,197.2V447.7M1532.0,193.1V453.4M1534.6,196.6V476.3M1537.2,220.9V490.0M1539.8,208.9V491.9M1542.3,204.4V483.6M1544.9,199.9V472.8M1547.5,209.5V487.3M1550.1,242.9V508.0M1552.7,264.0V524.8M1555.3,271.1V527.0M1557.9,271.4V515.9M1560.4,271.2V506.0M1563.0,239.8V497.4M1565.6,225.2V484.5M1568.2,208.0V468.4M1570.8,207.9V463.6M1573.4,213.1V463.3M1575.9,212.5V457.5M1578.5,215.7V461.6M1581.1,228.9V487.8M1583.7,255.0V497.7M1586.3,276.4V500.3M1588.9,265.4V499.0M1591.5,252.8V502.9M1594.0,241.5V498.7M1596.6,230.0V488.4M1599.2,222.6V480.1M1601.8,227.4V472.8M1604.4,235.0V481.0M1607.0,252.3V492.5M1609.6,256.2V496.1M1612.1,268.3V511.4M1614.7,270.9V525.5M1617.3,254.4V514.8M1619.9,252.5V492.7M1622.5,244.3V480.1M1625.1,228.9V474.7M1627.7,219.9V462.8M1630.2,209.7V460.4M1632.8,209.7V465.5M1635.4,222.9V467.3M1638.0,195.9V458.9M1640.6,191.4V461.6M1643.2,193.2V471.1M1645.8,207.1V481.7M1648.3,231.4V488.1M1650.9,235.2V483.3M1653.5,235.3V485.1M1656.1,238.6V485.5M1658.7,221.9V483.4M1661.3,208.0V464.6M1663.8,202.2V456.8M1666.4,207.1V461.8M1669.0,218.5V470.1M1671.6,224.3V475.3M1674.2,237.4V475.1M1676.8,247.0V475.8M1679.4,241.1V470.7M1681.9,233.6V472.1M1684.5,201.9V465.2M1687.1,187.2V445.9M1689.7,180.4V446.9M1692.3,194.1V461.8M1694.9,216.5V471.1M1697.5,228.9V482.4M1700.0,244.9V484.9M1702.6,248.1V484.8M1705.2,258.2V487.1M1707.8,251.9V492.5M1710.4,244.7V490.5M1713.0,223.4V482.1M1715.6,206.1V476.5M1718.1,192.8V465.6M1720.7,182.0V453.7M1723.3,173.9V431.0M1725.9,181.1V432.6M1728.5,184.7V444.8M1731.1,194.2V467.1M1733.6,216.2V485.3M1736.2,241.9V504.0M1738.8,253.7V512.2" stroke="#505050" stroke-width="1.25" fill="none"/>
<path d="M1025.5,337.0 L1026.4,338.2 L1027.3,339.6 L1028.2,341.4 L1029.1,343.2 L1030.0,345.0 L1030.9,346.8 L1031.8,348.6 L1032.7,349.6 L1033.6,350.3 L1034.5,351.0 L1035.4,351.7 L1036.3,352.4 L1037.2,353.8 L1038.1,357.4 L1039.0,361.0 L1039.9,364.6 L1040.8,368.2 L1041.7,371.8 L1042.6,374.4 L1043.5,376.6 L1044.4,378.8 L1045.3,380.9 L1046.2,383.1 L1047.1,385.2 L1048.0,387.0 L1048.9,388.8 L1049.8,390.6 L1050.7,392.4 L1051.6,394.2 L1052.5,394.7 L1053.4,394.3 L1054.3,393.8 L1055.2,393.4 L1056.1,392.7 L1057.0,390.2 L1057.9,387.7 L1058.8,385.2 L1059.7,382.6 L1060.6,380.1 L1061.5,377.4 L1062.4,374.5 L1063.3,371.6 L1064.2,368.8 L1065.1,365.9 L1066.0,363.0 L1066.9,362.3 L1067.8,361.6 L1068.7,360.8 L1069.6,360.1 L1070.5,359.4 L1071.4,359.2 L1072.3,359.5 L1073.2,359.9 L1074.1,360.2 L1075.0,360.6 L1075.9,361.0 L1076.8,361.6 L1077.7,362.4 L1078.6,363.1 L1079.5,363.8 L1080.4,364.5 L1081.3,364.8 L1082.2,364.0 L1083.1,363.3 L1084.0,362.6 L1084.9,361.9 L1085.8,361.2 L1086.7,356.1 L1087.6,349.8 L1088.5,343.5 L1089.4,337.2 L1090.3,330.7 L1091.2,324.0 L1092.1,317.2 L1093.0,310.5 L1093.9,303.7 L1094.8,302.4 L1095.7,301.6 L1096.6,300.9 L1097.5,300.2 L1098.4,299.5 L1099.3,298.9 L1100.2,298.5 L1101.1,298.2 L1102.0,297.8 L1102.9,297.4 L1103.8,297.1 L1104.7,299.1 L1105.6,301.8 L1106.5,304.5 L1107.4,307.2 L1108.3,310.4 L1109.2,314.8 L1110.1,319.1 L1111.0,323.4 L1111.9,327.7 L1112.8,332.0 L1113.7,335.8 L1114.6,339.4 L1115.5,343.0 L1116.4,346.6 L1117.3,350.2 L1118.2,353.0 L1119.1,353.0 L1120.0,353.0 L1120.9,353.0 L1121.8,353.0 L1122.7,353.0 L1123.6,350.8 L1124.5,347.6 L1125.4,344.4 L1126.3,341.1 L1127.2,337.9 L1128.1,334.7 L1129.0,331.8 L1129.9,328.9 L1130.8,326.0 L1131.7,323.2 L1132.6,320.3 L1133.5,318.3 L1134.4,317.1 L1135.3,315.9 L1136.2,316.2 L1137.1,321.6 L1138.0,327.0 L1138.9,332.4 L1139.8,337.8 L1140.7,345.7 L1141.6,354.2 L1142.5,362.8 L1143.4,371.3 L1144.3,378.2 L1145.2,381.8 L1146.1,385.4 L1147.0,389.0 L1147.9,392.6 L1148.8,396.2 L1149.7,394.7 L1150.6,391.7 L1151.5,388.7 L1152.4,384.6 L1153.3,379.2 L1154.2,373.8 L1155.1,368.4 L1156.0,363.0 L1156.9,357.6 L1157.8,354.4 L1158.7,351.6 L1159.6,348.7 L1160.5,345.8 L1161.4,342.9 L1162.3,340.9 L1163.2,340.5 L1164.1,340.2 L1165.0,339.8 L1165.9,339.4 L1166.8,339.1 L1167.7,338.4 L1168.6,337.7 L1169.5,337.0 L1170.4,336.3 L1171.3,335.6 L1172.2,335.3 L1173.1,336.8 L1174.0,338.2 L1174.9,339.6 L1175.8,341.1 L1176.7,342.5 L1177.6,343.5 L1178.5,344.2 L1179.4,344.9 L1180.3,345.6 L1181.2,346.4 L1182.1,347.0 L1183.0,347.0 L1183.9,347.0 L1184.8,347.0 L1185.7,347.0 L1186.6,347.0 L1187.5,347.0 L1188.4,347.0 L1189.3,347.0 L1190.2,347.0 L1191.1,347.0 L1192.0,347.0 L1192.9,349.9 L1193.8,352.8 L1194.7,355.6 L1195.6,358.5 L1196.5,361.4 L1197.4,364.2 L1198.3,366.9 L1199.2,369.6 L1200.1,372.3 L1201.0,375.0 L1201.9,373.6 L1202.8,372.1 L1203.7,370.7 L1204.6,369.2 L1205.5,367.8 L1206.4,365.9 L1207.3,363.4 L1208.2,360.8 L1209.1,358.3 L1210.0,355.8 L1210.9,353.3 L1211.8,351.4 L1212.7,349.6 L1213.6,347.8 L1214.5,346.0 L1215.4,344.2 L1216.3,343.6 L1217.2,345.4 L1218.1,347.2 L1219.0,349.0 L1219.9,350.8 L1220.8,352.6 L1221.7,352.4 L1222.6,351.7 L1223.5,351.0 L1224.4,350.3 L1225.3,349.6 L1226.2,349.6 L1227.1,352.1 L1228.0,354.6 L1228.9,357.1 L1229.8,359.6 L1230.7,362.2 L1231.6,364.2 L1232.5,366.0 L1233.4,367.8 L1234.3,369.6 L1235.2,371.4 L1236.1,372.8 L1237.0,370.6 L1237.9,368.4 L1238.8,366.3 L1239.7,364.1 L1240.6,362.0 L1241.5,360.4 L1242.4,359.3 L1243.3,358.2 L1244.2,357.2 L1245.1,356.1 L1246.0,355.0 L1246.9,356.4 L1247.8,357.9 L1248.7,359.3 L1249.6,360.8 L1250.5,362.2 L1251.4,364.1 L1252.3,366.6 L1253.2,369.2 L1254.1,371.7 L1255.0,374.2 L1255.9,376.7 L1256.8,379.0 L1257.7,381.3 L1258.6,383.5 L1259.5,385.8 L1260.4,384.6 L1261.3,379.2 L1262.2,373.8 L1263.1,368.4 L1264.0,363.0 L1264.9,357.6 L1265.8,352.2 L1266.7,346.8 L1267.6,341.4 L1268.5,336.0 L1269.4,331.4 L1270.3,327.8 L1271.2,324.2 L1272.1,320.6 L1273.0,317.0 L1273.9,313.4 L1274.8,313.4 L1275.7,313.9 L1276.6,314.3 L1277.5,314.8 L1278.4,315.8 L1279.3,317.6 L1280.2,319.4 L1281.1,321.2 L1282.0,323.0 L1282.9,324.8 L1283.8,328.8 L1284.7,333.2 L1285.6,337.5 L1286.5,341.8 L1287.4,346.1 L1288.3,350.5 L1289.2,355.0 L1290.1,359.5 L1291.0,364.0 L1291.9,368.5 L1292.8,372.7 L1293.7,376.9 L1294.6,381.1 L1295.5,380.8 L1296.4,376.8 L1297.3,372.9 L1298.2,368.9 L1299.1,365.0 L1300.0,361.0 L1300.9,356.7 L1301.8,352.4 L1302.7,348.0 L1303.6,343.7 L1304.5,339.4 L1305.4,335.2 L1306.3,331.3 L1307.2,327.3 L1308.1,323.4 L1309.0,319.4 L1309.9,315.4 L1310.8,315.3 L1311.7,315.7 L1312.6,316.0 L1313.5,316.4 L1314.4,316.8 L1315.3,316.9 L1316.2,316.5 L1317.1,316.2 L1318.0,315.8 L1318.9,315.4 L1319.8,315.1 L1320.7,312.2 L1321.6,308.6 L1322.5,305.0 L1323.4,301.4 L1324.3,297.8 L1325.2,296.1 L1326.1,301.2 L1327.0,306.2 L1327.9,311.2 L1328.8,316.3 L1329.7,321.3 L1330.6,324.4 L1331.5,326.6 L1332.4,328.8 L1333.3,330.9 L1334.2,333.1 L1335.1,335.4 L1336.0,339.0 L1336.9,342.6 L1337.8,346.2 L1338.7,349.8 L1339.6,353.4 L1340.5,353.4 L1341.4,350.5 L1342.3,347.6 L1343.2,344.8 L1344.1,341.9 L1345.0,339.0 L1345.9,337.2 L1346.8,335.4 L1347.7,333.6 L1348.6,331.8 L1349.5,330.0 L1350.4,328.2 L1351.3,327.6 L1352.2,329.4 L1353.1,331.2 L1354.0,333.0 L1354.9,334.8 L1355.8,336.6 L1356.7,337.8 L1357.6,338.9 L1358.5,340.0 L1359.4,341.1 L1360.3,342.2 L1361.2,342.0 L1362.1,337.5 L1363.0,333.0 L1363.9,328.5 L1364.8,324.0 L1365.7,319.8 L1366.6,315.8 L1367.5,311.7 L1368.4,307.7 L1369.3,304.6 L1370.2,303.4 L1371.1,302.2 L1372.0,301.0 L1372.9,302.8 L1373.8,304.6 L1374.7,306.4 L1375.6,310.6 L1376.5,316.0 L1377.4,321.4 L1378.3,327.1 L1379.2,333.4 L1380.1,339.7 L1381.0,346.0 L1381.9,352.3 L1382.8,357.8 L1383.7,363.2 L1384.6,368.6 L1385.5,374.0 L1386.4,378.1 L1387.3,380.5 L1388.2,382.9 L1389.1,384.9 L1390.0,383.7 L1390.9,382.5 L1391.8,381.3 L1392.7,376.1 L1393.6,369.8 L1394.5,363.5 L1395.4,357.2 L1396.3,351.2 L1397.2,345.8 L1398.1,340.4 L1399.0,335.0 L1399.9,329.6 L1400.8,326.8 L1401.7,324.3 L1402.6,321.8 L1403.5,319.4 L1404.4,318.9 L1405.3,320.9 L1406.2,323.0 L1407.1,325.0 L1408.0,327.0 L1408.9,326.1 L1409.8,325.2 L1410.7,324.3 L1411.6,323.4 L1412.5,322.5 L1413.4,321.6 L1414.3,320.7 L1415.2,319.8 L1416.1,318.9 L1417.0,318.0 L1417.9,317.1 L1418.8,316.7 L1419.7,316.4 L1420.6,316.1 L1421.5,315.8 L1422.4,315.5 L1423.3,315.2 L1424.2,315.4 L1425.1,317.2 L1426.0,319.0 L1426.9,320.8 L1427.8,322.6 L1428.7,324.4 L1429.6,326.7 L1430.5,329.2 L1431.4,331.7 L1432.3,334.2 L1433.2,336.8 L1434.1,339.5 L1435.0,343.5 L1435.9,347.6 L1436.8,351.6 L1437.7,355.7 L1438.6,358.5 L1439.5,360.8 L1440.4,363.0 L1441.3,365.3 L1442.2,365.8 L1443.1,360.4 L1444.0,355.0 L1444.9,349.6 L1445.8,344.2 L1446.7,340.5 L1447.6,337.4 L1448.5,334.2 L1449.4,331.1 L1450.3,328.8 L1451.2,328.4 L1452.1,327.9 L1453.0,327.5 L1453.9,327.0 L1454.8,329.4 L1455.7,332.1 L1456.6,334.8 L1457.5,337.5 L1458.4,340.8 L1459.3,344.9 L1460.2,348.9 L1461.1,353.0 L1462.0,357.0 L1462.9,358.8 L1463.8,360.6 L1464.7,362.4 L1465.6,364.2 L1466.5,364.8 L1467.4,364.5 L1468.3,364.2 L1469.2,363.9 L1470.1,363.6 L1471.0,363.3 L1471.9,363.0 L1472.8,364.9 L1473.7,367.0 L1474.6,369.1 L1475.5,371.2 L1476.4,373.3 L1477.3,375.4 L1478.2,377.1 L1479.1,377.4 L1480.0,377.7 L1480.9,378.0 L1481.8,378.3 L1482.7,378.6 L1483.6,378.9 L1484.5,378.4 L1485.4,377.3 L1486.3,376.2 L1487.2,375.2 L1488.1,374.1 L1489.0,373.0 L1489.9,368.0 L1490.8,362.9 L1491.7,357.9 L1492.6,352.8 L1493.5,347.8 L1494.4,345.7 L1495.3,347.2 L1496.2,348.7 L1497.1,350.2 L1498.0,351.7 L1498.9,353.2 L1499.8,354.7 L1500.7,355.2 L1501.6,355.5 L1502.5,355.8 L1503.4,356.1 L1504.3,356.4 L1505.2,356.7 L1506.1,357.0 L1507.0,357.3 L1507.9,357.6 L1508.8,357.9 L1509.7,358.2 L1510.6,358.5 L1511.5,358.8 L1512.4,359.8 L1513.3,361.6 L1514.2,363.4 L1515.1,365.2 L1516.0,367.0 L1516.9,366.1 L1517.8,365.2 L1518.7,364.3 L1519.6,363.4 L1520.5,361.2 L1521.4,358.1 L1522.3,354.9 L1523.2,351.8 L1524.1,348.2 L1525.0,341.5 L1525.9,334.7 L1526.8,328.0 L1527.7,321.2 L1528.6,315.6 L1529.5,310.5 L1530.4,305.4 L1531.3,303.6 L1532.2,308.3 L1533.1,313.0 L1534.0,317.8 L1534.9,322.5 L1535.8,324.6 L1536.7,326.4 L1537.6,328.2 L1538.5,330.0 L1539.4,331.8 L1540.3,332.6 L1541.2,331.6 L1542.1,330.5 L1543.0,329.4 L1543.9,328.3 L1544.8,327.2 L1545.7,331.6 L1546.6,337.4 L1547.5,343.3 L1548.4,349.1 L1549.3,354.5 L1550.2,359.0 L1551.1,363.5 L1552.0,368.0 L1552.9,372.5 L1553.8,373.0 L1554.7,373.0 L1555.6,373.0 L1556.5,373.0 L1557.4,373.0 L1558.3,372.9 L1559.2,372.5 L1560.1,372.2 L1561.0,371.8 L1561.9,371.4 L1562.8,371.1 L1563.7,362.9 L1564.6,352.6 L1565.5,342.2 L1566.4,331.9 L1567.3,324.5 L1568.2,323.1 L1569.1,321.6 L1570.0,320.2 L1570.9,318.8 L1571.8,317.3 L1572.7,316.1 L1573.6,315.0 L1574.5,313.9 L1575.4,312.7 L1576.3,312.8 L1577.2,315.3 L1578.1,317.8 L1579.0,320.3 L1579.9,322.7 L1580.8,331.8 L1581.7,341.7 L1582.6,351.6 L1583.5,361.5 L1584.4,367.2 L1585.3,367.5 L1586.2,367.9 L1587.1,368.2 L1588.0,368.6 L1588.9,369.0 L1589.8,366.4 L1590.7,363.6 L1591.6,360.7 L1592.5,357.8 L1593.4,354.9 L1594.3,352.2 L1595.2,349.9 L1596.1,347.5 L1597.0,345.2 L1597.9,342.9 L1598.8,340.5 L1599.7,341.3 L1600.6,342.9 L1601.5,344.5 L1602.4,346.1 L1603.3,347.7 L1604.2,349.3 L1605.1,350.8 L1606.0,352.2 L1606.9,353.6 L1607.8,355.1 L1608.7,356.5 L1609.6,359.8 L1610.5,364.0 L1611.4,368.2 L1612.3,372.4 L1613.2,376.6 L1614.1,380.8 L1615.0,385.0 L1615.9,380.0 L1616.8,374.9 L1617.7,369.9 L1618.6,364.8 L1619.5,359.8 L1620.4,355.0 L1621.3,350.5 L1622.2,346.0 L1623.1,341.5 L1624.0,337.0 L1624.9,335.2 L1625.8,333.4 L1626.7,331.6 L1627.6,329.8 L1628.5,328.0 L1629.4,326.7 L1630.3,326.0 L1631.2,325.2 L1632.1,324.5 L1633.0,323.8 L1633.9,323.1 L1634.8,322.7 L1635.7,322.3 L1636.6,322.0 L1637.5,321.6 L1638.4,321.2 L1639.3,322.0 L1640.2,324.8 L1641.1,327.7 L1642.0,330.6 L1642.9,333.5 L1643.8,336.4 L1644.7,338.4 L1645.6,340.2 L1646.5,342.0 L1647.4,343.8 L1648.3,345.6 L1649.2,346.8 L1650.1,346.1 L1651.0,345.4 L1651.9,344.7 L1652.8,344.0 L1653.7,343.2 L1654.6,341.3 L1655.5,338.8 L1656.4,336.3 L1657.3,333.8 L1658.2,331.2 L1659.1,328.8 L1660.0,327.2 L1660.9,325.6 L1661.8,324.0 L1662.7,322.3 L1663.6,320.7 L1664.5,321.7 L1665.4,324.8 L1666.3,327.8 L1667.2,330.9 L1668.1,333.9 L1669.0,337.0 L1669.9,338.1 L1670.8,339.2 L1671.7,340.2 L1672.6,341.3 L1673.5,342.4 L1674.4,343.2 L1675.3,343.5 L1676.2,343.9 L1677.1,344.2 L1678.0,344.6 L1678.9,345.0 L1679.8,345.4 L1680.7,345.9 L1681.6,346.3 L1682.5,346.8 L1683.4,343.5 L1684.3,335.7 L1685.2,327.9 L1686.1,320.5 L1687.0,316.3 L1687.9,312.1 L1688.8,307.9 L1689.7,310.9 L1690.6,315.8 L1691.5,320.8 L1692.4,325.7 L1693.3,329.6 L1694.2,331.4 L1695.1,333.2 L1696.0,335.0 L1696.9,336.8 L1697.8,338.6 L1698.7,340.7 L1699.6,342.8 L1700.5,345.0 L1701.4,347.2 L1702.3,349.3 L1703.2,351.2 L1704.1,351.9 L1705.0,352.6 L1705.9,353.3 L1706.8,354.0 L1707.7,354.8 L1708.6,352.9 L1709.5,349.7 L1710.4,346.6 L1711.3,343.4 L1712.2,340.2 L1713.1,336.6 L1714.0,333.0 L1714.9,329.4 L1715.8,325.8 L1716.7,321.1 L1717.6,316.2 L1718.5,311.2 L1719.4,306.3 L1720.3,301.8 L1721.2,298.3 L1722.1,294.8 L1723.0,291.3 L1723.9,289.7 L1724.8,291.8 L1725.7,293.9 L1726.6,296.1 L1727.5,301.0 L1728.4,308.2 L1729.3,315.4 L1730.2,322.6 L1731.1,329.7 L1732.0,336.0 L1732.9,342.3 L1733.8,348.6 L1734.7,354.9 L1735.6,360.0 L1736.5,364.5 L1737.4,369.0 L1738.3,373.5 L1739.2,378.2 L1740.1,383.6 L1741.0,389.0 L1741.0,391.0 L1740.1,389.2 L1739.2,387.4 L1738.3,383.5 L1737.4,379.0 L1736.5,374.5 L1735.6,370.0 L1734.7,365.1 L1733.8,359.2 L1732.9,353.4 L1732.0,347.5 L1731.1,341.7 L1730.2,335.0 L1729.3,328.3 L1728.4,321.5 L1727.5,314.8 L1726.6,310.3 L1725.7,308.7 L1724.8,307.1 L1723.9,305.5 L1723.0,307.3 L1722.1,310.8 L1721.2,314.3 L1720.3,317.8 L1719.4,322.6 L1718.5,328.0 L1717.6,333.4 L1716.7,338.8 L1715.8,343.8 L1714.9,347.4 L1714.0,351.0 L1713.1,354.6 L1712.2,358.2 L1711.3,361.1 L1710.4,363.8 L1709.5,366.5 L1708.6,369.2 L1707.7,370.6 L1706.8,369.6 L1705.9,368.5 L1705.0,367.4 L1704.1,366.3 L1703.2,365.2 L1702.3,363.6 L1701.4,361.8 L1700.5,360.0 L1699.6,358.2 L1698.7,356.4 L1697.8,354.5 L1696.9,352.4 L1696.0,350.2 L1695.1,348.0 L1694.2,345.9 L1693.3,343.7 L1692.4,340.6 L1691.5,337.0 L1690.6,333.4 L1689.7,329.8 L1688.8,327.9 L1687.9,332.1 L1687.0,336.3 L1686.1,340.5 L1685.2,347.9 L1684.3,355.7 L1683.4,363.5 L1682.5,367.2 L1681.6,367.7 L1680.7,368.1 L1679.8,368.6 L1678.9,369.0 L1678.0,368.6 L1677.1,368.2 L1676.2,367.9 L1675.3,367.5 L1674.4,367.2 L1673.5,366.2 L1672.6,364.8 L1671.7,363.3 L1670.8,361.9 L1669.9,360.4 L1669.0,359.0 L1668.1,356.8 L1667.2,354.7 L1666.3,352.5 L1665.4,350.4 L1664.5,348.2 L1663.6,347.3 L1662.7,348.0 L1661.8,348.8 L1660.9,349.5 L1660.0,350.2 L1659.1,350.9 L1658.2,353.6 L1657.3,356.4 L1656.4,359.3 L1655.5,362.2 L1654.6,365.1 L1653.7,367.0 L1652.8,367.0 L1651.9,367.0 L1651.0,367.0 L1650.1,367.0 L1649.2,367.0 L1648.3,365.6 L1647.4,363.8 L1646.5,362.0 L1645.6,360.2 L1644.7,358.4 L1643.8,356.4 L1642.9,353.9 L1642.0,351.4 L1641.1,348.9 L1640.2,346.4 L1639.3,343.8 L1638.4,343.2 L1637.5,343.6 L1636.6,344.0 L1635.7,344.3 L1634.8,344.7 L1633.9,345.1 L1633.0,346.2 L1632.1,347.3 L1631.2,348.4 L1630.3,349.4 L1629.4,350.5 L1628.5,352.2 L1627.6,354.4 L1626.7,356.5 L1625.8,358.7 L1624.9,360.8 L1624.0,363.0 L1623.1,367.0 L1622.2,371.1 L1621.3,375.1 L1620.4,379.2 L1619.5,383.4 L1618.6,387.7 L1617.7,392.0 L1616.8,396.4 L1615.9,400.7 L1615.0,405.0 L1614.1,401.1 L1613.2,397.2 L1612.3,393.3 L1611.4,389.4 L1610.5,385.5 L1609.6,381.6 L1608.7,378.3 L1607.8,376.1 L1606.9,374.0 L1606.0,371.8 L1605.1,369.6 L1604.2,367.5 L1603.3,366.4 L1602.4,365.7 L1601.5,365.0 L1600.6,364.3 L1599.7,363.6 L1598.8,363.6 L1597.9,366.5 L1597.0,369.4 L1596.1,372.3 L1595.2,375.2 L1594.3,378.0 L1593.4,380.9 L1592.5,383.8 L1591.6,386.7 L1590.7,389.6 L1589.8,392.4 L1588.9,395.2 L1588.0,396.6 L1587.1,398.0 L1586.2,399.5 L1585.3,400.9 L1584.4,402.4 L1583.5,396.5 L1582.6,384.8 L1581.7,373.1 L1580.8,361.4 L1579.9,350.9 L1579.0,350.0 L1578.1,349.1 L1577.2,348.2 L1576.3,347.3 L1575.4,346.4 L1574.5,345.5 L1573.6,344.6 L1572.7,343.7 L1571.8,343.3 L1570.9,344.8 L1570.0,346.2 L1569.1,347.6 L1568.2,349.1 L1567.3,350.5 L1566.4,357.6 L1565.5,367.5 L1564.6,377.4 L1563.7,387.3 L1562.8,395.2 L1561.9,396.3 L1561.0,397.4 L1560.1,398.5 L1559.2,399.6 L1558.3,400.6 L1557.4,401.8 L1556.5,403.1 L1555.6,404.4 L1554.7,405.6 L1553.8,406.9 L1552.9,407.3 L1552.0,400.8 L1551.1,394.2 L1550.2,387.7 L1549.3,381.2 L1548.4,375.7 L1547.5,370.8 L1546.6,365.8 L1545.7,360.9 L1544.8,357.3 L1543.9,358.8 L1543.0,360.2 L1542.1,361.6 L1541.2,363.1 L1540.3,364.5 L1539.4,362.8 L1538.5,359.6 L1537.6,356.4 L1536.7,353.1 L1535.8,349.9 L1534.9,346.4 L1534.0,340.5 L1533.1,334.7 L1532.2,328.8 L1531.3,323.0 L1530.4,324.2 L1529.5,329.0 L1528.6,333.8 L1527.7,339.2 L1526.8,346.0 L1525.9,352.7 L1525.0,359.5 L1524.1,366.2 L1523.2,369.4 L1522.3,372.1 L1521.4,374.8 L1520.5,377.5 L1519.6,381.8 L1518.7,388.1 L1517.8,394.4 L1516.9,400.7 L1516.0,407.0 L1515.1,404.3 L1514.2,401.6 L1513.3,398.9 L1512.4,396.2 L1511.5,394.3 L1510.6,393.1 L1509.7,391.9 L1508.8,390.7 L1507.9,389.5 L1507.0,388.3 L1506.1,387.1 L1505.2,386.5 L1504.3,385.9 L1503.4,385.3 L1502.5,384.7 L1501.6,384.1 L1500.7,383.5 L1499.8,382.6 L1498.9,380.8 L1498.0,379.0 L1497.1,377.2 L1496.2,375.4 L1495.3,373.6 L1494.4,371.8 L1493.5,373.0 L1492.6,376.6 L1491.7,380.2 L1490.8,383.8 L1489.9,387.4 L1489.0,391.0 L1488.1,391.7 L1487.2,392.4 L1486.3,393.2 L1485.4,393.9 L1484.5,394.6 L1483.6,395.0 L1482.7,395.0 L1481.8,395.0 L1480.9,395.0 L1480.0,395.0 L1479.1,395.0 L1478.2,395.0 L1477.3,394.1 L1476.4,392.9 L1475.5,391.7 L1474.6,390.5 L1473.7,389.3 L1472.8,388.1 L1471.9,387.1 L1471.0,387.7 L1470.1,388.3 L1469.2,388.9 L1468.3,389.5 L1467.4,390.1 L1466.5,390.7 L1465.6,389.4 L1464.7,385.8 L1463.8,382.2 L1462.9,378.6 L1462.0,375.0 L1461.1,371.4 L1460.2,367.8 L1459.3,364.2 L1458.4,360.6 L1457.5,357.5 L1456.6,354.8 L1455.7,352.1 L1454.8,349.4 L1453.9,347.0 L1453.0,347.5 L1452.1,347.9 L1451.2,348.4 L1450.3,348.8 L1449.4,350.8 L1448.5,353.5 L1447.6,356.2 L1446.7,358.9 L1445.8,362.2 L1444.9,367.6 L1444.0,373.0 L1443.1,378.4 L1442.2,383.8 L1441.3,383.3 L1440.4,381.0 L1439.5,378.8 L1438.6,376.5 L1437.7,373.7 L1436.8,369.6 L1435.9,365.6 L1435.0,361.5 L1434.1,357.5 L1433.2,354.4 L1432.3,351.6 L1431.4,348.7 L1430.5,345.8 L1429.6,342.9 L1428.7,340.4 L1427.8,338.6 L1426.9,336.8 L1426.0,335.0 L1425.1,333.2 L1424.2,331.4 L1423.3,331.0 L1422.4,331.0 L1421.5,331.0 L1420.6,331.0 L1419.7,331.0 L1418.8,331.0 L1417.9,331.1 L1417.0,332.3 L1416.1,333.5 L1415.2,334.7 L1414.3,335.9 L1413.4,337.1 L1412.5,338.3 L1411.6,339.2 L1410.7,339.6 L1409.8,340.1 L1408.9,340.5 L1408.0,341.0 L1407.1,339.2 L1406.2,337.4 L1405.3,335.6 L1404.4,333.8 L1403.5,335.2 L1402.6,339.3 L1401.7,343.3 L1400.8,347.4 L1399.9,351.6 L1399.0,357.0 L1398.1,362.4 L1397.2,367.8 L1396.3,373.2 L1395.4,378.6 L1394.5,384.0 L1393.6,389.4 L1392.7,394.8 L1391.8,399.3 L1390.9,400.5 L1390.0,401.7 L1389.1,402.9 L1388.2,400.9 L1387.3,398.5 L1386.4,396.1 L1385.5,392.0 L1384.6,386.6 L1383.7,381.2 L1382.8,375.8 L1381.9,370.3 L1381.0,364.0 L1380.1,357.7 L1379.2,351.4 L1378.3,345.1 L1377.4,339.8 L1376.5,335.0 L1375.6,330.2 L1374.7,326.0 L1373.8,323.0 L1372.9,320.0 L1372.0,317.0 L1371.1,319.4 L1370.2,321.8 L1369.3,324.2 L1368.4,327.1 L1367.5,330.2 L1366.6,333.4 L1365.7,336.5 L1364.8,339.9 L1363.9,343.9 L1363.0,348.0 L1362.1,352.0 L1361.2,356.1 L1360.3,356.2 L1359.4,355.1 L1358.5,354.0 L1357.6,352.9 L1356.7,351.8 L1355.8,350.7 L1354.9,349.2 L1354.0,347.8 L1353.1,346.4 L1352.2,344.9 L1351.3,343.5 L1350.4,344.2 L1349.5,346.0 L1348.6,347.8 L1347.7,349.6 L1346.8,351.4 L1345.9,353.2 L1345.0,355.0 L1344.1,357.9 L1343.2,360.8 L1342.3,363.6 L1341.4,366.5 L1340.5,369.4 L1339.6,369.4 L1338.7,365.8 L1337.8,362.2 L1336.9,358.6 L1336.0,355.0 L1335.1,351.4 L1334.2,349.1 L1333.3,346.9 L1332.4,344.8 L1331.5,342.6 L1330.6,340.4 L1329.7,337.4 L1328.8,332.8 L1327.9,328.1 L1327.0,323.4 L1326.1,318.7 L1325.2,314.0 L1324.3,315.5 L1323.4,318.8 L1322.5,322.0 L1321.6,325.2 L1320.7,328.5 L1319.8,331.1 L1318.9,331.4 L1318.0,331.8 L1317.1,332.2 L1316.2,332.5 L1315.3,332.9 L1314.4,332.5 L1313.5,331.8 L1312.6,331.1 L1311.7,330.4 L1310.8,329.6 L1309.9,329.5 L1309.0,333.8 L1308.1,338.1 L1307.2,342.4 L1306.3,346.8 L1305.4,351.1 L1304.5,355.6 L1303.6,360.3 L1302.7,365.0 L1301.8,369.6 L1300.9,374.3 L1300.0,379.0 L1299.1,382.6 L1298.2,386.2 L1297.3,389.8 L1296.4,393.4 L1295.5,397.0 L1294.6,397.4 L1293.7,393.8 L1292.8,390.2 L1291.9,386.4 L1291.0,381.0 L1290.1,375.6 L1289.2,370.2 L1288.3,364.8 L1287.4,360.1 L1286.5,355.8 L1285.6,351.5 L1284.7,347.2 L1283.8,342.8 L1282.9,338.8 L1282.0,337.0 L1281.1,335.2 L1280.2,333.4 L1279.3,331.6 L1278.4,329.8 L1277.5,328.8 L1276.6,328.3 L1275.7,327.9 L1274.8,327.4 L1273.9,327.5 L1273.0,331.8 L1272.1,336.1 L1271.2,340.4 L1270.3,344.8 L1269.4,349.1 L1268.5,354.6 L1267.6,361.1 L1266.7,367.6 L1265.8,374.0 L1264.9,380.5 L1264.0,387.0 L1263.1,392.4 L1262.2,397.8 L1261.3,403.2 L1260.4,408.6 L1259.5,410.0 L1258.6,408.2 L1257.7,406.4 L1256.8,404.6 L1255.9,402.8 L1255.0,400.6 L1254.1,398.4 L1253.2,396.3 L1252.3,394.1 L1251.4,392.0 L1250.5,389.8 L1249.6,387.6 L1248.7,385.5 L1247.8,383.3 L1246.9,381.2 L1246.0,379.0 L1245.1,380.1 L1244.2,381.2 L1243.3,382.2 L1242.4,383.3 L1241.5,384.4 L1240.6,385.8 L1239.7,387.6 L1238.8,389.4 L1237.9,391.2 L1237.0,393.0 L1236.1,394.8 L1235.2,393.7 L1234.3,392.3 L1233.4,390.8 L1232.5,389.4 L1231.6,388.0 L1230.7,386.0 L1229.8,383.2 L1228.9,380.3 L1228.0,377.4 L1227.1,374.5 L1226.2,371.6 L1225.3,371.0 L1224.4,371.0 L1223.5,371.0 L1222.6,371.0 L1221.7,371.0 L1220.8,370.8 L1219.9,370.1 L1219.0,369.4 L1218.1,368.7 L1217.2,368.0 L1216.3,367.2 L1215.4,368.0 L1214.5,369.4 L1213.6,370.8 L1212.7,372.3 L1211.8,373.7 L1210.9,375.4 L1210.0,379.0 L1209.1,382.6 L1208.2,386.2 L1207.3,389.8 L1206.4,393.4 L1205.5,395.8 L1204.6,397.2 L1203.7,398.7 L1202.8,400.1 L1201.9,401.6 L1201.0,403.0 L1200.1,399.4 L1199.2,395.8 L1198.3,392.2 L1197.4,388.6 L1196.5,385.8 L1195.6,383.6 L1194.7,381.5 L1193.8,379.3 L1192.9,377.2 L1192.0,375.0 L1191.1,375.0 L1190.2,375.0 L1189.3,375.0 L1188.4,375.0 L1187.5,375.0 L1186.6,374.7 L1185.7,374.0 L1184.8,373.2 L1183.9,372.5 L1183.0,371.8 L1182.1,371.1 L1181.2,369.4 L1180.3,367.6 L1179.4,365.8 L1178.5,364.0 L1177.6,362.2 L1176.7,360.5 L1175.8,359.1 L1174.9,357.6 L1174.0,356.2 L1173.1,354.8 L1172.2,353.3 L1171.3,353.6 L1170.4,354.3 L1169.5,355.0 L1168.6,355.7 L1167.7,356.4 L1166.8,357.1 L1165.9,357.4 L1165.0,357.8 L1164.1,358.2 L1163.2,358.5 L1162.3,358.9 L1161.4,360.9 L1160.5,363.8 L1159.6,366.7 L1158.7,369.6 L1157.8,372.4 L1156.9,375.6 L1156.0,381.4 L1155.1,387.2 L1154.2,392.9 L1153.3,398.7 L1152.4,404.4 L1151.5,408.3 L1150.6,410.7 L1149.7,413.1 L1148.8,414.2 L1147.9,410.6 L1147.0,407.0 L1146.1,403.4 L1145.2,399.8 L1144.3,396.2 L1143.4,389.3 L1142.5,380.8 L1141.6,372.2 L1140.7,363.7 L1139.8,355.7 L1138.9,349.9 L1138.0,344.0 L1137.1,338.2 L1136.2,332.3 L1135.3,332.4 L1134.4,334.2 L1133.5,336.0 L1132.6,338.1 L1131.7,340.6 L1130.8,343.2 L1129.9,345.7 L1129.0,348.2 L1128.1,350.7 L1127.2,354.2 L1126.3,357.8 L1125.4,361.4 L1124.5,365.0 L1123.6,368.6 L1122.7,370.9 L1121.8,370.5 L1120.9,370.2 L1120.0,369.8 L1119.1,369.4 L1118.2,369.1 L1117.3,366.5 L1116.4,363.2 L1115.5,360.0 L1114.6,356.8 L1113.7,353.5 L1112.8,349.9 L1111.9,344.8 L1111.0,339.8 L1110.1,334.8 L1109.2,329.7 L1108.3,324.7 L1107.4,321.8 L1106.5,320.0 L1105.6,318.2 L1104.7,316.4 L1103.8,315.0 L1102.9,315.0 L1102.0,315.0 L1101.1,315.0 L1100.2,315.0 L1099.3,315.0 L1098.4,315.5 L1097.5,316.2 L1096.6,316.9 L1095.7,317.6 L1094.8,318.4 L1093.9,319.8 L1093.0,327.0 L1092.1,334.2 L1091.2,341.4 L1090.3,348.6 L1089.4,355.2 L1088.5,361.5 L1087.6,367.8 L1086.7,374.1 L1085.8,379.0 L1084.9,379.0 L1084.0,379.0 L1083.1,379.0 L1082.2,379.0 L1081.3,379.0 L1080.4,378.8 L1079.5,378.4 L1078.6,378.0 L1077.7,377.7 L1076.8,377.3 L1075.9,377.0 L1075.0,377.0 L1074.1,377.0 L1073.2,377.0 L1072.3,377.0 L1071.4,377.0 L1070.5,377.2 L1069.6,377.6 L1068.7,377.9 L1067.8,378.3 L1066.9,378.6 L1066.0,379.0 L1065.1,382.2 L1064.2,385.5 L1063.3,388.7 L1062.4,392.0 L1061.5,395.2 L1060.6,398.1 L1059.7,400.6 L1058.8,403.2 L1057.9,405.7 L1057.0,408.2 L1056.1,410.7 L1055.2,411.4 L1054.3,411.8 L1053.4,412.3 L1052.5,412.7 L1051.6,412.4 L1050.7,410.9 L1049.8,409.5 L1048.9,408.0 L1048.0,406.6 L1047.1,405.2 L1046.2,402.8 L1045.3,400.2 L1044.4,397.7 L1043.5,395.2 L1042.6,392.7 L1041.7,389.8 L1040.8,386.2 L1039.9,382.6 L1039.0,379.0 L1038.1,375.4 L1037.2,371.8 L1036.3,370.4 L1035.4,369.7 L1034.5,369.0 L1033.6,368.3 L1032.7,367.6 L1031.8,366.6 L1030.9,364.8 L1030.0,363.0 L1029.1,361.2 L1028.2,359.4 L1027.3,357.6 L1026.4,356.2 L1025.5,355.0Z" fill="#fa4545"/>
<path d="M1025.5,332.5V356.8M1026.4,339.8V360.0M1027.3,336.8V359.7M1028.2,343.4V358.3M1029.1,347.0V366.2M1030.0,346.5V367.0M1030.9,345.7V366.5M1031.8,347.5V370.3M1032.7,343.9V373.5M1033.6,353.3V365.7M1034.5,348.6V374.6M1035.4,353.7V371.6M1036.3,350.2V370.9M1037.2,348.7V376.4M1038.1,359.1V374.7M1039.0,364.8V381.6M1039.9,368.2V380.0M1040.8,366.3V383.6M1041.7,366.7V395.5M1042.6,376.1V397.9M1043.5,374.8V394.5M1044.4,378.8V402.3M1045.3,382.2V406.1M1046.2,381.8V400.1M1047.1,383.8V409.0M1048.0,391.0V406.0M1048.9,390.2V405.4M1049.8,393.8V410.6M1050.7,394.2V412.8M1051.6,389.9V416.5M1052.5,390.5V418.7M1053.4,393.7V415.3M1054.3,396.7V417.6M1055.2,394.7V416.2M1056.1,389.0V414.7M1057.0,393.6V408.5M1057.9,385.4V410.6M1058.8,379.4V406.4M1059.7,386.3V403.2M1060.6,380.1V395.6M1061.5,371.6V398.9M1062.4,371.7V396.5M1063.3,368.5V388.6M1064.2,363.5V385.3M1065.1,361.9V382.4M1066.0,358.0V377.6M1066.9,359.5V376.8M1067.8,365.1V379.3M1068.7,354.9V381.2M1069.6,363.8V377.8M1070.5,360.4V379.4M1071.4,362.4V374.2M1072.3,358.8V378.0M1073.2,354.4V383.0M1074.1,355.5V376.5M1075.0,362.7V375.9M1075.9,363.5V382.9M1076.8,355.7V381.6M1077.7,356.4V378.7M1078.6,366.2V375.3M1079.5,358.3V378.5M1080.4,364.5V379.0M1081.3,361.9V383.5M1082.2,366.6V376.2M1083.1,363.8V380.5M1084.0,356.7V383.1M1084.9,357.4V383.4M1085.8,356.5V379.1M1086.7,356.2V379.1M1087.6,352.5V373.8M1088.5,346.9V362.5M1089.4,336.9V359.3M1090.3,330.9V346.2M1091.2,319.3V346.7M1092.1,318.6V338.6M1093.0,305.0V329.0M1093.9,298.9V324.5M1094.8,298.3V324.0M1095.7,303.4V318.9M1096.6,300.7V320.9M1097.5,301.4V312.7M1098.4,303.5V321.3M1099.3,295.1V320.6M1100.2,296.3V315.2M1101.1,297.4V318.4M1102.0,301.3V315.6M1102.9,301.4V317.7M1103.8,296.7V320.5M1104.7,297.5V316.7M1105.6,297.3V318.8M1106.5,299.2V322.3M1107.4,306.4V324.0M1108.3,305.3V329.5M1109.2,311.6V330.0M1110.1,316.4V339.5M1111.0,319.8V343.6M1111.9,322.5V345.8M1112.8,329.8V353.6M1113.7,329.8V350.6M1114.6,333.6V362.2M1115.5,339.0V358.6M1116.4,349.8V362.3M1117.3,345.5V364.5M1118.2,347.1V374.5M1119.1,347.6V370.7M1120.0,352.1V370.4M1120.9,356.3V369.3M1121.8,353.8V375.5M1122.7,355.9V367.9M1123.6,352.7V374.2M1124.5,348.1V366.7M1125.4,342.8V365.6M1126.3,342.3V356.2M1127.2,339.0V358.1M1128.1,335.4V356.3M1129.0,331.9V354.1M1129.9,322.9V351.2M1130.8,325.8V339.4M1131.7,320.9V341.0M1132.6,319.3V336.1M1133.5,321.9V334.3M1134.4,313.5V339.9M1135.3,318.6V336.5M1136.2,317.2V330.0M1137.1,316.6V343.0M1138.0,324.3V342.0M1138.9,334.5V345.9M1139.8,333.7V356.3M1140.7,348.0V366.8M1141.6,353.2V376.8M1142.5,364.9V383.3M1143.4,369.2V389.5M1144.3,374.5V394.6M1145.2,379.4V402.5M1146.1,386.0V403.5M1147.0,389.4V404.6M1147.9,394.2V413.5M1148.8,395.8V411.9M1149.7,388.9V413.3M1150.6,390.0V413.7M1151.5,383.3V412.3M1152.4,385.5V401.9M1153.3,383.0V397.7M1154.2,376.3V391.1M1155.1,363.4V387.0M1156.0,365.3V380.5M1156.9,353.5V375.3M1157.8,351.4V375.1M1158.7,352.2V369.5M1159.6,343.4V367.1M1160.5,340.1V368.5M1161.4,344.7V358.0M1162.3,336.6V357.8M1163.2,335.6V360.5M1164.1,336.7V363.8M1165.0,337.2V359.2M1165.9,341.6V362.9M1166.8,335.1V363.1M1167.7,333.7V360.6M1168.6,339.4V352.5M1169.5,332.4V357.1M1170.4,334.6V356.3M1171.3,339.0V350.2M1172.2,329.5V356.2M1173.1,335.1V355.0M1174.0,336.6V354.5M1174.9,334.1V360.0M1175.8,342.9V364.1M1176.7,337.5V361.2M1177.6,338.3V363.7M1178.5,338.9V368.9M1179.4,341.3V364.5M1180.3,344.9V368.4M1181.2,345.8V372.4M1182.1,350.7V372.0M1183.0,346.5V377.5M1183.9,342.6V373.5M1184.8,350.4V372.9M1185.7,341.2V372.4M1186.6,342.3V375.6M1187.5,342.2V380.7M1188.4,348.2V377.1M1189.3,346.2V374.7M1190.2,346.1V377.8M1191.1,343.3V376.6M1192.0,342.6V379.2M1192.9,351.5V380.7M1193.8,353.3V379.3M1194.7,353.3V380.2M1195.6,354.9V389.6M1196.5,363.5V384.9M1197.4,364.9V385.6M1198.3,364.0V394.9M1199.2,368.9V393.4M1200.1,368.2V398.4M1201.0,378.4V407.3M1201.9,367.6V406.6M1202.8,371.8V404.8M1203.7,374.0V404.2M1204.6,371.9V400.6M1205.5,370.8V399.3M1206.4,360.5V393.4M1207.3,359.4V386.6M1208.2,362.6V390.5M1209.1,356.3V384.0M1210.0,357.0V383.2M1210.9,352.1V377.1M1211.8,350.4V375.1M1212.7,347.0V375.4M1213.6,344.8V366.9M1214.5,344.3V374.9M1215.4,341.2V366.9M1216.3,343.7V372.9M1217.2,342.6V370.4M1218.1,349.2V372.9M1219.0,351.9V367.8M1219.9,344.9V372.1M1220.8,351.0V371.3M1221.7,355.0V375.8M1222.6,353.5V377.0M1223.5,352.9V375.2M1224.4,344.4V369.4M1225.3,353.2V371.2M1226.2,350.8V374.6M1227.1,347.7V374.6M1228.0,356.2V381.6M1228.9,353.9V384.5M1229.8,355.4V380.9M1230.7,356.2V392.0M1231.6,359.3V386.7M1232.5,364.8V388.4M1233.4,368.0V388.3M1234.3,368.6V398.2M1235.2,365.9V396.6M1236.1,367.4V398.6M1237.0,366.5V389.2M1237.9,372.0V391.2M1238.8,363.5V392.2M1239.7,358.4V390.0M1240.6,356.8V387.4M1241.5,362.1V387.4M1242.4,359.7V381.7M1243.3,361.1V384.9M1244.2,352.7V378.6M1245.1,354.1V384.2M1246.0,355.1V376.7M1246.9,360.2V384.4M1247.8,353.7V387.7M1248.7,355.4V390.1M1249.6,363.7V388.1M1250.5,356.4V395.3M1251.4,359.2V388.4M1252.3,363.1V392.6M1253.2,364.6V401.1M1254.1,374.9V404.1M1255.0,372.3V402.2M1255.9,373.2V401.8M1256.8,381.1V409.1M1257.7,377.4V408.5M1258.6,381.3V408.7M1259.5,386.9V413.5M1260.4,387.8V411.0M1261.3,373.3V405.9M1262.2,372.2V402.7M1263.1,370.9V393.3M1264.0,361.3V391.0M1264.9,352.3V384.6M1265.8,351.8V374.0M1266.7,346.9V373.4M1267.6,342.6V360.8M1268.5,336.1V356.3M1269.4,333.5V345.6M1270.3,326.8V347.4M1271.2,322.7V338.9M1272.1,320.6V334.9M1273.0,313.2V332.6M1273.9,308.9V328.6M1274.8,307.4V329.0M1275.7,314.5V325.0M1276.6,312.2V325.9M1277.5,310.0V334.7M1278.4,314.4V333.3M1279.3,314.6V332.5M1280.2,320.3V331.2M1281.1,317.5V336.2M1282.0,322.5V336.9M1282.9,323.8V341.1M1283.8,330.4V348.8M1284.7,334.5V352.2M1285.6,332.6V351.5M1286.5,339.4V359.3M1287.4,340.5V365.9M1288.3,346.3V370.3M1289.2,355.2V375.0M1290.1,356.3V378.4M1291.0,364.3V379.3M1291.9,368.0V391.0M1292.8,367.5V391.5M1293.7,373.6V393.2M1294.6,376.5V397.2M1295.5,377.4V401.1M1296.4,371.9V392.5M1297.3,371.0V391.3M1298.2,370.8V392.1M1299.1,363.5V386.2M1300.0,356.6V377.2M1300.9,352.3V377.2M1301.8,349.7V374.9M1302.7,344.2V371.0M1303.6,341.8V360.8M1304.5,343.4V352.1M1305.4,331.6V347.6M1306.3,325.8V351.9M1307.2,325.7V342.4M1308.1,322.4V344.0M1309.0,316.5V335.8M1309.9,312.3V328.5M1310.8,316.1V335.2M1311.7,313.4V330.1M1312.6,317.4V331.2M1313.5,320.1V331.0M1314.4,313.7V330.6M1315.3,316.2V333.8M1316.2,315.6V331.6M1317.1,316.6V334.5M1318.0,317.1V334.6M1318.9,316.2V328.5M1319.8,313.5V336.2M1320.7,315.0V333.1M1321.6,303.9V331.1M1322.5,302.2V325.0M1323.4,303.1V323.7M1324.3,294.6V314.4M1325.2,290.2V316.9M1326.1,296.0V317.6M1327.0,302.3V328.6M1327.9,305.8V332.8M1328.8,316.6V338.2M1329.7,315.5V341.9M1330.6,318.6V339.8M1331.5,327.6V344.2M1332.4,325.2V350.6M1333.3,331.4V351.3M1334.2,331.7V345.2M1335.1,331.0V351.3M1336.0,336.4V356.6M1336.9,339.7V358.3M1337.8,344.5V368.1M1338.7,351.5V370.2M1339.6,350.0V371.6M1340.5,352.5V368.4M1341.4,345.1V369.6M1342.3,347.0V365.9M1343.2,340.4V359.3M1344.1,345.4V358.2M1345.0,337.4V360.1M1345.9,335.0V351.9M1346.8,331.6V354.0M1347.7,331.1V353.4M1348.6,331.1V351.7M1349.5,333.0V344.0M1350.4,324.4V349.9M1351.3,321.7V341.8M1352.2,326.7V350.3M1353.1,325.4V345.1M1354.0,328.3V344.8M1354.9,331.4V349.8M1355.8,333.1V350.9M1356.7,332.6V356.0M1357.6,333.6V358.6M1358.5,338.7V350.1M1359.4,335.1V352.6M1360.3,338.1V361.2M1361.2,336.1V359.5M1362.1,331.9V354.0M1363.0,330.6V353.0M1363.9,331.0V345.0M1364.8,325.0V344.3M1365.7,320.4V336.3M1366.6,317.0V338.3M1367.5,315.1V332.6M1368.4,302.1V324.1M1369.3,300.7V321.5M1370.2,298.7V327.5M1371.1,300.4V320.8M1372.0,301.0V317.4M1372.9,299.5V319.0M1373.8,302.8V328.2M1374.7,305.4V329.4M1375.6,309.1V335.3M1376.5,311.7V339.2M1377.4,321.3V345.7M1378.3,324.3V348.0M1379.2,335.8V356.7M1380.1,337.9V356.1M1381.0,343.1V360.6M1381.9,348.0V372.3M1382.8,353.9V379.9M1383.7,357.5V380.0M1384.6,368.4V384.7M1385.5,371.8V396.9M1386.4,377.9V392.9M1387.3,379.1V402.7M1388.2,381.2V398.7M1389.1,386.6V403.4M1390.0,384.4V407.6M1390.9,377.2V406.4M1391.8,378.8V401.3M1392.7,370.2V393.1M1393.6,368.4V388.7M1394.5,367.1V382.9M1395.4,358.0V379.0M1396.3,349.5V372.1M1397.2,347.1V371.7M1398.1,341.9V367.6M1399.0,333.4V354.0M1399.9,325.0V349.0M1400.8,324.7V346.8M1401.7,319.2V349.1M1402.6,317.5V340.2M1403.5,322.0V336.5M1404.4,317.2V337.0M1405.3,319.0V335.1M1406.2,325.3V340.9M1407.1,325.0V342.7M1408.0,322.7V346.8M1408.9,323.2V341.3M1409.8,323.4V342.6M1410.7,325.4V342.1M1411.6,323.6V340.5M1412.5,325.9V341.9M1413.4,319.1V336.0M1414.3,316.8V334.5M1415.2,316.1V339.9M1416.1,317.5V334.8M1417.0,314.1V336.5M1417.9,321.1V333.0M1418.8,317.1V333.8M1419.7,315.0V335.0M1420.6,311.1V329.1M1421.5,315.9V334.9M1422.4,312.6V332.3M1423.3,309.5V331.7M1424.2,319.3V331.3M1425.1,314.9V338.6M1426.0,317.5V336.1M1426.9,321.1V334.3M1427.8,318.4V344.1M1428.7,328.0V342.0M1429.6,329.2V343.7M1430.5,331.9V346.6M1431.4,332.3V349.1M1432.3,337.6V350.7M1433.2,340.4V357.2M1434.1,334.7V362.2M1435.0,341.1V362.8M1435.9,347.7V367.9M1436.8,355.1V372.5M1437.7,349.7V375.3M1438.6,358.3V380.9M1439.5,361.5V383.5M1440.4,365.8V383.5M1441.3,368.6V384.0M1442.2,366.4V388.5M1443.1,362.9V374.5M1444.0,349.8V374.1M1444.9,344.5V365.1M1445.8,346.5V359.3M1446.7,341.6V362.0M1447.6,336.9V361.9M1448.5,328.8V354.8M1449.4,331.9V354.8M1450.3,322.9V354.7M1451.2,324.8V351.6M1452.1,330.8V347.8M1453.0,330.0V346.6M1453.9,327.3V346.0M1454.8,324.8V348.4M1455.7,331.0V352.5M1456.6,332.8V357.3M1457.5,339.5V356.0M1458.4,336.0V358.4M1459.3,343.3V369.9M1460.2,350.3V365.3M1461.1,350.3V374.1M1462.0,352.8V379.8M1462.9,357.2V381.2M1463.8,360.4V382.4M1464.7,357.6V384.7M1465.6,361.8V392.3M1466.5,359.9V391.4M1467.4,364.6V388.8M1468.3,366.0V392.9M1469.2,362.5V389.6M1470.1,360.6V394.2M1471.0,364.0V385.0M1471.9,360.8V384.1M1472.8,359.1V389.1M1473.7,364.0V389.7M1474.6,365.7V390.0M1475.5,366.4V395.7M1476.4,370.4V395.7M1477.3,372.6V390.8M1478.2,375.3V396.3M1479.1,372.1V396.6M1480.0,378.7V394.7M1480.9,381.4V395.9M1481.8,375.0V392.6M1482.7,382.3V391.4M1483.6,373.5V395.0M1484.5,373.3V398.8M1485.4,378.5V391.5M1486.3,375.3V396.9M1487.2,373.1V396.3M1488.1,369.9V396.4M1489.0,376.3V387.9M1489.9,363.1V385.3M1490.8,363.8V383.2M1491.7,353.6V381.8M1492.6,354.5V376.3M1493.5,350.9V378.8M1494.4,342.0V375.0M1495.3,344.4V369.8M1496.2,352.3V373.5M1497.1,350.0V376.0M1498.0,353.7V383.7M1498.9,352.6V377.0M1499.8,349.6V385.1M1500.7,352.0V381.3M1501.6,353.2V389.3M1502.5,352.6V385.0M1503.4,354.7V391.2M1504.3,358.1V389.9M1505.2,350.9V387.0M1506.1,357.0V387.9M1507.0,351.8V394.3M1507.9,358.2V391.4M1508.8,352.0V392.0M1509.7,352.6V394.2M1510.6,358.9V397.7M1511.5,355.9V393.8M1512.4,355.7V396.8M1513.3,355.8V398.6M1514.2,358.9V404.2M1515.1,369.1V403.1M1516.0,362.1V405.5M1516.9,363.1V402.7M1517.8,361.1V399.4M1518.7,368.1V391.2M1519.6,358.7V380.3M1520.5,355.8V380.3M1521.4,352.7V380.7M1522.3,358.7V374.2M1523.2,351.5V374.6M1524.1,344.9V372.0M1525.0,343.5V365.5M1525.9,338.0V349.2M1526.8,323.2V350.0M1527.7,316.3V345.2M1528.6,313.4V335.5M1529.5,313.0V331.1M1530.4,300.4V326.9M1531.3,298.5V328.8M1532.2,305.2V326.9M1533.1,307.4V331.0M1534.0,319.7V336.6M1534.9,321.6V350.2M1535.8,325.7V355.0M1536.7,324.7V351.2M1537.6,326.7V355.3M1538.5,325.1V357.4M1539.4,326.7V366.4M1540.3,331.7V361.6M1541.2,326.2V367.2M1542.1,331.6V366.0M1543.0,326.4V365.1M1543.9,332.2V357.4M1544.8,324.1V353.4M1545.7,334.1V364.6M1546.6,331.7V365.3M1547.5,342.8V375.0M1548.4,343.1V379.7M1549.3,357.6V381.1M1550.2,358.9V387.4M1551.1,359.3V391.8M1552.0,365.8V397.7M1552.9,371.8V407.2M1553.8,375.4V403.1M1554.7,373.5V402.3M1555.6,370.2V408.1M1556.5,368.7V406.4M1557.4,375.7V405.5M1558.3,368.5V406.2M1559.2,373.0V396.4M1560.1,369.4V403.6M1561.0,372.8V395.3M1561.9,368.5V398.5M1562.8,367.9V396.8M1563.7,362.8V384.3M1564.6,349.0V373.9M1565.5,341.5V369.9M1566.4,333.9V362.0M1567.3,323.1V347.7M1568.2,325.0V346.9M1569.1,320.0V348.0M1570.0,321.4V350.6M1570.9,322.3V343.3M1571.8,315.3V344.2M1572.7,319.4V349.7M1573.6,310.9V342.2M1574.5,308.1V345.2M1575.4,308.8V350.8M1576.3,307.0V351.3M1577.2,312.0V348.5M1578.1,319.4V350.0M1579.0,315.1V351.7M1579.9,325.8V355.4M1580.8,332.1V366.0M1581.7,337.8V374.6M1582.6,353.5V386.3M1583.5,356.7V397.6M1584.4,361.4V401.7M1585.3,366.2V404.5M1586.2,367.3V402.9M1587.1,366.2V399.0M1588.0,370.1V401.4M1588.9,372.5V393.1M1589.8,361.6V389.6M1590.7,359.4V387.5M1591.6,356.0V384.4M1592.5,360.1V385.1M1593.4,355.0V380.0M1594.3,351.8V381.6M1595.2,351.0V372.4M1596.1,346.0V370.1M1597.0,341.9V371.9M1597.9,342.9V370.3M1598.8,341.9V362.2M1599.7,336.5V366.5M1600.6,345.4V366.1M1601.5,338.6V363.4M1602.4,341.2V368.0M1603.3,350.5V365.4M1604.2,350.1V373.4M1605.1,346.4V375.0M1606.0,355.9V376.5M1606.9,348.6V373.5M1607.8,356.3V375.6M1608.7,354.9V375.7M1609.6,358.9V387.5M1610.5,365.9V391.5M1611.4,372.1V390.5M1612.3,371.9V397.8M1613.2,378.8V400.5M1614.1,379.7V406.8M1615.0,385.0V403.0M1615.9,379.3V399.1M1616.8,373.7V397.7M1617.7,371.8V396.9M1618.6,361.8V386.2M1619.5,360.6V380.5M1620.4,355.6V379.2M1621.3,350.1V379.7M1622.2,347.2V369.4M1623.1,337.0V370.3M1624.0,334.4V362.3M1624.9,329.5V366.2M1625.8,336.4V357.6M1626.7,328.7V361.5M1627.6,323.8V359.5M1628.5,330.6V357.8M1629.4,328.8V355.4M1630.3,327.5V354.0M1631.2,325.6V347.2M1632.1,322.8V351.7M1633.0,321.8V350.6M1633.9,326.7V347.5M1634.8,321.5V348.4M1635.7,319.7V341.6M1636.6,324.5V342.1M1637.5,324.9V339.7M1638.4,315.3V347.2M1639.3,316.4V341.9M1640.2,319.7V345.0M1641.1,322.9V353.6M1642.0,326.9V348.8M1642.9,329.1V358.8M1643.8,337.6V360.7M1644.7,337.3V360.6M1645.6,340.6V362.2M1646.5,337.5V367.3M1647.4,345.8V368.4M1648.3,341.3V366.7M1649.2,350.2V370.3M1650.1,342.4V370.5M1651.0,343.0V364.1M1651.9,343.6V368.4M1652.8,340.2V370.5M1653.7,340.8V365.5M1654.6,344.1V363.4M1655.5,334.2V359.1M1656.4,332.4V363.0M1657.3,331.5V361.9M1658.2,329.5V350.2M1659.1,323.4V347.3M1660.0,324.3V354.5M1660.9,324.1V355.0M1661.8,320.4V347.7M1662.7,318.4V347.3M1663.6,316.7V346.4M1664.5,322.2V349.3M1665.4,322.4V354.9M1666.3,322.3V354.3M1667.2,327.4V352.7M1668.1,328.5V362.4M1669.0,333.4V360.4M1669.9,338.8V360.9M1670.8,334.9V367.5M1671.7,340.1V368.7M1672.6,342.6V365.3M1673.5,345.2V368.8M1674.4,340.8V367.6M1675.3,338.1V365.4M1676.2,343.0V367.7M1677.1,338.5V372.3M1678.0,339.5V372.3M1678.9,341.8V365.9M1679.8,343.1V369.9M1680.7,343.1V371.0M1681.6,340.6V367.7M1682.5,344.7V372.0M1683.4,344.5V369.5M1684.3,338.2V357.2M1685.2,329.9V349.9M1686.1,315.3V342.7M1687.0,311.7V337.7M1687.9,306.2V332.0M1688.8,309.4V329.2M1689.7,307.4V329.8M1690.6,312.8V329.8M1691.5,323.5V339.6M1692.4,327.2V345.0M1693.3,332.7V343.8M1694.2,325.4V346.3M1695.1,330.0V348.4M1696.0,329.6V353.7M1696.9,340.0V353.5M1697.8,336.7V354.5M1698.7,335.3V361.6M1699.6,339.9V361.6M1700.5,342.7V361.4M1701.4,341.5V365.8M1702.3,351.0V362.7M1703.2,350.7V371.0M1704.1,351.7V371.9M1705.0,347.9V371.7M1705.9,357.2V371.9M1706.8,350.2V375.1M1707.7,352.0V369.3M1708.6,349.4V371.9M1709.5,344.4V371.6M1710.4,341.2V361.9M1711.3,345.5V363.4M1712.2,339.0V361.2M1713.1,336.8V359.2M1714.0,329.5V350.4M1714.9,325.9V343.5M1715.8,323.5V349.8M1716.7,319.1V336.5M1717.6,311.3V335.9M1718.5,309.9V325.5M1719.4,300.3V322.1M1720.3,296.2V317.5M1721.2,301.5V314.8M1722.1,288.9V315.0M1723.0,289.1V304.6M1723.9,287.1V309.9M1724.8,292.7V306.4M1725.7,297.7V309.3M1726.6,297.2V307.8M1727.5,296.2V320.6M1728.4,309.9V322.1M1729.3,317.7V326.2M1730.2,317.2V339.2M1731.1,331.8V343.0M1732.0,337.3V344.7M1732.9,336.3V357.7M1733.8,342.9V363.7M1734.7,351.8V362.1M1735.6,355.4V372.0M1736.5,361.8V371.1M1737.4,369.0V381.8M1738.3,367.9V387.7M1739.2,372.9V383.5M1740.1,379.6V394.1M1741.0,383.1V396.1" stroke="#fa4545" stroke-width="1.0" fill="none"/>
<line x1="87.10000000000001" y1="536.8" x2="98.7" y2="536.8" stroke="#000" stroke-width="2.7"/>
<line x1="808.1999999999999" y1="536.8" x2="819.8" y2="536.8" stroke="#000" stroke-width="2.7"/>
<line x1="87.10000000000001" y1="420.4" x2="98.7" y2="420.4" stroke="#000" stroke-width="2.7"/>
<line x1="808.1999999999999" y1="420.4" x2="819.8" y2="420.4" stroke="#000" stroke-width="2.7"/>
<line x1="87.10000000000001" y1="304.0" x2="98.7" y2="304.0" stroke="#000" stroke-width="2.7"/>
<line x1="808.1999999999999" y1="304.0" x2="819.8" y2="304.0" stroke="#000" stroke-width="2.7"/>
<line x1="87.10000000000001" y1="187.6" x2="98.7" y2="187.6" stroke="#000" stroke-width="2.7"/>
<line x1="808.1999999999999" y1="187.6" x2="819.8" y2="187.6" stroke="#000" stroke-width="2.7"/>
<line x1="87.10000000000001" y1="71.2" x2="98.7" y2="71.2" stroke="#000" stroke-width="2.7"/>
<line x1="808.1999999999999" y1="71.2" x2="819.8" y2="71.2" stroke="#000" stroke-width="2.7"/>
<line x1="98.70" y1="595" x2="98.70" y2="606.6" stroke="#000" stroke-width="2.7"/>
<line x1="242.92" y1="595" x2="242.92" y2="606.6" stroke="#000" stroke-width="2.7"/>
<line x1="242.92" y1="13" x2="242.92" y2="24.6" stroke="#000" stroke-width="2.7"/>
<line x1="387.14" y1="595" x2="387.14" y2="606.6" stroke="#000" stroke-width="2.7"/>
<line x1="387.14" y1="13" x2="387.14" y2="24.6" stroke="#000" stroke-width="2.7"/>
<line x1="531.36" y1="595" x2="531.36" y2="606.6" stroke="#000" stroke-width="2.7"/>
<line x1="531.36" y1="13" x2="531.36" y2="24.6" stroke="#000" stroke-width="2.7"/>
<line x1="675.58" y1="595" x2="675.58" y2="606.6" stroke="#000" stroke-width="2.7"/>
<line x1="675.58" y1="13" x2="675.58" y2="24.6" stroke="#000" stroke-width="2.7"/>
<line x1="819.80" y1="595" x2="819.80" y2="606.6" stroke="#000" stroke-width="2.7"/>
<rect x="98.7" y="13" width="721.0999999999999" height="582" fill="none" stroke="#000" stroke-width="2.55"/>
<line x1="1013.4" y1="531.89" x2="1025" y2="531.89" stroke="#000" stroke-width="2.7"/>
<line x1="1730.4" y1="531.89" x2="1742" y2="531.89" stroke="#000" stroke-width="2.7"/>
<line x1="1013.4" y1="403.67" x2="1025" y2="403.67" stroke="#000" stroke-width="2.7"/>
<line x1="1730.4" y1="403.67" x2="1742" y2="403.67" stroke="#000" stroke-width="2.7"/>
<line x1="1013.4" y1="275.44" x2="1025" y2="275.44" stroke="#000" stroke-width="2.7"/>
<line x1="1730.4" y1="275.44" x2="1742" y2="275.44" stroke="#000" stroke-width="2.7"/>
<line x1="1013.4" y1="147.22" x2="1025" y2="147.22" stroke="#000" stroke-width="2.7"/>
<line x1="1730.4" y1="147.22" x2="1742" y2="147.22" stroke="#000" stroke-width="2.7"/>
<line x1="1013.4" y1="19.0" x2="1025" y2="19.0" stroke="#000" stroke-width="2.7"/>
<line x1="1025.00" y1="596" x2="1025.00" y2="607.6" stroke="#000" stroke-width="2.7"/>
<line x1="1168.40" y1="596" x2="1168.40" y2="607.6" stroke="#000" stroke-width="2.7"/>
<line x1="1168.40" y1="19" x2="1168.40" y2="30.6" stroke="#000" stroke-width="2.7"/>
<line x1="1311.80" y1="596" x2="1311.80" y2="607.6" stroke="#000" stroke-width="2.7"/>
<line x1="1311.80" y1="19" x2="1311.80" y2="30.6" stroke="#000" stroke-width="2.7"/>
<line x1="1455.20" y1="596" x2="1455.20" y2="607.6" stroke="#000" stroke-width="2.7"/>
<line x1="1455.20" y1="19" x2="1455.20" y2="30.6" stroke="#000" stroke-width="2.7"/>
<line x1="1598.60" y1="596" x2="1598.60" y2="607.6" stroke="#000" stroke-width="2.7"/>
<line x1="1598.60" y1="19" x2="1598.60" y2="30.6" stroke="#000" stroke-width="2.7"/>
<line x1="1742.00" y1="596" x2="1742.00" y2="607.6" stroke="#000" stroke-width="2.7"/>
<rect x="1025" y="19" width="717" height="577" fill="none" stroke="#000" stroke-width="2.55"/>
<rect x="231.4" y="37.1" width="553.3000000000001" height="89.5" fill="#fff" stroke="#333" stroke-width="1.3"/>
<line x1="235.5" y1="60.5" x2="313" y2="60.5" stroke="#555" stroke-width="1.3"/>
<line x1="235.5" y1="102.9" x2="313" y2="102.9" stroke="#dd4a4a" stroke-width="1.5"/>
<text x="321" y="71.5" text-anchor="start" >Flexible wheelset SD = (1.51 <tspan font-style="italic">k</tspan>N)</text>
<text x="321" y="113.9" text-anchor="start" >Rigid</text>
<text x="441.5" y="113.9" text-anchor="start" >wheelset SD = (0.43 <tspan font-style="italic">k</tspan>N)</text>
<rect x="1164.8" y="42.4" width="551.0" height="88.79999999999998" fill="#fff" stroke="#333" stroke-width="1.3"/>
<line x1="1169.4" y1="65.6" x2="1246.2" y2="65.6" stroke="#555" stroke-width="1.3"/>
<line x1="1169.4" y1="107.5" x2="1246.2" y2="107.5" stroke="#dd4a4a" stroke-width="1.5"/>
<text x="1254.7" y="76.6" text-anchor="start" style="font-size:34px">Flexible wheelset SD = (6.99 <tspan font-style="italic">k</tspan>N)</text>
<text x="1254.7" y="118.5" text-anchor="start" style="font-size:34px">Rigid</text>
<text x="1374" y="118.5" text-anchor="start" style="font-size:34px">wheelset SD = (1.86 <tspan font-style="italic">k</tspan>N)</text>
<g font-family='"Liberation Serif", "Times New Roman", serif' font-size="34.2" fill="#000"><text x="79.7" y="546.4" text-anchor="end" >2</text>
<text x="79.7" y="430.0" text-anchor="end" >4</text>
<text x="79.7" y="313.6" text-anchor="end" >6</text>
<text x="79.7" y="197.2" text-anchor="end" >8</text>
<text x="79.7" y="80.8" text-anchor="end" >10</text>
<text x="1005.4" y="541.49" text-anchor="end" >10</text>
<text x="1005.4" y="413.27" text-anchor="end" >20</text>
<text x="1005.4" y="285.04" text-anchor="end" >30</text>
<text x="1005.4" y="156.82" text-anchor="end" >40</text>
<text x="1005.4" y="28.6" text-anchor="end" >50</text>
<text x="98.7" y="640.3" text-anchor="middle" >1.0</text>
<text x="1025.0" y="641.9" text-anchor="middle" >1.0</text>
<text x="242.92" y="640.3" text-anchor="middle" >1.2</text>
<text x="1168.4" y="641.9" text-anchor="middle" >1.2</text>
<text x="387.14" y="640.3" text-anchor="middle" >1.4</text>
<text x="1311.8" y="641.9" text-anchor="middle" >1.4</text>
<text x="531.36" y="640.3" text-anchor="middle" >1.6</text>
<text x="1455.2" y="641.9" text-anchor="middle" >1.6</text>
<text x="675.58" y="640.3" text-anchor="middle" >1.8</text>
<text x="1598.6" y="641.9" text-anchor="middle" >1.8</text>
<text x="819.8" y="640.3" text-anchor="middle" >2.0</text>
<text x="1742.0" y="641.9" text-anchor="middle" >2.0</text>
<text x="459.5" y="677" text-anchor="middle" >Time (s)</text>
<text x="1383.5" y="678" text-anchor="middle" >Time (s)</text>
<text x="454" y="734.3" text-anchor="middle" style="font-size:40.8px">(<tspan font-weight="bold">a</tspan>)</text>
<text x="1396.5" y="734.3" text-anchor="middle" style="font-size:40.8px">(<tspan font-weight="bold">b</tspan>)</text>
<text transform="translate(31.0,303.3) rotate(-90)" text-anchor="middle">Axial force (<tspan font-style="italic">k</tspan>N)</text>
<text transform="translate(958.3,307.5) rotate(-90)" text-anchor="middle">Radial force (<tspan font-style="italic">k</tspan>N)</text></g>
</svg></body></html>
